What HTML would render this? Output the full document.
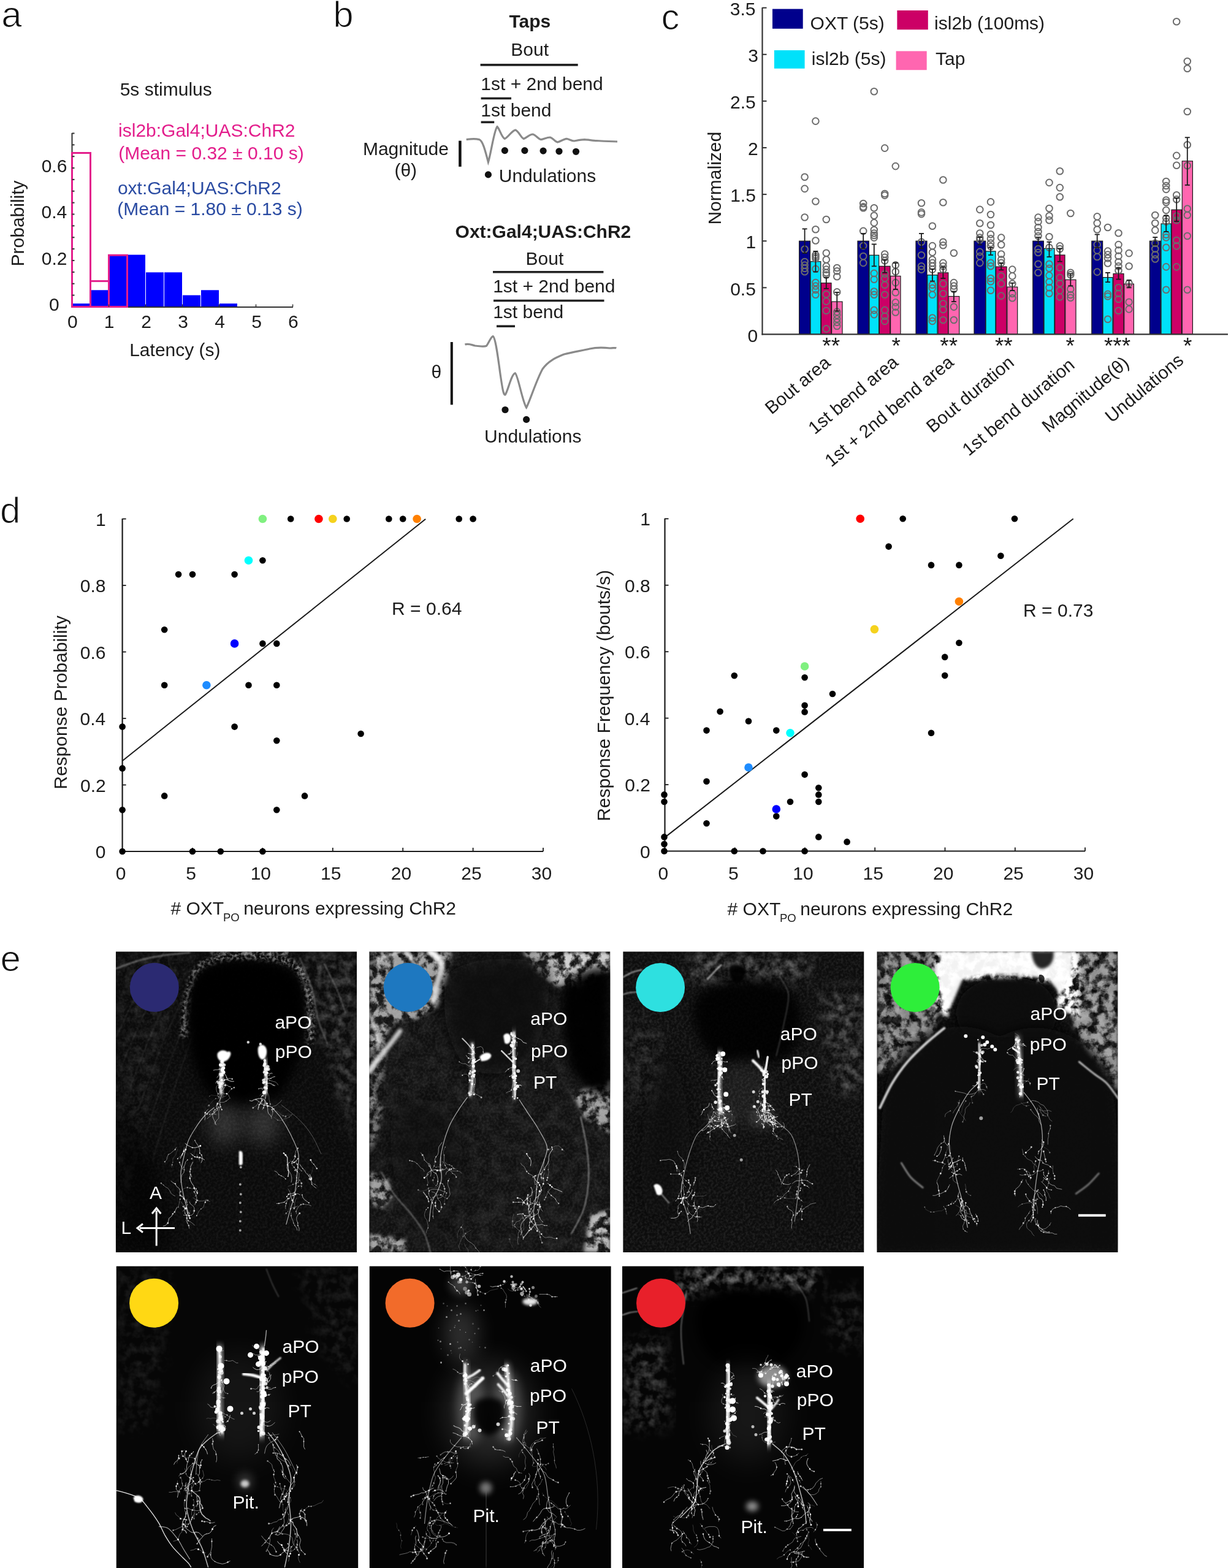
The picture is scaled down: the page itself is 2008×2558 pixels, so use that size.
<!DOCTYPE html>
<html><head><meta charset="utf-8"><title>Figure</title>
<style>
html,body{margin:0;padding:0;background:#fff;}
body{width:2008px;height:2558px;overflow:hidden;}
svg{display:block;}
text{font-family:"Liberation Sans", Arial, sans-serif;}
</style></head>
<body>
<svg width="2008" height="2558" viewBox="0 0 2008 2558">
<text x="2.20" y="44.20" font-size="60" fill="#111" stroke="#fff" stroke-width="1.2" >a</text>
<rect x="118.0" y="495.2" width="29.0" height="5.3" fill="#0000FF" stroke="none" stroke-width="0" />
<rect x="148.0" y="473.3" width="29.0" height="27.2" fill="#0000FF" stroke="none" stroke-width="0" />
<rect x="178.0" y="416.3" width="29.0" height="84.2" fill="#0000FF" stroke="none" stroke-width="0" />
<rect x="208.0" y="415.6" width="29.0" height="84.9" fill="#0000FF" stroke="none" stroke-width="0" />
<rect x="238.0" y="444.3" width="29.0" height="56.2" fill="#0000FF" stroke="none" stroke-width="0" />
<rect x="268.0" y="444.3" width="29.0" height="56.2" fill="#0000FF" stroke="none" stroke-width="0" />
<rect x="298.0" y="481.6" width="29.0" height="18.9" fill="#0000FF" stroke="none" stroke-width="0" />
<rect x="328.0" y="473.3" width="29.0" height="27.2" fill="#0000FF" stroke="none" stroke-width="0" />
<rect x="358.0" y="495.2" width="29.0" height="5.3" fill="#0000FF" stroke="none" stroke-width="0" />
<line x1="117.5" y1="217" x2="117.5" y2="501.5" stroke="#333" stroke-width="2" />
<line x1="116.5" y1="501.0" x2="478" y2="501.0" stroke="#333" stroke-width="2" />
<rect x="117.5" y="249.5" width="30.0" height="251.0" fill="none" stroke="#E31E8C" stroke-width="3" />
<rect x="147.5" y="458.6" width="30.0" height="41.9" fill="none" stroke="#E31E8C" stroke-width="3" />
<rect x="177.5" y="416.3" width="30.0" height="84.2" fill="none" stroke="#E31E8C" stroke-width="3" />
<line x1="117.5" y1="481.6" x2="121.5" y2="481.6" stroke="#333" stroke-width="2" />
<line x1="117.5" y1="462.8" x2="121.5" y2="462.8" stroke="#333" stroke-width="2" />
<line x1="117.5" y1="443.9" x2="121.5" y2="443.9" stroke="#333" stroke-width="2" />
<line x1="117.5" y1="425.0" x2="121.5" y2="425.0" stroke="#333" stroke-width="2" />
<line x1="117.5" y1="406.1" x2="121.5" y2="406.1" stroke="#333" stroke-width="2" />
<line x1="117.5" y1="387.3" x2="121.5" y2="387.3" stroke="#333" stroke-width="2" />
<line x1="117.5" y1="368.4" x2="121.5" y2="368.4" stroke="#333" stroke-width="2" />
<line x1="117.5" y1="349.5" x2="121.5" y2="349.5" stroke="#333" stroke-width="2" />
<line x1="117.5" y1="330.7" x2="121.5" y2="330.7" stroke="#333" stroke-width="2" />
<line x1="117.5" y1="311.8" x2="121.5" y2="311.8" stroke="#333" stroke-width="2" />
<line x1="117.5" y1="292.9" x2="121.5" y2="292.9" stroke="#333" stroke-width="2" />
<line x1="117.5" y1="274.1" x2="121.5" y2="274.1" stroke="#333" stroke-width="2" />
<line x1="117.5" y1="255.2" x2="121.5" y2="255.2" stroke="#333" stroke-width="2" />
<line x1="117.5" y1="236.3" x2="121.5" y2="236.3" stroke="#333" stroke-width="2" />
<line x1="117.5" y1="217.5" x2="121.5" y2="217.5" stroke="#333" stroke-width="2" />
<line x1="177.5" y1="500.5" x2="177.5" y2="496.5" stroke="#333" stroke-width="1.5" />
<line x1="237.5" y1="500.5" x2="237.5" y2="496.5" stroke="#333" stroke-width="1.5" />
<line x1="297.5" y1="500.5" x2="297.5" y2="496.5" stroke="#333" stroke-width="1.5" />
<line x1="357.5" y1="500.5" x2="357.5" y2="496.5" stroke="#333" stroke-width="1.5" />
<line x1="417.5" y1="500.5" x2="417.5" y2="496.5" stroke="#333" stroke-width="1.5" />
<line x1="477.5" y1="500.5" x2="477.5" y2="496.5" stroke="#333" stroke-width="1.5" />
<text x="110.10" y="535.40" font-size="30" fill="#1c1c1c" >0</text>
<text x="169.72" y="535.40" font-size="30" fill="#1c1c1c" >1</text>
<text x="230.18" y="535.40" font-size="30" fill="#1c1c1c" >2</text>
<text x="290.18" y="535.40" font-size="30" fill="#1c1c1c" >3</text>
<text x="350.32" y="535.40" font-size="30" fill="#1c1c1c" >4</text>
<text x="410.18" y="535.40" font-size="30" fill="#1c1c1c" >5</text>
<text x="470.02" y="535.40" font-size="30" fill="#1c1c1c" >6</text>
<text x="80.10" y="507.00" font-size="30" fill="#1c1c1c" >0</text>
<text x="67.80" y="431.50" font-size="30" fill="#1c1c1c" >0.2</text>
<text x="67.50" y="356.00" font-size="30" fill="#1c1c1c" >0.4</text>
<text x="67.65" y="280.60" font-size="30" fill="#1c1c1c" >0.6</text>
<text x="211.20" y="581.10" font-size="30" fill="#1c1c1c" >Latency (s)</text>
<text x="-71.25" y="0" font-size="30" fill="#1c1c1c" transform="translate(38.70,363.20) rotate(-90)">Probability</text>
<text x="195.70" y="155.60" font-size="30" fill="#1c1c1c" >5s stimulus</text>
<text x="193.05" y="222.70" font-size="30" fill="#E31E8C" >isl2b:Gal4;UAS:ChR2</text>
<text x="193.20" y="259.60" font-size="30" fill="#E31E8C" >(Mean = 0.32 ± 0.10 s)</text>
<text x="191.90" y="316.70" font-size="30" fill="#2A4BA2" >oxt:Gal4;UAS:ChR2</text>
<text x="191.30" y="351.40" font-size="30" fill="#2A4BA2" >(Mean = 1.80 ± 0.13 s)</text>
<text x="543.30" y="44.20" font-size="60" fill="#111" stroke="#fff" stroke-width="1.2" >b</text>
<text x="830.50" y="44.90" font-size="30" fill="#1c1c1c" font-weight="bold" >Taps</text>
<text x="833.30" y="91.10" font-size="30" fill="#1c1c1c" >Bout</text>
<line x1="783.6" y1="105.9" x2="942.7" y2="105.9" stroke="#222" stroke-width="3.6" />
<text x="784.35" y="146.50" font-size="30" fill="#1c1c1c" >1st + 2nd bend</text>
<line x1="784.6" y1="160.5" x2="834" y2="160.5" stroke="#222" stroke-width="3.6" />
<text x="784.35" y="190.00" font-size="30" fill="#1c1c1c" >1st bend</text>
<line x1="784.6" y1="199.3" x2="806.2" y2="199.3" stroke="#222" stroke-width="3.6" />
<path d="M760.7,227.6 C768,226.5 776,226 781.6,227.6 C788,230 792,248 796.4,264.5 C801,250 806,212 811.1,206.7 C815,210 818,224 823.4,226.4 C829,224 835,213 840.7,212.1 C846,214 850,225 854.2,226.4 C859,225 864,219 869,219 C874,220 878,227 882.5,227.6 C887,227 892,224 897.2,224 C902,225 905,231 909.5,232 C914,231 919,227 924.3,226.4 C929,227 932,230 936.6,230 C942,229 948,227.6 953.8,227.6 C960,228 968,229.5 973.4,229.6 C982,230 992,230.5 1007,231" fill="none" stroke="#8a8a8a" stroke-width="3.2"/>
<line x1="750.4" y1="229.6" x2="750.4" y2="271.9" stroke="#111" stroke-width="4.5" />
<circle cx="823.4" cy="245.6" r="5.6" fill="#111" stroke="none" stroke-width="0" />
<circle cx="855.9" cy="245.6" r="5.6" fill="#111" stroke="none" stroke-width="0" />
<circle cx="886.1" cy="246.1" r="5.6" fill="#111" stroke="none" stroke-width="0" />
<circle cx="912" cy="246.8" r="5.6" fill="#111" stroke="none" stroke-width="0" />
<circle cx="939.5" cy="247.3" r="5.6" fill="#111" stroke="none" stroke-width="0" />
<text x="591.90" y="253.00" font-size="30" fill="#1c1c1c" >Magnitude</text>
<text x="643.40" y="287.90" font-size="30" fill="#1c1c1c" >(θ)</text>
<circle cx="796.4" cy="284.9" r="5.6" fill="#111" stroke="none" stroke-width="0" />
<text x="813.75" y="296.50" font-size="30" fill="#1c1c1c" >Undulations</text>
<text x="742.60" y="387.50" font-size="30" fill="#1c1c1c" font-weight="bold" >Oxt:Gal4;UAS:ChR2</text>
<text x="857.60" y="431.50" font-size="30" fill="#1c1c1c" >Bout</text>
<line x1="804" y1="443.7" x2="984.4" y2="443.7" stroke="#222" stroke-width="3.6" />
<text x="804.15" y="476.50" font-size="30" fill="#1c1c1c" >1st + 2nd bend</text>
<line x1="805" y1="490.5" x2="985.5" y2="490.5" stroke="#222" stroke-width="3.6" />
<text x="804.15" y="518.60" font-size="30" fill="#1c1c1c" >1st bend</text>
<line x1="810" y1="532.2" x2="840" y2="532.2" stroke="#222" stroke-width="3.6" />
<path d="M758.4,562 C765,560 770,563 775,564 C782,565 790,566 793.5,564.3 C797,560 801,549 804,548.6 C808,550 812,580 816,610 C819,630 821,645 824,644 C828,640 834,610 840.3,608.8 C845,612 852,655 858.6,665 C864,655 875,620 885,602 C895,588 908,583 920,578 C935,574 950,572 962,569 C975,566 985,567 995,568 C1000,568 1003,567 1005.4,567.8" fill="none" stroke="#8a8a8a" stroke-width="3.2"/>
<line x1="736.8" y1="558" x2="736.8" y2="660.3" stroke="#111" stroke-width="4" />
<text x="703.50" y="617.00" font-size="30" fill="#1c1c1c" >θ</text>
<circle cx="824" cy="668.5" r="5.6" fill="#111" stroke="none" stroke-width="0" />
<circle cx="858.6" cy="684.4" r="5.6" fill="#111" stroke="none" stroke-width="0" />
<text x="790.05" y="722.40" font-size="30" fill="#1c1c1c" >Undulations</text>
<text x="1078.60" y="48.00" font-size="60" fill="#111" stroke="#fff" stroke-width="1.2" >c</text>
<rect x="1260" y="14.6" width="49.7" height="32.2" fill="#00008C" stroke="none" stroke-width="0" />
<rect x="1463.4" y="17" width="50.4" height="31.3" fill="#CC0066" stroke="none" stroke-width="0" />
<rect x="1262.9" y="82" width="49.7" height="29.8" fill="#00E1FA" stroke="none" stroke-width="0" />
<rect x="1461.6" y="83.4" width="50.1" height="30.8" fill="#FF66B0" stroke="none" stroke-width="0" />
<text x="1321.55" y="47.70" font-size="30" fill="#1c1c1c" >OXT (5s)</text>
<text x="1524.05" y="47.70" font-size="30" fill="#1c1c1c" >isl2b (100ms)</text>
<text x="1323.75" y="106.30" font-size="30" fill="#1c1c1c" >isl2b (5s)</text>
<text x="1526.00" y="106.30" font-size="30" fill="#1c1c1c" >Tap</text>
<rect x="1303.7" y="393.2" width="17.8" height="152.2" fill="#00008C" stroke="#1a1a1a" stroke-width="1.2" />
<rect x="1322" y="426.7" width="16.8" height="118.7" fill="#00E1FA" stroke="#1a1a1a" stroke-width="1.2" />
<rect x="1339.5" y="461.7" width="16.5" height="83.7" fill="#CC0066" stroke="#1a1a1a" stroke-width="1.2" />
<rect x="1356.6" y="492.1" width="17.4" height="53.3" fill="#FF66B0" stroke="#1a1a1a" stroke-width="1.2" />
<rect x="1399" y="393.2" width="18.3" height="152.2" fill="#00008C" stroke="#1a1a1a" stroke-width="1.2" />
<rect x="1418" y="416.3" width="15.7" height="129.1" fill="#00E1FA" stroke="#1a1a1a" stroke-width="1.2" />
<rect x="1434.4" y="434.3" width="17.6" height="111.1" fill="#CC0066" stroke="#1a1a1a" stroke-width="1.2" />
<rect x="1452.6" y="450.4" width="16.4" height="95.0" fill="#FF66B0" stroke="#1a1a1a" stroke-width="1.2" />
<rect x="1494" y="393.2" width="18" height="152.2" fill="#00008C" stroke="#1a1a1a" stroke-width="1.2" />
<rect x="1512.8" y="448.6" width="16.2" height="96.8" fill="#00E1FA" stroke="#1a1a1a" stroke-width="1.2" />
<rect x="1530" y="444.9" width="16.8" height="100.5" fill="#CC0066" stroke="#1a1a1a" stroke-width="1.2" />
<rect x="1547" y="483.5" width="17.8" height="61.9" fill="#FF66B0" stroke="#1a1a1a" stroke-width="1.2" />
<rect x="1589" y="393.2" width="18.7" height="152.2" fill="#00008C" stroke="#1a1a1a" stroke-width="1.2" />
<rect x="1608" y="409.9" width="16" height="135.5" fill="#00E1FA" stroke="#1a1a1a" stroke-width="1.2" />
<rect x="1624.5" y="435.1" width="17.5" height="110.3" fill="#CC0066" stroke="#1a1a1a" stroke-width="1.2" />
<rect x="1642.9" y="468.2" width="16.8" height="77.2" fill="#FF66B0" stroke="#1a1a1a" stroke-width="1.2" />
<rect x="1684.8" y="393.2" width="17.5" height="152.2" fill="#00008C" stroke="#1a1a1a" stroke-width="1.2" />
<rect x="1703" y="405.4" width="17" height="140.0" fill="#00E1FA" stroke="#1a1a1a" stroke-width="1.2" />
<rect x="1720.6" y="416.0" width="16.4" height="129.4" fill="#CC0066" stroke="#1a1a1a" stroke-width="1.2" />
<rect x="1737.7" y="456.4" width="17.3" height="89.0" fill="#FF66B0" stroke="#1a1a1a" stroke-width="1.2" />
<rect x="1780.8" y="393.2" width="17.8" height="152.2" fill="#00008C" stroke="#1a1a1a" stroke-width="1.2" />
<rect x="1799" y="452.6" width="16" height="92.8" fill="#00E1FA" stroke="#1a1a1a" stroke-width="1.2" />
<rect x="1816" y="446.5" width="17" height="98.9" fill="#CC0066" stroke="#1a1a1a" stroke-width="1.2" />
<rect x="1833.7" y="463.2" width="15.7" height="82.2" fill="#FF66B0" stroke="#1a1a1a" stroke-width="1.2" />
<rect x="1875.4" y="393.2" width="17.8" height="152.2" fill="#00008C" stroke="#1a1a1a" stroke-width="1.2" />
<rect x="1894" y="365.0" width="16.3" height="180.4" fill="#00E1FA" stroke="#1a1a1a" stroke-width="1.2" />
<rect x="1911" y="342.2" width="16.4" height="203.2" fill="#CC0066" stroke="#1a1a1a" stroke-width="1.2" />
<rect x="1928.3" y="262.8" width="17.1" height="282.6" fill="#FF66B0" stroke="#1a1a1a" stroke-width="1.2" />
<circle cx="1312.6" cy="288.7" r="5.3" fill="none" stroke="#6c6c6c" stroke-width="2" />
<circle cx="1312.6" cy="307.9" r="5.3" fill="none" stroke="#6c6c6c" stroke-width="2" />
<circle cx="1312.6" cy="354.5" r="5.3" fill="none" stroke="#6c6c6c" stroke-width="2" />
<circle cx="1312.6" cy="406.5" r="5.3" fill="none" stroke="#6c6c6c" stroke-width="2" />
<circle cx="1312.6" cy="427" r="5.3" fill="none" stroke="#6c6c6c" stroke-width="2" />
<circle cx="1312.6" cy="432.5" r="5.3" fill="none" stroke="#6c6c6c" stroke-width="2" />
<circle cx="1312.6" cy="437.8" r="5.3" fill="none" stroke="#6c6c6c" stroke-width="2" />
<circle cx="1312.6" cy="443.2" r="5.3" fill="none" stroke="#6c6c6c" stroke-width="2" />
<circle cx="1330.4" cy="197.6" r="5.3" fill="none" stroke="#6c6c6c" stroke-width="2" />
<circle cx="1330.4" cy="328.5" r="5.3" fill="none" stroke="#6c6c6c" stroke-width="2" />
<circle cx="1330.4" cy="374.2" r="5.3" fill="none" stroke="#6c6c6c" stroke-width="2" />
<circle cx="1330.4" cy="392.5" r="5.3" fill="none" stroke="#6c6c6c" stroke-width="2" />
<circle cx="1330.4" cy="416" r="5.3" fill="none" stroke="#6c6c6c" stroke-width="2" />
<circle cx="1330.4" cy="419" r="5.3" fill="none" stroke="#6c6c6c" stroke-width="2" />
<circle cx="1330.4" cy="421.7" r="5.3" fill="none" stroke="#6c6c6c" stroke-width="2" />
<circle cx="1330.4" cy="438.7" r="5.3" fill="none" stroke="#6c6c6c" stroke-width="2" />
<circle cx="1330.4" cy="461" r="5.3" fill="none" stroke="#6c6c6c" stroke-width="2" />
<circle cx="1330.4" cy="466.5" r="5.3" fill="none" stroke="#6c6c6c" stroke-width="2" />
<circle cx="1330.4" cy="472.8" r="5.3" fill="none" stroke="#6c6c6c" stroke-width="2" />
<circle cx="1330.4" cy="480.8" r="5.3" fill="none" stroke="#6c6c6c" stroke-width="2" />
<circle cx="1347.8" cy="358" r="5.3" fill="none" stroke="#6c6c6c" stroke-width="2" />
<circle cx="1347.8" cy="412.7" r="5.3" fill="none" stroke="#6c6c6c" stroke-width="2" />
<circle cx="1347.8" cy="423.5" r="5.3" fill="none" stroke="#6c6c6c" stroke-width="2" />
<circle cx="1347.8" cy="434.2" r="5.3" fill="none" stroke="#6c6c6c" stroke-width="2" />
<circle cx="1347.8" cy="439.6" r="5.3" fill="none" stroke="#6c6c6c" stroke-width="2" />
<circle cx="1347.8" cy="445" r="5.3" fill="none" stroke="#6c6c6c" stroke-width="2" />
<circle cx="1347.8" cy="448.6" r="5.3" fill="none" stroke="#6c6c6c" stroke-width="2" />
<circle cx="1347.8" cy="480" r="5.3" fill="none" stroke="#6c6c6c" stroke-width="2" />
<circle cx="1347.8" cy="491.6" r="5.3" fill="none" stroke="#6c6c6c" stroke-width="2" />
<circle cx="1347.8" cy="506.8" r="5.3" fill="none" stroke="#6c6c6c" stroke-width="2" />
<circle cx="1347.8" cy="536.4" r="5.3" fill="none" stroke="#6c6c6c" stroke-width="2" />
<circle cx="1365.3" cy="437" r="5.3" fill="none" stroke="#6c6c6c" stroke-width="2" />
<circle cx="1365.3" cy="442.3" r="5.3" fill="none" stroke="#6c6c6c" stroke-width="2" />
<circle cx="1365.3" cy="451.3" r="5.3" fill="none" stroke="#6c6c6c" stroke-width="2" />
<circle cx="1365.3" cy="476.4" r="5.3" fill="none" stroke="#6c6c6c" stroke-width="2" />
<circle cx="1365.3" cy="508.6" r="5.3" fill="none" stroke="#6c6c6c" stroke-width="2" />
<circle cx="1365.3" cy="514" r="5.3" fill="none" stroke="#6c6c6c" stroke-width="2" />
<circle cx="1365.3" cy="520.3" r="5.3" fill="none" stroke="#6c6c6c" stroke-width="2" />
<circle cx="1365.3" cy="525.7" r="5.3" fill="none" stroke="#6c6c6c" stroke-width="2" />
<circle cx="1365.3" cy="532" r="5.3" fill="none" stroke="#6c6c6c" stroke-width="2" />
<circle cx="1408.2" cy="332" r="5.3" fill="none" stroke="#6c6c6c" stroke-width="2" />
<circle cx="1408.2" cy="337.4" r="5.3" fill="none" stroke="#6c6c6c" stroke-width="2" />
<circle cx="1408.2" cy="339.2" r="5.3" fill="none" stroke="#6c6c6c" stroke-width="2" />
<circle cx="1408.2" cy="376.9" r="5.3" fill="none" stroke="#6c6c6c" stroke-width="2" />
<circle cx="1408.2" cy="401" r="5.3" fill="none" stroke="#6c6c6c" stroke-width="2" />
<circle cx="1408.2" cy="418" r="5.3" fill="none" stroke="#6c6c6c" stroke-width="2" />
<circle cx="1408.2" cy="428.9" r="5.3" fill="none" stroke="#6c6c6c" stroke-width="2" />
<circle cx="1425.8" cy="149.3" r="5.3" fill="none" stroke="#6c6c6c" stroke-width="2" />
<circle cx="1425.8" cy="339.2" r="5.3" fill="none" stroke="#6c6c6c" stroke-width="2" />
<circle cx="1425.8" cy="351.8" r="5.3" fill="none" stroke="#6c6c6c" stroke-width="2" />
<circle cx="1425.8" cy="363.4" r="5.3" fill="none" stroke="#6c6c6c" stroke-width="2" />
<circle cx="1425.8" cy="375" r="5.3" fill="none" stroke="#6c6c6c" stroke-width="2" />
<circle cx="1425.8" cy="380.5" r="5.3" fill="none" stroke="#6c6c6c" stroke-width="2" />
<circle cx="1425.8" cy="384" r="5.3" fill="none" stroke="#6c6c6c" stroke-width="2" />
<circle cx="1425.8" cy="387.6" r="5.3" fill="none" stroke="#6c6c6c" stroke-width="2" />
<circle cx="1425.8" cy="445.9" r="5.3" fill="none" stroke="#6c6c6c" stroke-width="2" />
<circle cx="1425.8" cy="455.7" r="5.3" fill="none" stroke="#6c6c6c" stroke-width="2" />
<circle cx="1425.8" cy="475.5" r="5.3" fill="none" stroke="#6c6c6c" stroke-width="2" />
<circle cx="1425.8" cy="480.8" r="5.3" fill="none" stroke="#6c6c6c" stroke-width="2" />
<circle cx="1425.8" cy="505.9" r="5.3" fill="none" stroke="#6c6c6c" stroke-width="2" />
<circle cx="1425.8" cy="513.1" r="5.3" fill="none" stroke="#6c6c6c" stroke-width="2" />
<circle cx="1443.2" cy="241.6" r="5.3" fill="none" stroke="#6c6c6c" stroke-width="2" />
<circle cx="1443.2" cy="316" r="5.3" fill="none" stroke="#6c6c6c" stroke-width="2" />
<circle cx="1443.2" cy="318.6" r="5.3" fill="none" stroke="#6c6c6c" stroke-width="2" />
<circle cx="1443.2" cy="414.5" r="5.3" fill="none" stroke="#6c6c6c" stroke-width="2" />
<circle cx="1443.2" cy="419.9" r="5.3" fill="none" stroke="#6c6c6c" stroke-width="2" />
<circle cx="1443.2" cy="425.3" r="5.3" fill="none" stroke="#6c6c6c" stroke-width="2" />
<circle cx="1443.2" cy="446.8" r="5.3" fill="none" stroke="#6c6c6c" stroke-width="2" />
<circle cx="1443.2" cy="454" r="5.3" fill="none" stroke="#6c6c6c" stroke-width="2" />
<circle cx="1443.2" cy="464.7" r="5.3" fill="none" stroke="#6c6c6c" stroke-width="2" />
<circle cx="1443.2" cy="480.8" r="5.3" fill="none" stroke="#6c6c6c" stroke-width="2" />
<circle cx="1443.2" cy="505.9" r="5.3" fill="none" stroke="#6c6c6c" stroke-width="2" />
<circle cx="1443.2" cy="515.8" r="5.3" fill="none" stroke="#6c6c6c" stroke-width="2" />
<circle cx="1443.2" cy="523.9" r="5.3" fill="none" stroke="#6c6c6c" stroke-width="2" />
<circle cx="1460.8" cy="271.1" r="5.3" fill="none" stroke="#6c6c6c" stroke-width="2" />
<circle cx="1460.8" cy="432.4" r="5.3" fill="none" stroke="#6c6c6c" stroke-width="2" />
<circle cx="1460.8" cy="443.2" r="5.3" fill="none" stroke="#6c6c6c" stroke-width="2" />
<circle cx="1460.8" cy="461.1" r="5.3" fill="none" stroke="#6c6c6c" stroke-width="2" />
<circle cx="1460.8" cy="477.3" r="5.3" fill="none" stroke="#6c6c6c" stroke-width="2" />
<circle cx="1460.8" cy="493.4" r="5.3" fill="none" stroke="#6c6c6c" stroke-width="2" />
<circle cx="1460.8" cy="500.6" r="5.3" fill="none" stroke="#6c6c6c" stroke-width="2" />
<circle cx="1460.8" cy="509.5" r="5.3" fill="none" stroke="#6c6c6c" stroke-width="2" />
<circle cx="1503.0" cy="331.2" r="5.3" fill="none" stroke="#6c6c6c" stroke-width="2" />
<circle cx="1503.0" cy="346.4" r="5.3" fill="none" stroke="#6c6c6c" stroke-width="2" />
<circle cx="1503.0" cy="349.1" r="5.3" fill="none" stroke="#6c6c6c" stroke-width="2" />
<circle cx="1503.0" cy="394.8" r="5.3" fill="none" stroke="#6c6c6c" stroke-width="2" />
<circle cx="1503.0" cy="416.3" r="5.3" fill="none" stroke="#6c6c6c" stroke-width="2" />
<circle cx="1503.0" cy="434.2" r="5.3" fill="none" stroke="#6c6c6c" stroke-width="2" />
<circle cx="1503.0" cy="439.6" r="5.3" fill="none" stroke="#6c6c6c" stroke-width="2" />
<circle cx="1520.9" cy="368.8" r="5.3" fill="none" stroke="#6c6c6c" stroke-width="2" />
<circle cx="1520.9" cy="401.1" r="5.3" fill="none" stroke="#6c6c6c" stroke-width="2" />
<circle cx="1520.9" cy="411.8" r="5.3" fill="none" stroke="#6c6c6c" stroke-width="2" />
<circle cx="1520.9" cy="423.5" r="5.3" fill="none" stroke="#6c6c6c" stroke-width="2" />
<circle cx="1520.9" cy="428.9" r="5.3" fill="none" stroke="#6c6c6c" stroke-width="2" />
<circle cx="1520.9" cy="434.2" r="5.3" fill="none" stroke="#6c6c6c" stroke-width="2" />
<circle cx="1520.9" cy="439.6" r="5.3" fill="none" stroke="#6c6c6c" stroke-width="2" />
<circle cx="1520.9" cy="464.7" r="5.3" fill="none" stroke="#6c6c6c" stroke-width="2" />
<circle cx="1520.9" cy="470.1" r="5.3" fill="none" stroke="#6c6c6c" stroke-width="2" />
<circle cx="1520.9" cy="480.8" r="5.3" fill="none" stroke="#6c6c6c" stroke-width="2" />
<circle cx="1520.9" cy="518.5" r="5.3" fill="none" stroke="#6c6c6c" stroke-width="2" />
<circle cx="1520.9" cy="523.9" r="5.3" fill="none" stroke="#6c6c6c" stroke-width="2" />
<circle cx="1538.4" cy="293.5" r="5.3" fill="none" stroke="#6c6c6c" stroke-width="2" />
<circle cx="1538.4" cy="330.3" r="5.3" fill="none" stroke="#6c6c6c" stroke-width="2" />
<circle cx="1538.4" cy="394.8" r="5.3" fill="none" stroke="#6c6c6c" stroke-width="2" />
<circle cx="1538.4" cy="400.2" r="5.3" fill="none" stroke="#6c6c6c" stroke-width="2" />
<circle cx="1538.4" cy="428.9" r="5.3" fill="none" stroke="#6c6c6c" stroke-width="2" />
<circle cx="1538.4" cy="434.2" r="5.3" fill="none" stroke="#6c6c6c" stroke-width="2" />
<circle cx="1538.4" cy="439.6" r="5.3" fill="none" stroke="#6c6c6c" stroke-width="2" />
<circle cx="1538.4" cy="462.9" r="5.3" fill="none" stroke="#6c6c6c" stroke-width="2" />
<circle cx="1538.4" cy="479" r="5.3" fill="none" stroke="#6c6c6c" stroke-width="2" />
<circle cx="1538.4" cy="495.2" r="5.3" fill="none" stroke="#6c6c6c" stroke-width="2" />
<circle cx="1538.4" cy="505" r="5.3" fill="none" stroke="#6c6c6c" stroke-width="2" />
<circle cx="1538.4" cy="522" r="5.3" fill="none" stroke="#6c6c6c" stroke-width="2" />
<circle cx="1555.9" cy="412.7" r="5.3" fill="none" stroke="#6c6c6c" stroke-width="2" />
<circle cx="1555.9" cy="461.1" r="5.3" fill="none" stroke="#6c6c6c" stroke-width="2" />
<circle cx="1555.9" cy="466.5" r="5.3" fill="none" stroke="#6c6c6c" stroke-width="2" />
<circle cx="1555.9" cy="471.9" r="5.3" fill="none" stroke="#6c6c6c" stroke-width="2" />
<circle cx="1555.9" cy="500.6" r="5.3" fill="none" stroke="#6c6c6c" stroke-width="2" />
<circle cx="1555.9" cy="522" r="5.3" fill="none" stroke="#6c6c6c" stroke-width="2" />
<circle cx="1598.3" cy="341.9" r="5.3" fill="none" stroke="#6c6c6c" stroke-width="2" />
<circle cx="1598.3" cy="364.3" r="5.3" fill="none" stroke="#6c6c6c" stroke-width="2" />
<circle cx="1598.3" cy="380.5" r="5.3" fill="none" stroke="#6c6c6c" stroke-width="2" />
<circle cx="1598.3" cy="387.6" r="5.3" fill="none" stroke="#6c6c6c" stroke-width="2" />
<circle cx="1598.3" cy="391.2" r="5.3" fill="none" stroke="#6c6c6c" stroke-width="2" />
<circle cx="1598.3" cy="410.9" r="5.3" fill="none" stroke="#6c6c6c" stroke-width="2" />
<circle cx="1598.3" cy="418" r="5.3" fill="none" stroke="#6c6c6c" stroke-width="2" />
<circle cx="1598.3" cy="428.9" r="5.3" fill="none" stroke="#6c6c6c" stroke-width="2" />
<circle cx="1616.0" cy="329.4" r="5.3" fill="none" stroke="#6c6c6c" stroke-width="2" />
<circle cx="1616.0" cy="350" r="5.3" fill="none" stroke="#6c6c6c" stroke-width="2" />
<circle cx="1616.0" cy="367" r="5.3" fill="none" stroke="#6c6c6c" stroke-width="2" />
<circle cx="1616.0" cy="382.3" r="5.3" fill="none" stroke="#6c6c6c" stroke-width="2" />
<circle cx="1616.0" cy="389.4" r="5.3" fill="none" stroke="#6c6c6c" stroke-width="2" />
<circle cx="1616.0" cy="396.6" r="5.3" fill="none" stroke="#6c6c6c" stroke-width="2" />
<circle cx="1616.0" cy="402" r="5.3" fill="none" stroke="#6c6c6c" stroke-width="2" />
<circle cx="1616.0" cy="428.9" r="5.3" fill="none" stroke="#6c6c6c" stroke-width="2" />
<circle cx="1616.0" cy="434.2" r="5.3" fill="none" stroke="#6c6c6c" stroke-width="2" />
<circle cx="1616.0" cy="454" r="5.3" fill="none" stroke="#6c6c6c" stroke-width="2" />
<circle cx="1616.0" cy="459.3" r="5.3" fill="none" stroke="#6c6c6c" stroke-width="2" />
<circle cx="1616.0" cy="473.7" r="5.3" fill="none" stroke="#6c6c6c" stroke-width="2" />
<circle cx="1633.2" cy="387.6" r="5.3" fill="none" stroke="#6c6c6c" stroke-width="2" />
<circle cx="1633.2" cy="399.3" r="5.3" fill="none" stroke="#6c6c6c" stroke-width="2" />
<circle cx="1633.2" cy="414.5" r="5.3" fill="none" stroke="#6c6c6c" stroke-width="2" />
<circle cx="1633.2" cy="423.5" r="5.3" fill="none" stroke="#6c6c6c" stroke-width="2" />
<circle cx="1633.2" cy="428.9" r="5.3" fill="none" stroke="#6c6c6c" stroke-width="2" />
<circle cx="1633.2" cy="450.4" r="5.3" fill="none" stroke="#6c6c6c" stroke-width="2" />
<circle cx="1633.2" cy="462.9" r="5.3" fill="none" stroke="#6c6c6c" stroke-width="2" />
<circle cx="1633.2" cy="482.6" r="5.3" fill="none" stroke="#6c6c6c" stroke-width="2" />
<circle cx="1651.3" cy="439.6" r="5.3" fill="none" stroke="#6c6c6c" stroke-width="2" />
<circle cx="1651.3" cy="450.4" r="5.3" fill="none" stroke="#6c6c6c" stroke-width="2" />
<circle cx="1651.3" cy="462.9" r="5.3" fill="none" stroke="#6c6c6c" stroke-width="2" />
<circle cx="1651.3" cy="479" r="5.3" fill="none" stroke="#6c6c6c" stroke-width="2" />
<circle cx="1651.3" cy="486.2" r="5.3" fill="none" stroke="#6c6c6c" stroke-width="2" />
<circle cx="1693.5" cy="354.6" r="5.3" fill="none" stroke="#6c6c6c" stroke-width="2" />
<circle cx="1693.5" cy="361.6" r="5.3" fill="none" stroke="#6c6c6c" stroke-width="2" />
<circle cx="1693.5" cy="371" r="5.3" fill="none" stroke="#6c6c6c" stroke-width="2" />
<circle cx="1693.5" cy="378" r="5.3" fill="none" stroke="#6c6c6c" stroke-width="2" />
<circle cx="1693.5" cy="385" r="5.3" fill="none" stroke="#6c6c6c" stroke-width="2" />
<circle cx="1693.5" cy="406" r="5.3" fill="none" stroke="#6c6c6c" stroke-width="2" />
<circle cx="1693.5" cy="412" r="5.3" fill="none" stroke="#6c6c6c" stroke-width="2" />
<circle cx="1693.5" cy="430.7" r="5.3" fill="none" stroke="#6c6c6c" stroke-width="2" />
<circle cx="1693.5" cy="444.7" r="5.3" fill="none" stroke="#6c6c6c" stroke-width="2" />
<circle cx="1711.5" cy="297.9" r="5.3" fill="none" stroke="#6c6c6c" stroke-width="2" />
<circle cx="1711.5" cy="340" r="5.3" fill="none" stroke="#6c6c6c" stroke-width="2" />
<circle cx="1711.5" cy="352.2" r="5.3" fill="none" stroke="#6c6c6c" stroke-width="2" />
<circle cx="1711.5" cy="359.3" r="5.3" fill="none" stroke="#6c6c6c" stroke-width="2" />
<circle cx="1711.5" cy="386.2" r="5.3" fill="none" stroke="#6c6c6c" stroke-width="2" />
<circle cx="1711.5" cy="403.7" r="5.3" fill="none" stroke="#6c6c6c" stroke-width="2" />
<circle cx="1711.5" cy="430.7" r="5.3" fill="none" stroke="#6c6c6c" stroke-width="2" />
<circle cx="1711.5" cy="437.7" r="5.3" fill="none" stroke="#6c6c6c" stroke-width="2" />
<circle cx="1711.5" cy="449.4" r="5.3" fill="none" stroke="#6c6c6c" stroke-width="2" />
<circle cx="1711.5" cy="460" r="5.3" fill="none" stroke="#6c6c6c" stroke-width="2" />
<circle cx="1711.5" cy="469.3" r="5.3" fill="none" stroke="#6c6c6c" stroke-width="2" />
<circle cx="1711.5" cy="478.7" r="5.3" fill="none" stroke="#6c6c6c" stroke-width="2" />
<circle cx="1728.8" cy="279.2" r="5.3" fill="none" stroke="#6c6c6c" stroke-width="2" />
<circle cx="1728.8" cy="306.1" r="5.3" fill="none" stroke="#6c6c6c" stroke-width="2" />
<circle cx="1728.8" cy="321.3" r="5.3" fill="none" stroke="#6c6c6c" stroke-width="2" />
<circle cx="1728.8" cy="401.4" r="5.3" fill="none" stroke="#6c6c6c" stroke-width="2" />
<circle cx="1728.8" cy="406" r="5.3" fill="none" stroke="#6c6c6c" stroke-width="2" />
<circle cx="1728.8" cy="436.5" r="5.3" fill="none" stroke="#6c6c6c" stroke-width="2" />
<circle cx="1728.8" cy="452.9" r="5.3" fill="none" stroke="#6c6c6c" stroke-width="2" />
<circle cx="1728.8" cy="462.3" r="5.3" fill="none" stroke="#6c6c6c" stroke-width="2" />
<circle cx="1728.8" cy="474" r="5.3" fill="none" stroke="#6c6c6c" stroke-width="2" />
<circle cx="1728.8" cy="484.5" r="5.3" fill="none" stroke="#6c6c6c" stroke-width="2" />
<circle cx="1746.3" cy="348" r="5.3" fill="none" stroke="#6c6c6c" stroke-width="2" />
<circle cx="1746.3" cy="444.7" r="5.3" fill="none" stroke="#6c6c6c" stroke-width="2" />
<circle cx="1746.3" cy="448.2" r="5.3" fill="none" stroke="#6c6c6c" stroke-width="2" />
<circle cx="1746.3" cy="471.7" r="5.3" fill="none" stroke="#6c6c6c" stroke-width="2" />
<circle cx="1746.3" cy="481" r="5.3" fill="none" stroke="#6c6c6c" stroke-width="2" />
<circle cx="1746.3" cy="485.7" r="5.3" fill="none" stroke="#6c6c6c" stroke-width="2" />
<circle cx="1789.7" cy="353.4" r="5.3" fill="none" stroke="#6c6c6c" stroke-width="2" />
<circle cx="1789.7" cy="364" r="5.3" fill="none" stroke="#6c6c6c" stroke-width="2" />
<circle cx="1789.7" cy="374.5" r="5.3" fill="none" stroke="#6c6c6c" stroke-width="2" />
<circle cx="1789.7" cy="399.1" r="5.3" fill="none" stroke="#6c6c6c" stroke-width="2" />
<circle cx="1789.7" cy="408.4" r="5.3" fill="none" stroke="#6c6c6c" stroke-width="2" />
<circle cx="1789.7" cy="419" r="5.3" fill="none" stroke="#6c6c6c" stroke-width="2" />
<circle cx="1789.7" cy="443.6" r="5.3" fill="none" stroke="#6c6c6c" stroke-width="2" />
<circle cx="1807.0" cy="371" r="5.3" fill="none" stroke="#6c6c6c" stroke-width="2" />
<circle cx="1807.0" cy="409.6" r="5.3" fill="none" stroke="#6c6c6c" stroke-width="2" />
<circle cx="1807.0" cy="415.5" r="5.3" fill="none" stroke="#6c6c6c" stroke-width="2" />
<circle cx="1807.0" cy="421.3" r="5.3" fill="none" stroke="#6c6c6c" stroke-width="2" />
<circle cx="1807.0" cy="429.5" r="5.3" fill="none" stroke="#6c6c6c" stroke-width="2" />
<circle cx="1807.0" cy="479.9" r="5.3" fill="none" stroke="#6c6c6c" stroke-width="2" />
<circle cx="1807.0" cy="483.4" r="5.3" fill="none" stroke="#6c6c6c" stroke-width="2" />
<circle cx="1807.0" cy="520.8" r="5.3" fill="none" stroke="#6c6c6c" stroke-width="2" />
<circle cx="1824.5" cy="380.3" r="5.3" fill="none" stroke="#6c6c6c" stroke-width="2" />
<circle cx="1824.5" cy="399.1" r="5.3" fill="none" stroke="#6c6c6c" stroke-width="2" />
<circle cx="1824.5" cy="408.4" r="5.3" fill="none" stroke="#6c6c6c" stroke-width="2" />
<circle cx="1824.5" cy="417.8" r="5.3" fill="none" stroke="#6c6c6c" stroke-width="2" />
<circle cx="1824.5" cy="427.2" r="5.3" fill="none" stroke="#6c6c6c" stroke-width="2" />
<circle cx="1824.5" cy="434.2" r="5.3" fill="none" stroke="#6c6c6c" stroke-width="2" />
<circle cx="1824.5" cy="441.2" r="5.3" fill="none" stroke="#6c6c6c" stroke-width="2" />
<circle cx="1824.5" cy="469.3" r="5.3" fill="none" stroke="#6c6c6c" stroke-width="2" />
<circle cx="1824.5" cy="478.7" r="5.3" fill="none" stroke="#6c6c6c" stroke-width="2" />
<circle cx="1824.5" cy="488" r="5.3" fill="none" stroke="#6c6c6c" stroke-width="2" />
<circle cx="1824.5" cy="506.8" r="5.3" fill="none" stroke="#6c6c6c" stroke-width="2" />
<circle cx="1841.6" cy="413.1" r="5.3" fill="none" stroke="#6c6c6c" stroke-width="2" />
<circle cx="1841.6" cy="434.2" r="5.3" fill="none" stroke="#6c6c6c" stroke-width="2" />
<circle cx="1841.6" cy="462.3" r="5.3" fill="none" stroke="#6c6c6c" stroke-width="2" />
<circle cx="1841.6" cy="492.7" r="5.3" fill="none" stroke="#6c6c6c" stroke-width="2" />
<circle cx="1841.6" cy="504.4" r="5.3" fill="none" stroke="#6c6c6c" stroke-width="2" />
<circle cx="1884.3" cy="351" r="5.3" fill="none" stroke="#6c6c6c" stroke-width="2" />
<circle cx="1884.3" cy="364" r="5.3" fill="none" stroke="#6c6c6c" stroke-width="2" />
<circle cx="1884.3" cy="375.6" r="5.3" fill="none" stroke="#6c6c6c" stroke-width="2" />
<circle cx="1884.3" cy="396.7" r="5.3" fill="none" stroke="#6c6c6c" stroke-width="2" />
<circle cx="1884.3" cy="406" r="5.3" fill="none" stroke="#6c6c6c" stroke-width="2" />
<circle cx="1884.3" cy="415.5" r="5.3" fill="none" stroke="#6c6c6c" stroke-width="2" />
<circle cx="1884.3" cy="422.5" r="5.3" fill="none" stroke="#6c6c6c" stroke-width="2" />
<circle cx="1902.2" cy="296" r="5.3" fill="none" stroke="#6c6c6c" stroke-width="2" />
<circle cx="1902.2" cy="303" r="5.3" fill="none" stroke="#6c6c6c" stroke-width="2" />
<circle cx="1902.2" cy="308.9" r="5.3" fill="none" stroke="#6c6c6c" stroke-width="2" />
<circle cx="1902.2" cy="326.5" r="5.3" fill="none" stroke="#6c6c6c" stroke-width="2" />
<circle cx="1902.2" cy="330" r="5.3" fill="none" stroke="#6c6c6c" stroke-width="2" />
<circle cx="1902.2" cy="342.9" r="5.3" fill="none" stroke="#6c6c6c" stroke-width="2" />
<circle cx="1902.2" cy="355.7" r="5.3" fill="none" stroke="#6c6c6c" stroke-width="2" />
<circle cx="1902.2" cy="361.6" r="5.3" fill="none" stroke="#6c6c6c" stroke-width="2" />
<circle cx="1902.2" cy="382.7" r="5.3" fill="none" stroke="#6c6c6c" stroke-width="2" />
<circle cx="1902.2" cy="387.4" r="5.3" fill="none" stroke="#6c6c6c" stroke-width="2" />
<circle cx="1902.2" cy="403.7" r="5.3" fill="none" stroke="#6c6c6c" stroke-width="2" />
<circle cx="1902.2" cy="435.4" r="5.3" fill="none" stroke="#6c6c6c" stroke-width="2" />
<circle cx="1902.2" cy="472.8" r="5.3" fill="none" stroke="#6c6c6c" stroke-width="2" />
<circle cx="1919.2" cy="35.3" r="5.3" fill="none" stroke="#6c6c6c" stroke-width="2" />
<circle cx="1919.2" cy="253.9" r="5.3" fill="none" stroke="#6c6c6c" stroke-width="2" />
<circle cx="1919.2" cy="269.8" r="5.3" fill="none" stroke="#6c6c6c" stroke-width="2" />
<circle cx="1919.2" cy="318.3" r="5.3" fill="none" stroke="#6c6c6c" stroke-width="2" />
<circle cx="1919.2" cy="325.3" r="5.3" fill="none" stroke="#6c6c6c" stroke-width="2" />
<circle cx="1919.2" cy="352.2" r="5.3" fill="none" stroke="#6c6c6c" stroke-width="2" />
<circle cx="1919.2" cy="359.3" r="5.3" fill="none" stroke="#6c6c6c" stroke-width="2" />
<circle cx="1919.2" cy="392" r="5.3" fill="none" stroke="#6c6c6c" stroke-width="2" />
<circle cx="1919.2" cy="401.4" r="5.3" fill="none" stroke="#6c6c6c" stroke-width="2" />
<circle cx="1919.2" cy="435.4" r="5.3" fill="none" stroke="#6c6c6c" stroke-width="2" />
<circle cx="1936.8" cy="100" r="5.3" fill="none" stroke="#6c6c6c" stroke-width="2" />
<circle cx="1936.8" cy="111.7" r="5.3" fill="none" stroke="#6c6c6c" stroke-width="2" />
<circle cx="1936.8" cy="182" r="5.3" fill="none" stroke="#6c6c6c" stroke-width="2" />
<circle cx="1936.8" cy="236.3" r="5.3" fill="none" stroke="#6c6c6c" stroke-width="2" />
<circle cx="1936.8" cy="270.3" r="5.3" fill="none" stroke="#6c6c6c" stroke-width="2" />
<circle cx="1936.8" cy="340.5" r="5.3" fill="none" stroke="#6c6c6c" stroke-width="2" />
<circle cx="1936.8" cy="351" r="5.3" fill="none" stroke="#6c6c6c" stroke-width="2" />
<circle cx="1936.8" cy="385" r="5.3" fill="none" stroke="#6c6c6c" stroke-width="2" />
<circle cx="1936.8" cy="472.8" r="5.3" fill="none" stroke="#6c6c6c" stroke-width="2" />
<line x1="1312.6" y1="373.4" x2="1312.6" y2="413.0" stroke="#1a1a1a" stroke-width="1.8" />
<line x1="1308.6" y1="373.4" x2="1316.6" y2="373.4" stroke="#1a1a1a" stroke-width="1.8" />
<line x1="1308.6" y1="413.0" x2="1316.6" y2="413.0" stroke="#1a1a1a" stroke-width="1.8" />
<line x1="1330.4" y1="409.9" x2="1330.4" y2="443.4" stroke="#1a1a1a" stroke-width="1.8" />
<line x1="1326.4" y1="409.9" x2="1334.4" y2="409.9" stroke="#1a1a1a" stroke-width="1.8" />
<line x1="1326.4" y1="443.4" x2="1334.4" y2="443.4" stroke="#1a1a1a" stroke-width="1.8" />
<line x1="1347.8" y1="452.6" x2="1347.8" y2="470.8" stroke="#1a1a1a" stroke-width="1.8" />
<line x1="1343.8" y1="452.6" x2="1351.8" y2="452.6" stroke="#1a1a1a" stroke-width="1.8" />
<line x1="1343.8" y1="470.8" x2="1351.8" y2="470.8" stroke="#1a1a1a" stroke-width="1.8" />
<line x1="1365.3" y1="476.9" x2="1365.3" y2="507.3" stroke="#1a1a1a" stroke-width="1.8" />
<line x1="1361.3" y1="476.9" x2="1369.3" y2="476.9" stroke="#1a1a1a" stroke-width="1.8" />
<line x1="1361.3" y1="507.3" x2="1369.3" y2="507.3" stroke="#1a1a1a" stroke-width="1.8" />
<line x1="1408.2" y1="381.0" x2="1408.2" y2="405.4" stroke="#1a1a1a" stroke-width="1.8" />
<line x1="1404.2" y1="381.0" x2="1412.2" y2="381.0" stroke="#1a1a1a" stroke-width="1.8" />
<line x1="1404.2" y1="405.4" x2="1412.2" y2="405.4" stroke="#1a1a1a" stroke-width="1.8" />
<line x1="1425.8" y1="398.4" x2="1425.8" y2="434.3" stroke="#1a1a1a" stroke-width="1.8" />
<line x1="1421.8" y1="398.4" x2="1429.8" y2="398.4" stroke="#1a1a1a" stroke-width="1.8" />
<line x1="1421.8" y1="434.3" x2="1429.8" y2="434.3" stroke="#1a1a1a" stroke-width="1.8" />
<line x1="1443.2" y1="423.6" x2="1443.2" y2="444.9" stroke="#1a1a1a" stroke-width="1.8" />
<line x1="1439.2" y1="423.6" x2="1447.2" y2="423.6" stroke="#1a1a1a" stroke-width="1.8" />
<line x1="1439.2" y1="444.9" x2="1447.2" y2="444.9" stroke="#1a1a1a" stroke-width="1.8" />
<line x1="1460.8" y1="429.0" x2="1460.8" y2="471.9" stroke="#1a1a1a" stroke-width="1.8" />
<line x1="1456.8" y1="429.0" x2="1464.8" y2="429.0" stroke="#1a1a1a" stroke-width="1.8" />
<line x1="1456.8" y1="471.9" x2="1464.8" y2="471.9" stroke="#1a1a1a" stroke-width="1.8" />
<line x1="1503.0" y1="381.0" x2="1503.0" y2="405.4" stroke="#1a1a1a" stroke-width="1.8" />
<line x1="1499.0" y1="381.0" x2="1507.0" y2="381.0" stroke="#1a1a1a" stroke-width="1.8" />
<line x1="1499.0" y1="405.4" x2="1507.0" y2="405.4" stroke="#1a1a1a" stroke-width="1.8" />
<line x1="1520.9" y1="438.9" x2="1520.9" y2="458.6" stroke="#1a1a1a" stroke-width="1.8" />
<line x1="1516.9" y1="438.9" x2="1524.9" y2="438.9" stroke="#1a1a1a" stroke-width="1.8" />
<line x1="1516.9" y1="458.6" x2="1524.9" y2="458.6" stroke="#1a1a1a" stroke-width="1.8" />
<line x1="1538.4" y1="435.8" x2="1538.4" y2="454.1" stroke="#1a1a1a" stroke-width="1.8" />
<line x1="1534.4" y1="435.8" x2="1542.4" y2="435.8" stroke="#1a1a1a" stroke-width="1.8" />
<line x1="1534.4" y1="454.1" x2="1542.4" y2="454.1" stroke="#1a1a1a" stroke-width="1.8" />
<line x1="1555.9" y1="475.4" x2="1555.9" y2="492.1" stroke="#1a1a1a" stroke-width="1.8" />
<line x1="1551.9" y1="475.4" x2="1559.9" y2="475.4" stroke="#1a1a1a" stroke-width="1.8" />
<line x1="1551.9" y1="492.1" x2="1559.9" y2="492.1" stroke="#1a1a1a" stroke-width="1.8" />
<line x1="1598.3" y1="387.1" x2="1598.3" y2="399.3" stroke="#1a1a1a" stroke-width="1.8" />
<line x1="1594.3" y1="387.1" x2="1602.3" y2="387.1" stroke="#1a1a1a" stroke-width="1.8" />
<line x1="1594.3" y1="399.3" x2="1602.3" y2="399.3" stroke="#1a1a1a" stroke-width="1.8" />
<line x1="1616.0" y1="403.9" x2="1616.0" y2="416.0" stroke="#1a1a1a" stroke-width="1.8" />
<line x1="1612.0" y1="403.9" x2="1620.0" y2="403.9" stroke="#1a1a1a" stroke-width="1.8" />
<line x1="1612.0" y1="416.0" x2="1620.0" y2="416.0" stroke="#1a1a1a" stroke-width="1.8" />
<line x1="1633.2" y1="429.7" x2="1633.2" y2="440.4" stroke="#1a1a1a" stroke-width="1.8" />
<line x1="1629.2" y1="429.7" x2="1637.2" y2="429.7" stroke="#1a1a1a" stroke-width="1.8" />
<line x1="1629.2" y1="440.4" x2="1637.2" y2="440.4" stroke="#1a1a1a" stroke-width="1.8" />
<line x1="1651.3" y1="461.7" x2="1651.3" y2="473.9" stroke="#1a1a1a" stroke-width="1.8" />
<line x1="1647.3" y1="461.7" x2="1655.3" y2="461.7" stroke="#1a1a1a" stroke-width="1.8" />
<line x1="1647.3" y1="473.9" x2="1655.3" y2="473.9" stroke="#1a1a1a" stroke-width="1.8" />
<line x1="1693.5" y1="387.1" x2="1693.5" y2="399.3" stroke="#1a1a1a" stroke-width="1.8" />
<line x1="1689.5" y1="387.1" x2="1697.5" y2="387.1" stroke="#1a1a1a" stroke-width="1.8" />
<line x1="1689.5" y1="399.3" x2="1697.5" y2="399.3" stroke="#1a1a1a" stroke-width="1.8" />
<line x1="1711.5" y1="394.7" x2="1711.5" y2="419.1" stroke="#1a1a1a" stroke-width="1.8" />
<line x1="1707.5" y1="394.7" x2="1715.5" y2="394.7" stroke="#1a1a1a" stroke-width="1.8" />
<line x1="1707.5" y1="419.1" x2="1715.5" y2="419.1" stroke="#1a1a1a" stroke-width="1.8" />
<line x1="1728.8" y1="405.4" x2="1728.8" y2="426.7" stroke="#1a1a1a" stroke-width="1.8" />
<line x1="1724.8" y1="405.4" x2="1732.8" y2="405.4" stroke="#1a1a1a" stroke-width="1.8" />
<line x1="1724.8" y1="426.7" x2="1732.8" y2="426.7" stroke="#1a1a1a" stroke-width="1.8" />
<line x1="1746.3" y1="446.5" x2="1746.3" y2="466.3" stroke="#1a1a1a" stroke-width="1.8" />
<line x1="1742.3" y1="446.5" x2="1750.3" y2="446.5" stroke="#1a1a1a" stroke-width="1.8" />
<line x1="1742.3" y1="466.3" x2="1750.3" y2="466.3" stroke="#1a1a1a" stroke-width="1.8" />
<line x1="1789.7" y1="382.5" x2="1789.7" y2="403.9" stroke="#1a1a1a" stroke-width="1.8" />
<line x1="1785.7" y1="382.5" x2="1793.7" y2="382.5" stroke="#1a1a1a" stroke-width="1.8" />
<line x1="1785.7" y1="403.9" x2="1793.7" y2="403.9" stroke="#1a1a1a" stroke-width="1.8" />
<line x1="1807.0" y1="444.9" x2="1807.0" y2="460.2" stroke="#1a1a1a" stroke-width="1.8" />
<line x1="1803.0" y1="444.9" x2="1811.0" y2="444.9" stroke="#1a1a1a" stroke-width="1.8" />
<line x1="1803.0" y1="460.2" x2="1811.0" y2="460.2" stroke="#1a1a1a" stroke-width="1.8" />
<line x1="1824.5" y1="437.3" x2="1824.5" y2="455.6" stroke="#1a1a1a" stroke-width="1.8" />
<line x1="1820.5" y1="437.3" x2="1828.5" y2="437.3" stroke="#1a1a1a" stroke-width="1.8" />
<line x1="1820.5" y1="455.6" x2="1828.5" y2="455.6" stroke="#1a1a1a" stroke-width="1.8" />
<line x1="1841.6" y1="457.1" x2="1841.6" y2="469.3" stroke="#1a1a1a" stroke-width="1.8" />
<line x1="1837.6" y1="457.1" x2="1845.6" y2="457.1" stroke="#1a1a1a" stroke-width="1.8" />
<line x1="1837.6" y1="469.3" x2="1845.6" y2="469.3" stroke="#1a1a1a" stroke-width="1.8" />
<line x1="1884.3" y1="387.1" x2="1884.3" y2="399.3" stroke="#1a1a1a" stroke-width="1.8" />
<line x1="1880.3" y1="387.1" x2="1888.3" y2="387.1" stroke="#1a1a1a" stroke-width="1.8" />
<line x1="1880.3" y1="399.3" x2="1888.3" y2="399.3" stroke="#1a1a1a" stroke-width="1.8" />
<line x1="1902.2" y1="352.1" x2="1902.2" y2="378.0" stroke="#1a1a1a" stroke-width="1.8" />
<line x1="1898.2" y1="352.1" x2="1906.2" y2="352.1" stroke="#1a1a1a" stroke-width="1.8" />
<line x1="1898.2" y1="378.0" x2="1906.2" y2="378.0" stroke="#1a1a1a" stroke-width="1.8" />
<line x1="1919.2" y1="323.2" x2="1919.2" y2="361.2" stroke="#1a1a1a" stroke-width="1.8" />
<line x1="1915.2" y1="323.2" x2="1923.2" y2="323.2" stroke="#1a1a1a" stroke-width="1.8" />
<line x1="1915.2" y1="361.2" x2="1923.2" y2="361.2" stroke="#1a1a1a" stroke-width="1.8" />
<line x1="1936.8" y1="224.3" x2="1936.8" y2="301.9" stroke="#1a1a1a" stroke-width="1.8" />
<line x1="1932.8" y1="224.3" x2="1940.8" y2="224.3" stroke="#1a1a1a" stroke-width="1.8" />
<line x1="1932.8" y1="301.9" x2="1940.8" y2="301.9" stroke="#1a1a1a" stroke-width="1.8" />
<line x1="1243.5" y1="12.3" x2="1243.5" y2="546.4" stroke="#333" stroke-width="2.2" />
<line x1="1242.5" y1="545.4" x2="2003" y2="545.4" stroke="#333" stroke-width="2.2" />
<line x1="1243.5" y1="469.3" x2="1250.5" y2="469.3" stroke="#333" stroke-width="2" />
<line x1="1243.5" y1="393.2" x2="1250.5" y2="393.2" stroke="#333" stroke-width="2" />
<line x1="1243.5" y1="317.1" x2="1250.5" y2="317.1" stroke="#333" stroke-width="2" />
<line x1="1243.5" y1="241.0" x2="1250.5" y2="241.0" stroke="#333" stroke-width="2" />
<line x1="1243.5" y1="164.9" x2="1250.5" y2="164.9" stroke="#333" stroke-width="2" />
<line x1="1243.5" y1="88.8" x2="1250.5" y2="88.8" stroke="#333" stroke-width="2" />
<line x1="1243.5" y1="12.7" x2="1250.5" y2="12.7" stroke="#333" stroke-width="2" />
<text x="1219.60" y="557.60" font-size="30" fill="#1c1c1c" >0</text>
<text x="1191.20" y="481.50" font-size="30" fill="#1c1c1c" >0.5</text>
<text x="1216.40" y="405.40" font-size="30" fill="#1c1c1c" >1</text>
<text x="1191.20" y="329.30" font-size="30" fill="#1c1c1c" >1.5</text>
<text x="1220.05" y="253.20" font-size="30" fill="#1c1c1c" >2</text>
<text x="1191.00" y="177.10" font-size="30" fill="#1c1c1c" >2.5</text>
<text x="1220.15" y="101.00" font-size="30" fill="#1c1c1c" >3</text>
<text x="1190.80" y="24.90" font-size="30" fill="#1c1c1c" >3.5</text>
<text x="-76.05" y="0" font-size="30" fill="#1c1c1c" transform="translate(1176.20,290.50) rotate(-90)">Normalized</text>
<text x="1341.35" y="576.90" font-size="37" fill="#1c1c1c" >**</text>
<text x="1454.54" y="576.90" font-size="37" fill="#1c1c1c" >*</text>
<text x="1533.24" y="576.90" font-size="37" fill="#1c1c1c" >**</text>
<text x="1622.94" y="576.90" font-size="37" fill="#1c1c1c" >**</text>
<text x="1738.44" y="576.90" font-size="37" fill="#1c1c1c" >*</text>
<text x="1800.94" y="576.90" font-size="37" fill="#1c1c1c" >***</text>
<text x="1929.94" y="576.90" font-size="37" fill="#1c1c1c" >*</text>
<text x="0" y="0" font-size="29.5" fill="#1c1c1c" transform="translate(1258.50,677.05) rotate(-40.0)">Bout area</text>
<text x="0" y="0" font-size="29.5" fill="#1c1c1c" transform="translate(1328.95,709.80) rotate(-40.0)">1st bend area</text>
<text x="0" y="0" font-size="29.5" fill="#1c1c1c" transform="translate(1355.90,763.05) rotate(-40.0)">1st + 2nd bend area</text>
<text x="0" y="0" font-size="29.5" fill="#1c1c1c" transform="translate(1521.55,707.30) rotate(-40.0)">Bout duration</text>
<text x="0" y="0" font-size="29.5" fill="#1c1c1c" transform="translate(1580.30,744.95) rotate(-40.0)">1st bend duration</text>
<text x="0" y="0" font-size="29.5" fill="#1c1c1c" transform="translate(1710.25,706.80) rotate(-40.0)">Magnitude(θ)</text>
<text x="0" y="0" font-size="29.5" fill="#1c1c1c" transform="translate(1813.25,690.80) rotate(-40.0)">Undulations</text>
<text x="-0.10" y="853.00" font-size="60" fill="#111" stroke="#fff" stroke-width="1.2" >d</text>
<line x1="199.6" y1="846.0" x2="199.6" y2="1390" stroke="#1a1a1a" stroke-width="2.2" />
<line x1="198.6" y1="1389" x2="886.0" y2="1389" stroke="#1a1a1a" stroke-width="2.2" />
<line x1="199.6" y1="1280.5" x2="205.6" y2="1280.5" stroke="#1a1a1a" stroke-width="1.8" />
<line x1="199.6" y1="1172.0" x2="205.6" y2="1172.0" stroke="#1a1a1a" stroke-width="1.8" />
<line x1="199.6" y1="1063.5" x2="205.6" y2="1063.5" stroke="#1a1a1a" stroke-width="1.8" />
<line x1="199.6" y1="955.0" x2="205.6" y2="955.0" stroke="#1a1a1a" stroke-width="1.8" />
<line x1="199.6" y1="846.5" x2="205.6" y2="846.5" stroke="#1a1a1a" stroke-width="1.8" />
<line x1="314.0" y1="1389" x2="314.0" y2="1383" stroke="#1a1a1a" stroke-width="1.8" />
<line x1="428.4" y1="1389" x2="428.4" y2="1383" stroke="#1a1a1a" stroke-width="1.8" />
<line x1="542.8" y1="1389" x2="542.8" y2="1383" stroke="#1a1a1a" stroke-width="1.8" />
<line x1="657.2" y1="1389" x2="657.2" y2="1383" stroke="#1a1a1a" stroke-width="1.8" />
<line x1="771.6" y1="1389" x2="771.6" y2="1383" stroke="#1a1a1a" stroke-width="1.8" />
<line x1="886.0" y1="1389" x2="886.0" y2="1383" stroke="#1a1a1a" stroke-width="1.8" />
<text x="155.70" y="1400.00" font-size="30" fill="#1c1c1c" >0</text>
<text x="131.10" y="1291.50" font-size="30" fill="#1c1c1c" >0.2</text>
<text x="130.50" y="1183.00" font-size="30" fill="#1c1c1c" >0.4</text>
<text x="130.80" y="1074.50" font-size="30" fill="#1c1c1c" >0.6</text>
<text x="130.80" y="966.00" font-size="30" fill="#1c1c1c" >0.8</text>
<text x="156.00" y="857.50" font-size="30" fill="#1c1c1c" >1</text>
<text x="188.70" y="1434.50" font-size="30" fill="#1c1c1c" >0</text>
<text x="303.18" y="1434.50" font-size="30" fill="#1c1c1c" >5</text>
<text x="408.65" y="1434.50" font-size="30" fill="#1c1c1c" >10</text>
<text x="523.12" y="1434.50" font-size="30" fill="#1c1c1c" >15</text>
<text x="637.82" y="1434.50" font-size="30" fill="#1c1c1c" >20</text>
<text x="752.30" y="1434.50" font-size="30" fill="#1c1c1c" >25</text>
<text x="866.77" y="1434.50" font-size="30" fill="#1c1c1c" >30</text>
<text x="278.45" y="1492.10" font-size="30" fill="#1c1c1c" ># OXT</text>
<text x="363.92" y="1502.60" font-size="18.5" fill="#1c1c1c" >PO</text>
<text x="397.15" y="1492.10" font-size="30" fill="#1c1c1c" >neurons expressing ChR2</text>
<text x="-142.95" y="0" font-size="30" fill="#1c1c1c" transform="translate(108.60,1144.80) rotate(-90)">Response Probability</text>
<text x="639.10" y="1002.60" font-size="30" fill="#1c1c1c" >R = 0.64</text>
<line x1="199.6" y1="1241.2" x2="694.2" y2="846.8" stroke="#1a1a1a" stroke-width="2" />
<circle cx="474.2" cy="846.5" r="5.3" fill="#000" stroke="none" stroke-width="0" />
<circle cx="565.7" cy="846.5" r="5.3" fill="#000" stroke="none" stroke-width="0" />
<circle cx="634.3" cy="846.5" r="5.3" fill="#000" stroke="none" stroke-width="0" />
<circle cx="657.2" cy="846.5" r="5.3" fill="#000" stroke="none" stroke-width="0" />
<circle cx="748.7" cy="846.5" r="5.3" fill="#000" stroke="none" stroke-width="0" />
<circle cx="771.6" cy="846.5" r="5.3" fill="#000" stroke="none" stroke-width="0" />
<circle cx="428.4" cy="914.3" r="5.3" fill="#000" stroke="none" stroke-width="0" />
<circle cx="291.1" cy="937.1" r="5.3" fill="#000" stroke="none" stroke-width="0" />
<circle cx="314.0" cy="937.1" r="5.3" fill="#000" stroke="none" stroke-width="0" />
<circle cx="382.6" cy="937.1" r="5.3" fill="#000" stroke="none" stroke-width="0" />
<circle cx="268.2" cy="1027.2" r="5.3" fill="#000" stroke="none" stroke-width="0" />
<circle cx="428.4" cy="1049.9" r="5.3" fill="#000" stroke="none" stroke-width="0" />
<circle cx="451.3" cy="1049.9" r="5.3" fill="#000" stroke="none" stroke-width="0" />
<circle cx="268.2" cy="1117.8" r="5.3" fill="#000" stroke="none" stroke-width="0" />
<circle cx="405.5" cy="1117.8" r="5.3" fill="#000" stroke="none" stroke-width="0" />
<circle cx="451.3" cy="1117.8" r="5.3" fill="#000" stroke="none" stroke-width="0" />
<circle cx="199.6" cy="1185.6" r="5.3" fill="#000" stroke="none" stroke-width="0" />
<circle cx="382.6" cy="1185.6" r="5.3" fill="#000" stroke="none" stroke-width="0" />
<circle cx="588.6" cy="1197.0" r="5.3" fill="#000" stroke="none" stroke-width="0" />
<circle cx="451.3" cy="1208.3" r="5.3" fill="#000" stroke="none" stroke-width="0" />
<circle cx="199.6" cy="1253.4" r="5.3" fill="#000" stroke="none" stroke-width="0" />
<circle cx="268.2" cy="1298.4" r="5.3" fill="#000" stroke="none" stroke-width="0" />
<circle cx="497.0" cy="1298.4" r="5.3" fill="#000" stroke="none" stroke-width="0" />
<circle cx="199.6" cy="1321.2" r="5.3" fill="#000" stroke="none" stroke-width="0" />
<circle cx="451.3" cy="1321.2" r="5.3" fill="#000" stroke="none" stroke-width="0" />
<circle cx="199.6" cy="1389.0" r="5.3" fill="#000" stroke="none" stroke-width="0" />
<circle cx="314.0" cy="1389.0" r="5.3" fill="#000" stroke="none" stroke-width="0" />
<circle cx="359.8" cy="1389.0" r="5.3" fill="#000" stroke="none" stroke-width="0" />
<circle cx="428.4" cy="1389.0" r="5.3" fill="#000" stroke="none" stroke-width="0" />
<circle cx="428.4" cy="846.5" r="6.8" fill="#80F080" stroke="none" stroke-width="0" />
<circle cx="519.9" cy="846.5" r="6.8" fill="#FF0000" stroke="none" stroke-width="0" />
<circle cx="542.8" cy="846.5" r="6.8" fill="#F5D21E" stroke="none" stroke-width="0" />
<circle cx="680.1" cy="846.5" r="6.8" fill="#FF8000" stroke="none" stroke-width="0" />
<circle cx="405.5" cy="914.3" r="6.8" fill="#00FFFF" stroke="none" stroke-width="0" />
<circle cx="382.6" cy="1049.9" r="6.8" fill="#0000FF" stroke="none" stroke-width="0" />
<circle cx="336.9" cy="1117.8" r="6.8" fill="#1E8CFF" stroke="none" stroke-width="0" />
<line x1="1084.5" y1="845.8" x2="1084.5" y2="1389.5" stroke="#1a1a1a" stroke-width="2.2" />
<line x1="1083.5" y1="1388.5" x2="1770.0" y2="1388.5" stroke="#1a1a1a" stroke-width="2.2" />
<line x1="1084.5" y1="1280.1" x2="1090.5" y2="1280.1" stroke="#1a1a1a" stroke-width="1.8" />
<line x1="1084.5" y1="1171.6" x2="1090.5" y2="1171.6" stroke="#1a1a1a" stroke-width="1.8" />
<line x1="1084.5" y1="1063.2" x2="1090.5" y2="1063.2" stroke="#1a1a1a" stroke-width="1.8" />
<line x1="1084.5" y1="954.7" x2="1090.5" y2="954.7" stroke="#1a1a1a" stroke-width="1.8" />
<line x1="1084.5" y1="846.3" x2="1090.5" y2="846.3" stroke="#1a1a1a" stroke-width="1.8" />
<line x1="1198.8" y1="1388.5" x2="1198.8" y2="1382.5" stroke="#1a1a1a" stroke-width="1.8" />
<line x1="1313.0" y1="1388.5" x2="1313.0" y2="1382.5" stroke="#1a1a1a" stroke-width="1.8" />
<line x1="1427.2" y1="1388.5" x2="1427.2" y2="1382.5" stroke="#1a1a1a" stroke-width="1.8" />
<line x1="1541.5" y1="1388.5" x2="1541.5" y2="1382.5" stroke="#1a1a1a" stroke-width="1.8" />
<line x1="1655.8" y1="1388.5" x2="1655.8" y2="1382.5" stroke="#1a1a1a" stroke-width="1.8" />
<line x1="1770.0" y1="1388.5" x2="1770.0" y2="1382.5" stroke="#1a1a1a" stroke-width="1.8" />
<text x="1043.90" y="1399.50" font-size="30" fill="#1c1c1c" >0</text>
<text x="1019.30" y="1291.10" font-size="30" fill="#1c1c1c" >0.2</text>
<text x="1018.70" y="1182.60" font-size="30" fill="#1c1c1c" >0.4</text>
<text x="1019.00" y="1074.20" font-size="30" fill="#1c1c1c" >0.6</text>
<text x="1019.00" y="965.70" font-size="30" fill="#1c1c1c" >0.8</text>
<text x="1044.20" y="857.30" font-size="30" fill="#1c1c1c" >1</text>
<text x="1073.60" y="1434.50" font-size="30" fill="#1c1c1c" >0</text>
<text x="1187.92" y="1434.50" font-size="30" fill="#1c1c1c" >5</text>
<text x="1293.25" y="1434.50" font-size="30" fill="#1c1c1c" >10</text>
<text x="1407.58" y="1434.50" font-size="30" fill="#1c1c1c" >15</text>
<text x="1522.12" y="1434.50" font-size="30" fill="#1c1c1c" >20</text>
<text x="1636.45" y="1434.50" font-size="30" fill="#1c1c1c" >25</text>
<text x="1750.78" y="1434.50" font-size="30" fill="#1c1c1c" >30</text>
<text x="1186.55" y="1493.00" font-size="30" fill="#1c1c1c" ># OXT</text>
<text x="1272.02" y="1503.50" font-size="18.5" fill="#1c1c1c" >PO</text>
<text x="1305.25" y="1493.00" font-size="30" fill="#1c1c1c" >neurons expressing ChR2</text>
<text x="-205.35" y="0" font-size="30" fill="#1c1c1c" transform="translate(995.00,1134.50) rotate(-90)">Response Frequency (bouts/s)</text>
<text x="1669.10" y="1006.40" font-size="30" fill="#1c1c1c" >R = 0.73</text>
<line x1="1083.5" y1="1366.9" x2="1750.7" y2="846.3" stroke="#1a1a1a" stroke-width="2" />
<circle cx="1472.7" cy="846.3" r="5.3" fill="#000" stroke="none" stroke-width="0" />
<circle cx="1655" cy="846.3" r="5.3" fill="#000" stroke="none" stroke-width="0" />
<circle cx="1449.6" cy="891.6" r="5.3" fill="#000" stroke="none" stroke-width="0" />
<circle cx="1632.4" cy="906.7" r="5.3" fill="#000" stroke="none" stroke-width="0" />
<circle cx="1519" cy="921.9" r="5.3" fill="#000" stroke="none" stroke-width="0" />
<circle cx="1564.4" cy="921.9" r="5.3" fill="#000" stroke="none" stroke-width="0" />
<circle cx="1564.4" cy="1048.7" r="5.3" fill="#000" stroke="none" stroke-width="0" />
<circle cx="1541.2" cy="1071.9" r="5.3" fill="#000" stroke="none" stroke-width="0" />
<circle cx="1541.2" cy="1102.1" r="5.3" fill="#000" stroke="none" stroke-width="0" />
<circle cx="1312.6" cy="1105.3" r="5.3" fill="#000" stroke="none" stroke-width="0" />
<circle cx="1197.8" cy="1102.3" r="5.3" fill="#000" stroke="none" stroke-width="0" />
<circle cx="1358" cy="1132" r="5.3" fill="#000" stroke="none" stroke-width="0" />
<circle cx="1312.6" cy="1150.7" r="5.3" fill="#000" stroke="none" stroke-width="0" />
<circle cx="1312.6" cy="1161.4" r="5.3" fill="#000" stroke="none" stroke-width="0" />
<circle cx="1174.6" cy="1160.7" r="5.3" fill="#000" stroke="none" stroke-width="0" />
<circle cx="1221" cy="1176.5" r="5.3" fill="#000" stroke="none" stroke-width="0" />
<circle cx="1152.5" cy="1191.6" r="5.3" fill="#000" stroke="none" stroke-width="0" />
<circle cx="1266.3" cy="1191.6" r="5.3" fill="#000" stroke="none" stroke-width="0" />
<circle cx="1519" cy="1195.7" r="5.3" fill="#000" stroke="none" stroke-width="0" />
<circle cx="1312.6" cy="1263.6" r="5.3" fill="#000" stroke="none" stroke-width="0" />
<circle cx="1152.5" cy="1274.7" r="5.3" fill="#000" stroke="none" stroke-width="0" />
<circle cx="1335.3" cy="1285.3" r="5.3" fill="#000" stroke="none" stroke-width="0" />
<circle cx="1083.5" cy="1296.4" r="5.3" fill="#000" stroke="none" stroke-width="0" />
<circle cx="1335.3" cy="1296.4" r="5.3" fill="#000" stroke="none" stroke-width="0" />
<circle cx="1083.5" cy="1308" r="5.3" fill="#000" stroke="none" stroke-width="0" />
<circle cx="1289" cy="1308" r="5.3" fill="#000" stroke="none" stroke-width="0" />
<circle cx="1335.3" cy="1308" r="5.3" fill="#000" stroke="none" stroke-width="0" />
<circle cx="1266.3" cy="1331.6" r="5.3" fill="#000" stroke="none" stroke-width="0" />
<circle cx="1152.5" cy="1343.2" r="5.3" fill="#000" stroke="none" stroke-width="0" />
<circle cx="1083.5" cy="1365.4" r="5.3" fill="#000" stroke="none" stroke-width="0" />
<circle cx="1335.3" cy="1365.4" r="5.3" fill="#000" stroke="none" stroke-width="0" />
<circle cx="1381.6" cy="1373.4" r="5.3" fill="#000" stroke="none" stroke-width="0" />
<circle cx="1083.5" cy="1377" r="5.3" fill="#000" stroke="none" stroke-width="0" />
<circle cx="1083.5" cy="1388.5" r="5.3" fill="#000" stroke="none" stroke-width="0" />
<circle cx="1197.8" cy="1388.5" r="5.3" fill="#000" stroke="none" stroke-width="0" />
<circle cx="1244.5" cy="1388.5" r="5.3" fill="#000" stroke="none" stroke-width="0" />
<circle cx="1312.6" cy="1388.5" r="5.3" fill="#000" stroke="none" stroke-width="0" />
<circle cx="1403.2" cy="846.3" r="6.8" fill="#FF0000" stroke="none" stroke-width="0" />
<circle cx="1564.4" cy="981.3" r="6.8" fill="#FF8000" stroke="none" stroke-width="0" />
<circle cx="1426.4" cy="1026.6" r="6.8" fill="#F5D21E" stroke="none" stroke-width="0" />
<circle cx="1312.6" cy="1087" r="6.8" fill="#80F080" stroke="none" stroke-width="0" />
<circle cx="1289" cy="1195.7" r="6.8" fill="#00FFFF" stroke="none" stroke-width="0" />
<circle cx="1221" cy="1252" r="6.8" fill="#1E8CFF" stroke="none" stroke-width="0" />
<circle cx="1266.3" cy="1320" r="6.8" fill="#0000FF" stroke="none" stroke-width="0" />
<text x="0.60" y="1584.00" font-size="60" fill="#111" stroke="#fff" stroke-width="1.2" >e</text>
<defs><filter id="b1" x="-20%" y="-20%" width="140%" height="140%"><feGaussianBlur stdDeviation="0.8"/></filter>
<filter id="b2" x="-50%" y="-50%" width="200%" height="200%"><feGaussianBlur stdDeviation="2"/></filter>
<filter id="b4" x="-50%" y="-50%" width="200%" height="200%"><feGaussianBlur stdDeviation="4"/></filter>
<filter id="b8" x="-50%" y="-50%" width="200%" height="200%"><feGaussianBlur stdDeviation="8"/></filter>
<filter id="b15" x="-50%" y="-50%" width="200%" height="200%"><feGaussianBlur stdDeviation="15"/></filter>
<filter id="b25" x="-50%" y="-50%" width="200%" height="200%"><feGaussianBlur stdDeviation="25"/></filter>
<filter id="grain" x="0" y="0" width="100%" height="100%"><feTurbulence type="fractalNoise" baseFrequency="0.9" numOctaves="1" seed="7"/><feColorMatrix type="matrix" values="0 0 0 0 1  0 0 0 0 1  0 0 0 0 1  1.3 0 0 0 -0.55"/></filter>
<filter id="tA" x="-10%" y="-10%" width="120%" height="120%"><feGaussianBlur in="SourceGraphic" stdDeviation="12" result="s"/><feTurbulence type="fractalNoise" baseFrequency="0.07" numOctaves="3" seed="3" result="t"/><feColorMatrix in="t" type="matrix" values="0 0 0 0 1  0 0 0 0 1  0 0 0 0 1  2.2 0 0 0 -0.8" result="n"/><feComposite in="n" in2="s" operator="in"/></filter><filter id="tB" x="-10%" y="-10%" width="120%" height="120%"><feGaussianBlur in="SourceGraphic" stdDeviation="4" result="s"/><feTurbulence type="fractalNoise" baseFrequency="0.12" numOctaves="3" seed="11" result="t"/><feColorMatrix in="t" type="matrix" values="0 0 0 0 1  0 0 0 0 1  0 0 0 0 1  3.5 0 0 0 -1.5" result="n"/><feComposite in="n" in2="s" operator="in"/></filter><filter id="tC" x="-10%" y="-10%" width="120%" height="120%"><feGaussianBlur in="SourceGraphic" stdDeviation="10" result="s"/><feTurbulence type="fractalNoise" baseFrequency="0.045" numOctaves="3" seed="21" result="t"/><feColorMatrix in="t" type="matrix" values="0 0 0 0 1  0 0 0 0 1  0 0 0 0 1  2.0 0 0 0 -0.7" result="n"/><feComposite in="n" in2="s" operator="in"/></filter><filter id="tD" x="-10%" y="-10%" width="120%" height="120%"><feGaussianBlur in="SourceGraphic" stdDeviation="3" result="s"/><feTurbulence type="fractalNoise" baseFrequency="0.2" numOctaves="2" seed="5" result="t"/><feColorMatrix in="t" type="matrix" values="0 0 0 0 1  0 0 0 0 1  0 0 0 0 1  3.0 0 0 0 -1.2" result="n"/><feComposite in="n" in2="s" operator="in"/></filter><filter id="tE" x="-10%" y="-10%" width="120%" height="120%"><feGaussianBlur in="SourceGraphic" stdDeviation="3" result="s"/><feTurbulence type="fractalNoise" baseFrequency="0.25" numOctaves="2" seed="9" result="t"/><feColorMatrix in="t" type="matrix" values="0 0 0 0 1  0 0 0 0 1  0 0 0 0 1  2.5 0 0 0 -0.9" result="n"/><feComposite in="n" in2="s" operator="in"/></filter><filter id="tW" x="-10%" y="-10%" width="120%" height="120%"><feGaussianBlur in="SourceGraphic" stdDeviation="3" result="s"/><feTurbulence type="fractalNoise" baseFrequency="0.075" numOctaves="4" seed="31" result="t"/><feColorMatrix in="t" type="matrix" values="0 0 0 0 1  0 0 0 0 1  0 0 0 0 1  4.0 0 0 0 -1.45" result="n"/><feComposite in="n" in2="s" operator="in"/></filter><filter id="tF" x="-10%" y="-10%" width="120%" height="120%"><feGaussianBlur in="SourceGraphic" stdDeviation="3" result="s"/><feTurbulence type="fractalNoise" baseFrequency="0.09 0.03" numOctaves="4" seed="17" result="t"/><feColorMatrix in="t" type="matrix" values="0 0 0 0 1  0 0 0 0 1  0 0 0 0 1  3.0 0 0 0 -1.1" result="n"/><feComposite in="n" in2="s" operator="in"/></filter></defs>
<clipPath id="clip0"><rect x="0" y="0" width="393.4" height="490.7"/></clipPath>
<g transform="translate(188.8,1552.3)" clip-path="url(#clip0)">
<rect x="0" y="0" width="393.4" height="490.7" fill="#0a0a0a"/>
<path d="M0,0 L394,0 L394,491 L0,491 Z" fill="#fff" opacity="0.05" filter="url(#tE)"/>
<path d="M0,0 L140,0 L120,40 L90,120 L60,260 L20,420 L0,460 Z" fill="#fff" opacity="0.1" filter="url(#tA)"/>
<path d="M0.0,140.0 C6.7,126.7 26.7,83.3 40.0,60.0 C53.3,36.7 73.3,10.0 80.0,0.0" fill="none" stroke="#fff" stroke-width="1.2" stroke-linecap="round" stroke-linejoin="round" opacity="0.12" filter="url(#b1)"/>
<path d="M12.0,180.0 C18.7,165.0 39.0,115.8 52.0,90.0 C65.0,64.2 83.7,35.8 90.0,25.0" fill="none" stroke="#fff" stroke-width="1.2" stroke-linecap="round" stroke-linejoin="round" opacity="0.12" filter="url(#b1)"/>
<path d="M24.0,220.0 C30.7,203.3 51.3,148.3 64.0,120.0 C76.7,91.7 94.0,61.7 100.0,50.0" fill="none" stroke="#fff" stroke-width="1.2" stroke-linecap="round" stroke-linejoin="round" opacity="0.12" filter="url(#b1)"/>
<path d="M36.0,260.0 C42.7,241.7 63.7,180.8 76.0,150.0 C88.3,119.2 104.3,87.5 110.0,75.0" fill="none" stroke="#fff" stroke-width="1.2" stroke-linecap="round" stroke-linejoin="round" opacity="0.12" filter="url(#b1)"/>
<path d="M48.0,300.0 C54.7,280.0 76.0,213.3 88.0,180.0 C100.0,146.7 114.7,113.3 120.0,100.0" fill="none" stroke="#fff" stroke-width="1.2" stroke-linecap="round" stroke-linejoin="round" opacity="0.12" filter="url(#b1)"/>
<path d="M60.0,340.0 C66.7,318.3 88.3,245.8 100.0,210.0 C111.7,174.2 125.0,139.2 130.0,125.0" fill="none" stroke="#fff" stroke-width="1.2" stroke-linecap="round" stroke-linejoin="round" opacity="0.12" filter="url(#b1)"/>
<path d="M300,0 L394,0 L394,330 L350,200 L320,90 Z" fill="#fff" opacity="0.25" filter="url(#tA)"/>
<path d="M112.0,140.0 C112.7,130.0 113.0,97.5 116.0,80.0 C119.0,62.5 122.7,46.0 130.0,35.0 C137.3,24.0 146.7,18.5 160.0,14.0 C173.3,9.5 193.3,8.3 210.0,8.0 C226.7,7.7 245.8,9.2 260.0,12.0 C274.2,14.8 286.3,17.0 295.0,25.0 C303.7,33.0 308.2,45.8 312.0,60.0 C315.8,74.2 317.3,95.0 318.0,110.0 C318.7,125.0 316.3,143.3 316.0,150.0" fill="none" stroke="#fff" stroke-width="12" opacity="0.6" filter="url(#tD)"/>
<path d="M112.0,130.0 C113.0,120.0 114.2,86.7 118.0,70.0 C121.8,53.3 132.2,36.7 135.0,30.0" fill="none" stroke="#fff" stroke-width="2" stroke-linecap="round" stroke-linejoin="round" opacity="0.35" filter="url(#b1)"/>
<path d="M300.0,30.0 C302.0,36.7 309.0,55.0 312.0,70.0 C315.0,85.0 317.0,111.7 318.0,120.0" fill="none" stroke="#fff" stroke-width="2" stroke-linecap="round" stroke-linejoin="round" opacity="0.3" filter="url(#b1)"/>
<path d="M150,0 L290,0 L280,6 L160,6 Z" fill="#fff" opacity="0.8" filter="url(#tB)"/>
<path d="M118,70 C122,25 160,14 210,14 C265,14 302,25 308,75 C314,130 300,200 255,250 L165,250 C120,200 112,130 118,70 Z" fill="#040404" opacity="0.95" filter="url(#b8)"/>
<path d="M0,260 C40,300 80,340 90,491 L0,491 Z" fill="#050505" opacity="0.6" filter="url(#b15)"/>
<path d="M0.0,28.0 C6.7,25.7 26.7,17.7 40.0,14.0 C53.3,10.3 66.7,8.0 80.0,6.0 C93.3,4.0 113.3,2.7 120.0,2.0" fill="none" stroke="#fff" stroke-width="3" stroke-linecap="round" stroke-linejoin="round" opacity="0.3" filter="url(#b1)"/>
<path d="M300.0,10.0 C303.3,18.3 315.0,43.3 320.0,60.0 C325.0,76.7 325.8,95.0 330.0,110.0 C334.2,125.0 342.5,143.3 345.0,150.0" fill="none" stroke="#fff" stroke-width="2" stroke-linecap="round" stroke-linejoin="round" opacity="0.25" filter="url(#b1)"/>
<path d="M340.0,20.0 C343.3,26.7 354.2,46.7 360.0,60.0 C365.8,73.3 372.5,93.3 375.0,100.0" fill="none" stroke="#fff" stroke-width="2" stroke-linecap="round" stroke-linejoin="round" opacity="0.25" filter="url(#b1)"/>
<ellipse cx="178" cy="282" rx="26" ry="34" fill="#fff" opacity="0.16" filter="url(#b15)"/>
<ellipse cx="240" cy="282" rx="26" ry="34" fill="#fff" opacity="0.16" filter="url(#b15)"/>
<path d="M166,166 C170,160 178,160 182,164 C186,161 190,165 186,172 C183,178 176,182 170,178 C166,175 165,170 166,166 Z" fill="#fff" opacity="1" filter="url(#b1)"/>
<path d="M232,158 C234,150 242,151 245,157 C248,163 246,172 241,176 C236,178 231,170 232,158 Z" fill="#fff" opacity="1" filter="url(#b1)"/>
<path d="M175.0,178.0 C174.7,180.8 173.7,188.8 173.0,195.0 C172.3,201.2 171.2,208.8 171.0,215.0 C170.8,221.2 171.8,229.2 172.0,232.0" fill="none" stroke="#fff" stroke-width="10.5" stroke-linecap="round" opacity="0.3" filter="url(#b4)"/>
<path d="M175.0,178.0 C174.7,180.8 173.7,188.8 173.0,195.0 C172.3,201.2 171.2,208.8 171.0,215.0 C170.8,221.2 171.8,229.2 172.0,232.0" fill="none" stroke="#fff" stroke-width="3.15" stroke-linecap="round" opacity="0.9" filter="url(#b2)"/>
<path d="M175.0,178.0 C174.7,180.8 173.7,188.8 173.0,195.0 C172.3,201.2 171.2,208.8 171.0,215.0 C170.8,221.2 171.8,229.2 172.0,232.0" fill="none" stroke="#fff" stroke-width="1.75" stroke-linecap="round" opacity="1.0" filter="url(#b1)"/>
<path d="M243.0,176.0 C243.3,179.2 244.5,188.5 245.0,195.0 C245.5,201.5 246.2,208.8 246.0,215.0 C245.8,221.2 244.3,229.2 244.0,232.0" fill="none" stroke="#fff" stroke-width="10.5" stroke-linecap="round" opacity="0.3" filter="url(#b4)"/>
<path d="M243.0,176.0 C243.3,179.2 244.5,188.5 245.0,195.0 C245.5,201.5 246.2,208.8 246.0,215.0 C245.8,221.2 244.3,229.2 244.0,232.0" fill="none" stroke="#fff" stroke-width="3.15" stroke-linecap="round" opacity="0.9" filter="url(#b2)"/>
<path d="M243.0,176.0 C243.3,179.2 244.5,188.5 245.0,195.0 C245.5,201.5 246.2,208.8 246.0,215.0 C245.8,221.2 244.3,229.2 244.0,232.0" fill="none" stroke="#fff" stroke-width="1.75" stroke-linecap="round" opacity="1.0" filter="url(#b1)"/>
<path d="M160.0,255.0 C157.5,257.2 150.0,262.5 145.0,268.0 C140.0,273.5 134.5,281.0 130.0,288.0 C125.5,295.0 121.3,301.3 118.0,310.0 C114.7,318.7 112.0,330.8 110.0,340.0 C108.0,349.2 106.0,355.8 106.0,365.0 C106.0,374.2 108.0,385.0 110.0,395.0 C112.0,405.0 116.7,420.0 118.0,425.0" fill="none" stroke="#fff" stroke-width="1.3" stroke-linecap="round" stroke-linejoin="round" opacity="0.6"/>
<path d="M255.0,255.0 C257.5,257.8 265.0,264.8 270.0,272.0 C275.0,279.2 280.3,288.3 285.0,298.0 C289.7,307.7 296.2,319.7 298.0,330.0 C299.8,340.3 297.0,349.2 296.0,360.0 C295.0,370.8 293.8,385.0 292.0,395.0 C290.2,405.0 287.3,411.7 285.0,420.0 C282.7,428.3 279.2,440.8 278.0,445.0" fill="none" stroke="#fff" stroke-width="1.3" stroke-linecap="round" stroke-linejoin="round" opacity="0.6"/>
<path d="M270.0,250.0 C275.0,254.2 291.7,266.7 300.0,275.0 C308.3,283.3 314.2,290.8 320.0,300.0 C325.8,309.2 332.5,325.0 335.0,330.0" fill="none" stroke="#fff" stroke-width="1.0" stroke-linecap="round" stroke-linejoin="round" opacity="0.3"/>
<path d="M201,326 C204,324 207,326 207,331 L207,345 C207,349 203,350 201,347 Z" fill="#fff" opacity="1" filter="url(#b1)"/>
<path d="M163,278h0M303,378h0" stroke="#fff" stroke-width="1" stroke-linecap="round" opacity="0.6"/>
<path d="M169,201h0M112,405h0" stroke="#fff" stroke-width="1" stroke-linecap="round" opacity="0.8"/>
<path d="M153,236h0M252,249h0M245,250h0M233,250h0M93,344h0M93,344h0M281,424h0M288,404h0M319,369h0M319,369h0M291,419h0M293,417h0M285,420h0" stroke="#fff" stroke-width="1.5" stroke-linecap="round" opacity="0.4"/>
<path d="M157,265h0M180,244h0M158,265h0M283,270h0M264,275h0M136,338h0M136,338h0M130,399h0M86,331h0M78,381h0M133,406h0M117,413h0M115,409h0M298,383h0M296,359h0" stroke="#fff" stroke-width="1.5" stroke-linecap="round" opacity="0.5"/>
<path d="M257,218h0M251,210h0M237,240h0M229,241h0M256,261h0M233,254h0M131,409h0M117,443h0M296,359h0M283,344h0M277,415h0M290,443h0M292,447h0M303,358h0M315,366h0M325,380h0" stroke="#fff" stroke-width="1.5" stroke-linecap="round" opacity="0.6"/>
<path d="M181,206h0M233,224h0M160,261h0M146,263h0M115,419h0M111,403h0M104,344h0M112,356h0M111,352h0M102,417h0M102,417h0M297,443h0M315,410h0M266,364h0M270,366h0M290,409h0M290,409h0" stroke="#fff" stroke-width="1.5" stroke-linecap="round" opacity="0.7"/>
<path d="M250,202h0M238,236h0M247,248h0M129,308h0M97,379h0M139,420h0M111,324h0M279,400h0M323,347h0M275,409h0M320,380h0M319,371h0M305,354h0" stroke="#fff" stroke-width="1.5" stroke-linecap="round" opacity="0.8"/>
<path d="M253,207h0M125,332h0M294,342h0M281,367h0" stroke="#fff" stroke-width="1.5" stroke-linecap="round" opacity="0.9"/>
<path d="M163,240h0M273,268h0M239,225h0M244,239h0M255,254h0M224,255h0M124,338h0M124,338h0" stroke="#fff" stroke-width="2" stroke-linecap="round" opacity="0.4"/>
<path d="M169,192h0M153,266h0M165,250h0M149,265h0M161,263h0M161,263h0M133,391h0M121,386h0M113,427h0M115,418h0M295,374h0M295,369h0M297,377h0M300,373h0M289,380h0M298,383h0M291,393h0M294,424h0" stroke="#fff" stroke-width="2" stroke-linecap="round" opacity="0.5"/>
<path d="M244,200h0M234,250h0M120,427h0M118,426h0M292,357h0M292,357h0M281,357h0M303,383h0M283,403h0M286,431h0M297,352h0" stroke="#fff" stroke-width="2" stroke-linecap="round" opacity="0.6"/>
<path d="M170,221h0M175,183h0M165,256h0M162,258h0M170,250h0M115,430h0M115,419h0M104,344h0M104,344h0M117,340h0M105,404h0M297,447h0M304,397h0M315,410h0M277,371h0" stroke="#fff" stroke-width="2" stroke-linecap="round" opacity="0.7"/>
<path d="M174,178h0M178,218h0M243,189h0M241,231h0M258,257h0M137,329h0M140,332h0M97,379h0M132,431h0M125,320h0M108,332h0M101,338h0M279,400h0M293,335h0M293,335h0M288,343h0M266,411h0" stroke="#fff" stroke-width="2" stroke-linecap="round" opacity="0.8"/>
<path d="M170,203h0M165,212h0M243,195h0M109,330h0M129,335h0M297,338h0" stroke="#fff" stroke-width="2" stroke-linecap="round" opacity="0.9"/>
<path d="M168,237h0M252,249h0M92,348h0M291,419h0M285,420h0" stroke="#fff" stroke-width="2.5" stroke-linecap="round" opacity="0.4"/>
<path d="M167,232h0M170,215h0M149,265h0M168,254h0M131,387h0M117,385h0M106,392h0M97,323h0M80,343h0M74,378h0M74,378h0M150,406h0M122,355h0M122,364h0M121,359h0M294,378h0M291,352h0M306,412h0M302,413h0" stroke="#fff" stroke-width="2.5" stroke-linecap="round" opacity="0.5"/>
<path d="M171,253h0M241,255h0M242,251h0M255,258h0M239,243h0M131,409h0M128,392h0M121,435h0M119,447h0M110,416h0M120,431h0M280,348h0M278,411h0M292,334h0M297,321h0M297,321h0M296,347h0" stroke="#fff" stroke-width="2.5" stroke-linecap="round" opacity="0.6"/>
<path d="M174,200h0M190,208h0M247,190h0M243,196h0M189,224h0M193,222h0M173,258h0M93,428h0M96,425h0M119,431h0M105,398h0M293,396h0M289,398h0" stroke="#fff" stroke-width="2.5" stroke-linecap="round" opacity="0.7"/>
<path d="M246,216h0M247,248h0M146,409h0M138,317h0M282,396h0M328,354h0M281,403h0" stroke="#fff" stroke-width="2.5" stroke-linecap="round" opacity="0.8"/>
<path d="M181,232h0M246,213h0M111,326h0M133,394h0M121,370h0M137,336h0M291,344h0M274,329h0" stroke="#fff" stroke-width="2.5" stroke-linecap="round" opacity="0.9"/>
<path d="M174,186h0" stroke="#fff" stroke-width="2.5" stroke-linecap="round" opacity="1"/>
<path d="M152,251h0M277,269h0M245,248h0M224,255h0M124,338h0M278,427h0M319,369h0M291,419h0" stroke="#fff" stroke-width="3" stroke-linecap="round" opacity="0.4"/>
<path d="M133,335h0M133,406h0M118,439h0M116,435h0M294,356h0" stroke="#fff" stroke-width="3" stroke-linecap="round" opacity="0.5"/>
<path d="M179,218h0M240,235h0M121,435h0M113,419h0M303,378h0M316,371h0" stroke="#fff" stroke-width="3" stroke-linecap="round" opacity="0.6"/>
<path d="M175,189h0M173,202h0M243,208h0M166,248h0M146,263h0M85,443h0M128,423h0M115,419h0M111,403h0M300,427h0M293,396h0M288,406h0" stroke="#fff" stroke-width="3" stroke-linecap="round" opacity="0.7"/>
<path d="M177,210h0M242,185h0M248,252h0M138,317h0M318,340h0M319,371h0M318,372h0M318,372h0" stroke="#fff" stroke-width="3" stroke-linecap="round" opacity="0.8"/>
<path d="M172,216h0M246,197h0M114,323h0M128,386h0M277,332h0" stroke="#fff" stroke-width="3" stroke-linecap="round" opacity="0.9"/>
<path d="M169,222h0" stroke="#fff" stroke-width="3.5" stroke-linecap="round" opacity="0.9"/>
<path d="M204,352h0M203,380h0M204,396h0M203,410h0M204,425h0M203,440h0M203,455h0" stroke="#fff" stroke-width="4" stroke-linecap="round" opacity="0.6"/>
<path d="M244,201h0" stroke="#fff" stroke-width="4" stroke-linecap="round" opacity="0.7"/>
<path d="M173,194h0M243,213h0" stroke="#fff" stroke-width="4" stroke-linecap="round" opacity="0.9"/>
<path d="M246,223h0M247,198h0" stroke="#fff" stroke-width="4" stroke-linecap="round" opacity="1"/>
<path d="M170,200h0" stroke="#fff" stroke-width="4.5" stroke-linecap="round" opacity="0.7"/>
<path d="M236,151h0M216,148h0M242,197h0M243,222h0" stroke="#fff" stroke-width="4.5" stroke-linecap="round" opacity="0.8"/>
<path d="M173,210h0M241,214h0M243,178h0" stroke="#fff" stroke-width="4.5" stroke-linecap="round" opacity="0.9"/>
<path d="M175,195h0" stroke="#fff" stroke-width="4.5" stroke-linecap="round" opacity="1"/>
<path d="M177,185h0M176,197h0M241,210h0M244,192h0M242,186h0M245,192h0" stroke="#fff" stroke-width="5" stroke-linecap="round" opacity="0.8"/>
<path d="M173,180h0M243,183h0M247,192h0" stroke="#fff" stroke-width="5" stroke-linecap="round" opacity="0.9"/>
<path d="M176,190h0" stroke="#fff" stroke-width="5" stroke-linecap="round" opacity="1"/>
<path d="M176,197h0" stroke="#fff" stroke-width="5.5" stroke-linecap="round" opacity="0.7"/>
<path d="M174,215h0M170,219h0M168,214h0M248,188h0M249,192h0" stroke="#fff" stroke-width="5.5" stroke-linecap="round" opacity="0.8"/>
<path d="M171,185h0" stroke="#fff" stroke-width="5.5" stroke-linecap="round" opacity="1"/>
<path d="M173,201h0M174,193h0M242,230h0" stroke="#fff" stroke-width="6" stroke-linecap="round" opacity="1"/>
<path d="M173,242L171,239L168,237L164,235L160,235L156,234L153,236M175,238L171,240L167,240L163,240L160,242L157,245L155,248L152,251L149,253M260,260L264,261L267,263L269,266L273,268L277,269L280,267L284,267L288,266M244,239L245,235L244,231L241,229L239,225M124,338L126,334L128,330L129,326L130,321M91,353L92,348L93,344L93,339L95,335L98,332L99,328L101,323M288,404L285,407L284,411L284,415L282,420L281,424L278,427L275,430M322,351L321,356L320,360L318,364L319,369" fill="none" stroke="#fff" stroke-width="0.5" stroke-linejoin="round" opacity="0.3"/>
<path d="M162,257L159,259L156,262L153,264L149,265M258,270L261,273L264,275L268,276L272,275L275,273L279,272L283,270L286,268L288,265M132,330L133,335L136,338L137,342M106,392L109,388L113,386L117,385L121,386L126,387M122,422L120,427L119,431L121,435M294,382L294,378L295,374L295,369L293,365M300,373L297,377L293,379L289,380L285,382L281,383" fill="none" stroke="#fff" stroke-width="0.5" stroke-linejoin="round" opacity="0.4"/>
<path d="M167,239L171,238L175,237L179,236L182,233L184,230L186,227L189,224L193,222M240,235L240,239L239,243L239,247M107,408L109,412L112,415L115,419M301,374L303,378L303,383L303,387M313,362L315,366L316,371L319,374L321,378L325,380L329,383" fill="none" stroke="#fff" stroke-width="0.5" stroke-linejoin="round" opacity="0.5"/>
<path d="M250,202L252,199L255,197M242,227L241,231L238,232L235,235M148,404L146,409L144,413L143,417L139,420L136,423L134,427L132,431M112,319L111,324L110,328L108,332L104,335L101,338M105,404L104,408L103,413L102,417" fill="none" stroke="#fff" stroke-width="0.5" stroke-linejoin="round" opacity="0.6"/>
<path d="M171,230L174,230L177,232L181,232L184,234L185,237L187,240" fill="none" stroke="#fff" stroke-width="0.5" stroke-linejoin="round" opacity="0.7"/>
<path d="M242,245L245,248L247,251L251,253L255,254L258,252L262,251L265,248L268,246L271,242M234,244L232,247L230,251L227,253L224,255M252,249L251,245L250,241L250,237L249,233L247,229M245,250L241,248L237,249L233,250M126,401L129,404L133,406L137,407L142,407L146,406L150,406L154,408M290,398L291,393L294,390L295,386L298,383L302,382M295,402L293,406L292,410L292,415L291,419M297,415L293,417L289,417L285,420" fill="none" stroke="#fff" stroke-width="1" stroke-linejoin="round" opacity="0.3"/>
<path d="M247,205L248,208L251,210L254,211L257,212L261,213L263,215L265,218M153,266L157,265L161,265L164,266M163,253L165,250L168,248L172,246L176,246L180,244L183,242L186,239M166,236L167,232L165,229L164,225L164,221L166,218L170,215L172,212M168,254L166,258L163,260L161,263M171,253L169,256L168,260L168,264L168,268L168,272L165,275L163,278L162,282M164,260L161,263L158,265L155,268L152,270L149,273M255,258L256,261L256,265L254,269L254,273M131,387L133,391L133,396L130,399M99,319L97,323L93,326L90,329L86,331L84,335L83,340L80,343M97,399L93,397L90,394L88,390L85,386L81,384L78,381L74,378M112,414L113,418L112,423L113,427L116,431L116,435L118,439L122,441L126,444L129,447M116,404L115,409L117,413L115,418L112,421L109,424M298,376L298,371L299,367L299,362L296,359L292,357M277,420L277,415L278,411L280,406L283,403L285,399L285,395L283,390L281,387M297,321L294,325L293,329L292,334M284,341L287,344L288,349L291,352L294,356L296,359M295,428L294,424L296,420L298,416L302,413L306,412L311,413L315,413L319,415" fill="none" stroke="#fff" stroke-width="1" stroke-linejoin="round" opacity="0.4"/>
<path d="M174,207L177,208L180,209L184,207L187,207L190,208M174,209L176,212L178,214L179,218L178,221L176,224L174,227L170,228M176,186L175,183L173,180L174,177L173,173L172,170L173,167L173,163M240,194L243,196L246,198L249,199L253,199L256,199M247,190L247,194L246,197L244,200L244,204M166,260L165,256L165,252L166,248L168,245L170,242L171,238L173,234M162,258L160,261L158,265L158,269L159,272L161,276L162,280L164,283M151,257L148,260L146,263L145,267L146,271L145,275M171,239L170,242L170,246L170,250L171,254L173,258M244,235L244,239L243,243L243,247L242,251L241,255L239,258M120,408L122,412L126,415L128,418L128,423L127,427L124,430L119,431L115,430L110,430M128,392L130,396L132,400L132,405L131,409L129,413M117,410L115,406L111,403L109,399L105,398M104,344L106,349L108,352L110,356M118,426L116,430L116,435L115,439L117,443L119,447L120,452M117,340L114,343L113,347L111,352L112,356L111,361L108,364L107,369L107,373L106,377M283,344L280,348L279,353L281,357L284,360L286,364L287,369L287,373L286,377M300,427L297,430L295,434L295,438L297,443L297,447L299,451L299,456M289,398L293,396L297,395L301,397M286,426L286,431L287,435L289,439L290,443L292,447L295,451L296,455M277,371L274,368L270,366L266,364L263,360L259,358M293,343L296,347L297,352L300,355L303,358" fill="none" stroke="#fff" stroke-width="1" stroke-linejoin="round" opacity="0.5"/>
<path d="M169,201L167,203L165,206M169,222L172,221L175,219L178,218L182,218L184,220L188,221M249,219L246,220L243,222L240,223L236,223L233,224M243,189L243,193L244,196L245,199L247,202M243,232L240,234L238,236L237,239L238,243L236,246L235,249M258,257L255,255L252,252L248,252L244,251L240,250L237,248L234,245L231,243L227,241M247,248L247,252L248,256L248,260L249,264L252,267L254,270M100,417L98,421L96,425L93,428L91,432L87,435L86,439L85,443L81,447L77,448M129,308L131,312L134,316L136,320L137,324L137,329L140,332L141,336L141,341L139,345M112,405L110,401L106,399L104,394L105,390L103,386L99,383L97,379L93,377L90,374M291,394L286,395L282,396L279,400M328,354L326,351L323,347L320,344L318,340M293,331L293,335L291,339L288,343M304,397L305,401L308,405L311,407L315,410M281,403L278,406L275,409L270,410L266,411L262,411M316,363L318,367L319,371L319,375L320,380L323,383L327,386M286,397L286,401L288,406L290,409M300,347L302,350L305,354L308,357L310,361L313,364L316,367L318,372" fill="none" stroke="#fff" stroke-width="1" stroke-linejoin="round" opacity="0.6"/>
<path d="M171,200L171,203L170,207L168,209L165,212L163,215M175,223L174,219L173,216L174,213L177,210L180,209L184,210M247,208L250,207L253,207L256,205L260,204M114,323L111,326L109,330L107,334L105,338M121,366L121,370L122,374L124,378L127,382L128,386L130,390L133,394M138,317L134,319L129,320L125,320L121,318L117,316L113,313M122,329L125,332L129,335L133,336L137,336L142,338L145,340M297,338L294,342L291,344L286,346" fill="none" stroke="#fff" stroke-width="1" stroke-linejoin="round" opacity="0.7"/>
<path d="M173,193L169,192L166,193L162,193L159,194M126,343L124,347L122,351L122,355L121,359L122,364L124,368" fill="none" stroke="#fff" stroke-width="1.5" stroke-linejoin="round" opacity="0.4"/>
<path d="M176,197L178,200L180,203L181,206L183,209L186,211L189,212L193,212M245,213L248,215L251,215L254,216L257,218L260,219M246,248L244,244L241,241L237,240L233,240L229,241L225,242L222,244L218,243M238,243L237,247L234,250L233,254L232,258M110,416L113,419L116,422L117,427L120,431L120,435" fill="none" stroke="#fff" stroke-width="1.5" stroke-linejoin="round" opacity="0.5"/>
<path d="M281,367L282,362L282,358L281,353L281,349L280,345L280,340L280,336L277,332L274,329" fill="none" stroke="#fff" stroke-width="1.5" stroke-linejoin="round" opacity="0.7"/>
<rect x="0" y="0" width="1.5" height="490.7" filter="url(#grain)" opacity="0.05"/>
</g>
<clipPath id="clip1"><rect x="0" y="0" width="393.3" height="490.7"/></clipPath>
<g transform="translate(602.2,1552.3)" clip-path="url(#clip1)">
<rect x="0" y="0" width="393.3" height="490.7" fill="#101010"/>
<path d="M0,0 L394,0 L394,491 L0,491 Z" fill="#fff" opacity="0.07" filter="url(#tE)"/>
<path d="M0,0 L394,0 L394,491 L0,491 Z" fill="#fff" opacity="0.08" filter="url(#tC)"/>
<path d="M0,0 L135,0 L128,40 L112,90 L80,110 L40,115 L20,150 L0,160 Z" fill="#fff" opacity="0.6" filter="url(#tW)"/>
<path d="M0,150 L30,140 L25,200 L10,250 L0,260 Z" fill="#fff" opacity="0.35" filter="url(#tW)"/>
<path d="M60.0,0.0 C63.3,5.0 74.2,20.0 80.0,30.0 C85.8,40.0 92.5,55.0 95.0,60.0" fill="none" stroke="#fff" stroke-width="5" stroke-linecap="round" stroke-linejoin="round" opacity="0.7" filter="url(#b2)"/>
<path d="M0.0,20.0 C4.2,18.3 16.7,13.3 25.0,10.0 C33.3,6.7 45.8,1.7 50.0,0.0" fill="none" stroke="#fff" stroke-width="4" stroke-linecap="round" stroke-linejoin="round" opacity="0.6" filter="url(#b2)"/>
<path d="M0.0,100.0 C1.7,104.2 7.5,115.0 10.0,125.0 C12.5,135.0 14.2,154.2 15.0,160.0" fill="none" stroke="#fff" stroke-width="5" stroke-linecap="round" stroke-linejoin="round" opacity="0.55" filter="url(#b2)"/>
<path d="M100.0,0.0 C103.0,3.3 116.0,11.7 118.0,20.0 C120.0,28.3 114.2,40.0 112.0,50.0 C109.8,60.0 106.2,75.0 105.0,80.0" fill="none" stroke="#fff" stroke-width="10" stroke-linecap="round" stroke-linejoin="round" opacity="0.9" filter="url(#b2)"/>
<path d="M50.0,130.0 C47.5,133.3 40.8,142.5 35.0,150.0 C29.2,157.5 20.8,167.5 15.0,175.0 C9.2,182.5 2.5,191.7 0.0,195.0" fill="none" stroke="#fff" stroke-width="8" stroke-linecap="round" stroke-linejoin="round" opacity="0.75" filter="url(#b2)"/>
<path d="M250,0 L394,0 L394,30 L340,60 L300,55 L270,30 Z" fill="#fff" opacity="0.8" filter="url(#tW)"/>
<path d="M330,230 L394,210 L394,300 L350,270 Z" fill="#fff" opacity="0.6" filter="url(#tW)"/>
<path d="M0,230 L25,250 L15,300 L0,330 Z" fill="#fff" opacity="0.4" filter="url(#tW)"/>
<path d="M0,360 L30,370 L40,400 L20,420 L0,410 Z" fill="#fff" opacity="0.6" filter="url(#tW)"/>
<path d="M0,460 L60,470 L60,491 L0,491 Z" fill="#fff" opacity="0.6" filter="url(#tW)"/>
<path d="M360,430 L394,420 L394,491 L350,491 Z" fill="#fff" opacity="0.7" filter="url(#tW)"/>
<path d="M125,40 C150,10 230,5 290,20 C300,60 290,120 270,160 C250,200 200,210 160,190 C130,160 115,100 125,40 Z" fill="#080808" opacity="0.85" filter="url(#b15)"/>
<path d="M320,50 C360,20 394,20 394,40 L394,230 C370,240 340,220 325,180 C315,130 310,80 320,50 Z" fill="#050505" opacity="0.95" filter="url(#b8)"/>
<path d="M40,250 C90,230 140,240 150,300 C160,380 130,450 90,470 C60,440 20,350 40,250 Z" fill="#080808" opacity="0.5" filter="url(#b15)"/>
<path d="M345.0,270.0 C346.7,278.3 352.8,303.3 355.0,320.0 C357.2,336.7 358.8,353.3 358.0,370.0 C357.2,386.7 354.7,405.0 350.0,420.0 C345.3,435.0 333.3,453.3 330.0,460.0" fill="none" stroke="#fff" stroke-width="2" stroke-linecap="round" stroke-linejoin="round" opacity="0.45" filter="url(#b1)"/>
<path d="M20.0,360.0 C23.3,365.8 31.7,383.3 40.0,395.0 C48.3,406.7 61.7,419.2 70.0,430.0 C78.3,440.8 85.0,449.8 90.0,460.0 C95.0,470.2 98.3,485.8 100.0,491.0" fill="none" stroke="#fff" stroke-width="2" stroke-linecap="round" stroke-linejoin="round" opacity="0.35" filter="url(#b1)"/>
<path d="M168.0,150.0 C168.3,154.2 169.8,166.7 170.0,175.0 C170.2,183.3 169.5,192.2 169.0,200.0 C168.5,207.8 167.7,216.2 167.0,222.0 C166.3,227.8 165.3,232.8 165.0,235.0" fill="none" stroke="#fff" stroke-width="9" stroke-linecap="round" opacity="0.18" filter="url(#b4)"/>
<path d="M168.0,150.0 C168.3,154.2 169.8,166.7 170.0,175.0 C170.2,183.3 169.5,192.2 169.0,200.0 C168.5,207.8 167.7,216.2 167.0,222.0 C166.3,227.8 165.3,232.8 165.0,235.0" fill="none" stroke="#fff" stroke-width="2.7" stroke-linecap="round" opacity="0.9" filter="url(#b2)"/>
<path d="M168.0,150.0 C168.3,154.2 169.8,166.7 170.0,175.0 C170.2,183.3 169.5,192.2 169.0,200.0 C168.5,207.8 167.7,216.2 167.0,222.0 C166.3,227.8 165.3,232.8 165.0,235.0" fill="none" stroke="#fff" stroke-width="1.5" stroke-linecap="round" opacity="1.0" filter="url(#b1)"/>
<path d="M168.0,160.0 C166.7,158.3 162.7,153.0 160.0,150.0 C157.3,147.0 153.3,143.3 152.0,142.0" fill="none" stroke="#fff" stroke-width="2" stroke-linecap="round" stroke-linejoin="round" opacity="0.7"/>
<path d="M180,172 C186,164 197,163 199,169 C200,175 191,179 183,179 Z" fill="#fff" opacity="1" filter="url(#b1)"/>
<path d="M170.0,182.0 L180.0,176.0" fill="none" stroke="#fff" stroke-width="2" stroke-linecap="round" stroke-linejoin="round" opacity="0.8"/>
<path d="M236.0,132.0 C235.8,136.7 235.0,150.3 235.0,160.0 C235.0,169.7 235.5,180.8 236.0,190.0 C236.5,199.2 237.7,207.0 238.0,215.0 C238.3,223.0 238.0,234.2 238.0,238.0" fill="none" stroke="#fff" stroke-width="12" stroke-linecap="round" opacity="0.22" filter="url(#b4)"/>
<path d="M236.0,132.0 C235.8,136.7 235.0,150.3 235.0,160.0 C235.0,169.7 235.5,180.8 236.0,190.0 C236.5,199.2 237.7,207.0 238.0,215.0 C238.3,223.0 238.0,234.2 238.0,238.0" fill="none" stroke="#fff" stroke-width="3.6" stroke-linecap="round" opacity="0.9" filter="url(#b2)"/>
<path d="M236.0,132.0 C235.8,136.7 235.0,150.3 235.0,160.0 C235.0,169.7 235.5,180.8 236.0,190.0 C236.5,199.2 237.7,207.0 238.0,215.0 C238.3,223.0 238.0,234.2 238.0,238.0" fill="none" stroke="#fff" stroke-width="2.0" stroke-linecap="round" opacity="1.0" filter="url(#b1)"/>
<path d="M219,138 C222,131 231,133 231,141 C231,150 225,153 221,149 Z" fill="#fff" opacity="1" filter="url(#b1)"/>
<path d="M216.0,162.0 C217.7,163.7 223.0,169.0 226.0,172.0 C229.0,175.0 232.7,178.7 234.0,180.0" fill="none" stroke="#fff" stroke-width="2.5" stroke-linecap="round" stroke-linejoin="round" opacity="0.8"/>
<path d="M160.0,238.0 C157.7,241.3 150.7,250.7 146.0,258.0 C141.3,265.3 136.0,273.3 132.0,282.0 C128.0,290.7 124.7,300.3 122.0,310.0 C119.3,319.7 116.7,330.0 116.0,340.0 C115.3,350.0 118.7,361.7 118.0,370.0 C117.3,378.3 114.7,383.3 112.0,390.0 C109.3,396.7 104.3,401.7 102.0,410.0 C99.7,418.3 98.7,435.0 98.0,440.0" fill="none" stroke="#fff" stroke-width="1.3" stroke-linecap="round" stroke-linejoin="round" opacity="0.6"/>
<path d="M245.0,242.0 C247.2,245.3 253.0,254.3 258.0,262.0 C263.0,269.7 269.7,278.7 275.0,288.0 C280.3,297.3 288.3,309.0 290.0,318.0 C291.7,327.0 287.5,333.3 285.0,342.0 C282.5,350.7 277.2,360.3 275.0,370.0 C272.8,379.7 273.2,390.0 272.0,400.0 C270.8,410.0 267.5,420.8 268.0,430.0 C268.5,439.2 273.8,450.8 275.0,455.0" fill="none" stroke="#fff" stroke-width="1.3" stroke-linecap="round" stroke-linejoin="round" opacity="0.6"/>
<path d="M125,398h0" stroke="#fff" stroke-width="1" stroke-linecap="round" opacity="0.5"/>
<path d="M111,357h0" stroke="#fff" stroke-width="1" stroke-linecap="round" opacity="0.7"/>
<path d="M261,447h0" stroke="#fff" stroke-width="1" stroke-linecap="round" opacity="0.8"/>
<path d="M262,337h0" stroke="#fff" stroke-width="1" stroke-linecap="round" opacity="0.9"/>
<path d="M239,233h0M288,401h0M243,466h0" stroke="#fff" stroke-width="1.5" stroke-linecap="round" opacity="0.4"/>
<path d="M97,395h0M98,391h0M78,346h0M124,392h0M120,379h0M280,364h0M282,360h0M278,457h0M249,458h0M253,438h0M174,484h0M153,465h0" stroke="#fff" stroke-width="1.5" stroke-linecap="round" opacity="0.5"/>
<path d="M167,217h0M237,152h0M231,162h0M134,355h0M130,357h0M96,364h0M109,352h0M122,332h0M124,319h0M90,340h0M136,362h0M235,409h0M274,408h0M271,380h0M304,404h0M278,434h0M283,441h0" stroke="#fff" stroke-width="1.5" stroke-linecap="round" opacity="0.6"/>
<path d="M236,177h0M109,362h0M109,362h0M104,401h0M108,415h0M111,357h0M290,447h0M286,447h0M292,356h0M271,412h0" stroke="#fff" stroke-width="1.5" stroke-linecap="round" opacity="0.7"/>
<path d="M228,168h0M234,194h0M93,421h0M96,451h0M120,355h0M267,368h0M264,385h0M242,429h0M250,406h0" stroke="#fff" stroke-width="1.5" stroke-linecap="round" opacity="0.8"/>
<path d="M171,156h0M224,170h0M246,218h0M243,142h0M295,381h0M299,323h0" stroke="#fff" stroke-width="1.5" stroke-linecap="round" opacity="0.9"/>
<path d="M131,348h0M135,350h0M106,369h0M111,358h0M144,358h0M131,355h0M97,386h0M266,393h0M275,384h0M238,449h0" stroke="#fff" stroke-width="2" stroke-linecap="round" opacity="0.4"/>
<path d="M167,210h0M186,164h0M147,180h0M241,148h0M229,204h0M129,374h0M98,391h0M70,342h0M98,390h0M98,390h0M103,410h0M104,432h0M122,383h0M256,434h0" stroke="#fff" stroke-width="2" stroke-linecap="round" opacity="0.5"/>
<path d="M163,180h0M162,181h0M172,217h0M237,148h0M114,424h0M96,403h0M106,350h0M95,381h0M109,335h0M109,335h0M98,350h0M124,349h0M244,409h0M260,362h0M260,420h0M261,415h0M262,442h0M275,421h0" stroke="#fff" stroke-width="2" stroke-linecap="round" opacity="0.6"/>
<path d="M171,173h0M227,192h0M112,375h0M101,405h0M278,417h0M252,466h0" stroke="#fff" stroke-width="2" stroke-linecap="round" opacity="0.7"/>
<path d="M152,202h0M96,418h0M251,410h0M251,428h0" stroke="#fff" stroke-width="2" stroke-linecap="round" opacity="0.8"/>
<path d="M234,237h0M233,172h0M286,356h0M298,319h0M281,389h0M262,337h0" stroke="#fff" stroke-width="2" stroke-linecap="round" opacity="0.9"/>
<path d="M157,502h0" stroke="#fff" stroke-width="2.5" stroke-linecap="round" opacity="0.2"/>
<path d="M237,446h0M251,435h0" stroke="#fff" stroke-width="2.5" stroke-linecap="round" opacity="0.3"/>
<path d="M138,354h0M80,389h0M273,388h0M288,401h0M286,405h0" stroke="#fff" stroke-width="2.5" stroke-linecap="round" opacity="0.4"/>
<path d="M167,168h0M167,233h0M127,403h0M129,374h0M123,412h0M126,394h0M116,348h0M66,341h0M103,410h0M279,466h0M273,410h0M264,420h0M150,450h0" stroke="#fff" stroke-width="2.5" stroke-linecap="round" opacity="0.5"/>
<path d="M232,226h0M237,174h0M240,220h0M134,355h0M97,408h0M142,368h0M235,409h0M258,411h0M278,391h0M257,359h0M297,398h0M309,411h0" stroke="#fff" stroke-width="2.5" stroke-linecap="round" opacity="0.6"/>
<path d="M237,149h0M238,137h0M117,397h0M108,410h0M278,413h0M265,433h0M265,441h0M261,455h0M290,373h0M291,369h0" stroke="#fff" stroke-width="2.5" stroke-linecap="round" opacity="0.7"/>
<path d="M171,165h0M162,174h0M238,139h0M90,369h0M271,366h0M280,363h0M258,403h0M262,451h0M254,431h0M253,410h0" stroke="#fff" stroke-width="2.5" stroke-linecap="round" opacity="0.8"/>
<path d="M298,384h0M284,370h0M281,461h0M306,468h0M274,456h0M278,381h0M276,377h0M257,330h0" stroke="#fff" stroke-width="2.5" stroke-linecap="round" opacity="0.9"/>
<path d="M240,214h0M242,239h0" stroke="#fff" stroke-width="2.5" stroke-linecap="round" opacity="1"/>
<path d="M229,469h0" stroke="#fff" stroke-width="3" stroke-linecap="round" opacity="0.2"/>
<path d="M157,460h0M234,440h0" stroke="#fff" stroke-width="3" stroke-linecap="round" opacity="0.3"/>
<path d="M104,373h0M131,355h0M116,378h0" stroke="#fff" stroke-width="3" stroke-linecap="round" opacity="0.4"/>
<path d="M168,216h0M116,357h0M116,357h0M123,387h0M281,369h0M282,475h0M262,424h0M148,504h0" stroke="#fff" stroke-width="3" stroke-linecap="round" opacity="0.5"/>
<path d="M183,238h0M236,172h0M114,424h0M118,417h0M94,400h0M108,343h0M87,332h0M259,397h0M258,411h0M278,391h0M315,323h0M315,323h0M292,323h0" stroke="#fff" stroke-width="3" stroke-linecap="round" opacity="0.6"/>
<path d="M168,211h0M108,415h0M111,357h0M264,453h0M275,413h0M279,416h0" stroke="#fff" stroke-width="3" stroke-linecap="round" opacity="0.7"/>
<path d="M169,167h0M167,204h0M165,195h0M239,207h0M237,240h0M233,149h0M238,158h0M90,369h0M268,436h0M242,402h0" stroke="#fff" stroke-width="3" stroke-linecap="round" opacity="0.8"/>
<path d="M168,156h0M172,201h0M168,197h0M236,211h0M235,185h0M295,381h0M278,391h0M284,379h0" stroke="#fff" stroke-width="3" stroke-linecap="round" opacity="0.9"/>
<path d="M170,163h0" stroke="#fff" stroke-width="3" stroke-linecap="round" opacity="1"/>
<path d="M240,224h0" stroke="#fff" stroke-width="3.5" stroke-linecap="round" opacity="0.7"/>
<path d="M173,180h0" stroke="#fff" stroke-width="3.5" stroke-linecap="round" opacity="0.8"/>
<path d="M171,204h0M171,233h0M236,186h0" stroke="#fff" stroke-width="3.5" stroke-linecap="round" opacity="0.9"/>
<path d="M164,210h0M169,153h0M233,148h0" stroke="#fff" stroke-width="3.5" stroke-linecap="round" opacity="1"/>
<path d="M172,176h0M164,234h0M232,133h0M234,179h0" stroke="#fff" stroke-width="4" stroke-linecap="round" opacity="0.7"/>
<path d="M168,216h0M163,231h0" stroke="#fff" stroke-width="4" stroke-linecap="round" opacity="0.8"/>
<path d="M169,197h0M237,225h0M234,137h0M232,135h0" stroke="#fff" stroke-width="4" stroke-linecap="round" opacity="0.9"/>
<path d="M239,175h0" stroke="#fff" stroke-width="4" stroke-linecap="round" opacity="1"/>
<path d="M234,154h0" stroke="#fff" stroke-width="4.5" stroke-linecap="round" opacity="0.7"/>
<path d="M164,199h0M170,202h0M233,155h0" stroke="#fff" stroke-width="4.5" stroke-linecap="round" opacity="0.8"/>
<path d="M172,195h0M237,199h0" stroke="#fff" stroke-width="4.5" stroke-linecap="round" opacity="0.9"/>
<path d="M239,203h0" stroke="#fff" stroke-width="4.5" stroke-linecap="round" opacity="1"/>
<path d="M169,182h0" stroke="#fff" stroke-width="5" stroke-linecap="round" opacity="0.7"/>
<path d="M237,146h0" stroke="#fff" stroke-width="5" stroke-linecap="round" opacity="0.8"/>
<path d="M170,178h0M170,187h0" stroke="#fff" stroke-width="5" stroke-linecap="round" opacity="1"/>
<path d="M232,153h0M235,205h0M242,220h0" stroke="#fff" stroke-width="5.5" stroke-linecap="round" opacity="0.9"/>
<path d="M238,224h0" stroke="#fff" stroke-width="5.5" stroke-linecap="round" opacity="1"/>
<path d="M243,195h0" stroke="#fff" stroke-width="6" stroke-linecap="round" opacity="0.8"/>
<path d="M237,188h0" stroke="#fff" stroke-width="6" stroke-linecap="round" opacity="0.9"/>
<path d="M229,469L230,475L233,480L236,485" fill="none" stroke="#fff" stroke-width="0.5" stroke-linejoin="round" opacity="0.2"/>
<path d="M112,384L108,381L105,378L104,373L106,369L106,365L108,361L111,358M116,378L113,382L110,385L105,386L101,385L97,386L93,389L89,390L84,391L80,389M275,384L273,388L270,391L266,393L264,397L260,400" fill="none" stroke="#fff" stroke-width="0.5" stroke-linejoin="round" opacity="0.3"/>
<path d="M166,167L168,170L167,174L165,176L163,180M166,176L164,179L162,181M162,208L166,210L168,212L168,216L168,219M126,394L125,398L124,403L123,407L123,412M109,352L114,351L118,349L120,345L122,341L123,337L122,332L121,328L122,323L124,319M153,445L150,450L146,455L144,461L144,467M150,448L153,453L154,459L153,465" fill="none" stroke="#fff" stroke-width="0.5" stroke-linejoin="round" opacity="0.4"/>
<path d="M164,211L165,214L167,217L168,220L166,223M236,177L239,174L240,171L242,168L242,164M95,381L96,377L95,372L94,368L96,364L99,361L101,357L104,354L106,350L107,345M291,343L293,347L293,351L292,356L293,360L292,365L291,369L290,373M292,323L297,322L300,319L304,317L309,317L313,320L315,323L319,326" fill="none" stroke="#fff" stroke-width="0.5" stroke-linejoin="round" opacity="0.5"/>
<path d="M164,213L163,209L163,206L162,203L159,200L155,200L152,202M96,418L93,421L91,425L90,429L91,434L94,438L95,442L96,446L96,451L94,455L93,459M101,405L104,401L108,399L112,397L117,397L120,399L124,402M267,368L271,366L276,364L280,363L284,360" fill="none" stroke="#fff" stroke-width="0.5" stroke-linejoin="round" opacity="0.6"/>
<path d="M229,166L226,167L224,170M286,361L284,366L284,370L285,375L284,379L282,383L279,387L278,391L277,395L276,400L275,404M268,449L271,452L274,456L278,458L281,461L284,465L288,467L292,466L297,466L301,468L306,468" fill="none" stroke="#fff" stroke-width="0.5" stroke-linejoin="round" opacity="0.7"/>
<path d="M148,487L146,481L148,475L150,470L154,465L157,460L162,457L167,454M155,476L157,481L161,486L162,492L161,497L157,502M236,428L234,434L234,440L234,446L234,452M249,429L251,435L252,441L252,447L252,453L249,458" fill="none" stroke="#fff" stroke-width="1" stroke-linejoin="round" opacity="0.2"/>
<path d="M240,223L240,226L240,230L239,233L238,236M123,331L122,335L122,340L123,344L127,347L131,348L135,350L138,354L142,355M131,355L135,358L139,358L144,358L148,359L151,362M270,447L273,449L276,453L278,457L278,462L279,466L280,470L282,475M286,405L288,401L290,397L291,393L294,389L297,386M233,446L238,449L242,453L247,457L250,462L251,468M249,434L246,439L240,441L237,446M243,478L242,472L243,466L243,460L246,454L250,450" fill="none" stroke="#fff" stroke-width="1" stroke-linejoin="round" opacity="0.3"/>
<path d="M167,168L171,167L174,166M170,213L169,216L170,220L171,223L171,227L170,230L167,233M167,210L165,212L162,214M162,228L165,228L169,230L172,230L174,233L177,234L180,236L183,238M175,157L178,156L182,155L185,157L186,160L186,164L187,167M166,186L163,187L160,185L157,183L153,183L150,182L147,180M236,145L237,148L237,152L235,155L234,158L231,160M241,155L241,152L241,148M235,212L235,215L234,219L233,222L232,226L230,228L226,229L223,231M233,134L232,137L232,140L234,143L237,145L239,148L237,152L237,155M237,222L240,220L243,221L246,223M114,424L117,421L118,417L117,412L116,408L113,405L111,400L110,396L106,393L102,392M131,370L129,374L128,378L129,383L131,387L131,391L132,396L130,400L127,403M116,361L116,357L115,352L116,348L117,344L117,339L117,335M96,386L98,391L97,395L98,399L101,403M90,359L88,355L84,353L81,349L78,346L74,343L70,342L66,341M96,393L98,390L102,388L107,388L111,388L116,389L120,391L124,392M101,406L103,410L105,414L105,419L104,423L104,428L104,432L105,436M119,342L122,345L124,349L126,353L129,356L133,358L136,362L140,364L142,368M116,377L120,379L122,383L123,387L123,392L121,396L119,400L115,402L111,403M286,338L285,343L285,347L284,352L284,356L282,360L280,364L281,369L282,373M271,380L270,375L270,371L268,367L264,364L260,362L257,359L255,355L253,351L249,348L247,345M273,410L270,413L267,417L264,420L262,424M155,462L157,467L161,472L166,475L171,479L174,484L178,488L181,493L184,499L186,504M152,500L148,504L146,510L143,515L142,521L141,527L139,532L134,536L129,540L126,545" fill="none" stroke="#fff" stroke-width="1" stroke-linejoin="round" opacity="0.4"/>
<path d="M167,202L170,204L173,207L173,210L173,214L172,217L172,221M231,162L230,166L227,167M235,186L233,189L230,190L227,192L224,194L222,197M236,179L236,176L236,172M236,177L237,174L237,171M125,364L126,360L130,357L134,355L137,352M108,343L107,339L109,335L112,331L113,327L113,322L114,318L117,314L119,311M100,367L101,363L101,358L101,354L98,350L96,346L93,343L90,340L89,335L87,332L84,328M109,406L108,410L108,415L109,419L112,422L116,425M127,352L124,355L119,357L115,358L111,357L107,355M257,401L256,405L253,408L248,409L244,409L239,409L235,409M261,434L263,438L265,441L268,445L273,446L277,446L282,445L286,447L290,447M274,408L275,404L276,399L277,395L278,391M291,391L294,395L297,398L301,401L304,404L306,408L309,411M258,402L259,406L263,409L267,411L271,412L275,413L279,416L280,420L283,424M275,421L276,425L276,430L278,434L280,438L283,441" fill="none" stroke="#fff" stroke-width="1" stroke-linejoin="round" opacity="0.5"/>
<path d="M165,195L164,198L162,201L163,205M171,171L169,174L165,175L162,174L160,172L158,169M236,184L234,187L233,191L234,194L234,198L233,201L232,204M238,139L235,142L232,142M97,345L100,349L100,353L102,357L105,360L109,362L111,366L112,371L112,375L111,380L108,383M120,355L116,356L111,357L107,356L102,357L98,359L95,362L94,366L90,369M277,408L278,413L278,417L277,422L276,426L273,429L269,431L265,433L262,436M264,385L266,389L266,393L265,398L261,400L258,403L254,406L251,410L250,414M270,427L269,432L268,436L265,439L262,442L261,447L262,451M267,421L266,425L263,429L259,431L254,431L251,428L246,428L242,429M273,402L270,405L268,409L265,412L261,413L256,413L253,410L250,406L247,403L242,402" fill="none" stroke="#fff" stroke-width="1" stroke-linejoin="round" opacity="0.6"/>
<path d="M171,156L170,159L168,162L168,166L168,169L168,173L169,176L170,179M171,165L168,167L165,167L161,166M236,218L239,217L242,218L246,218L249,219M237,138L240,140L243,142L246,143L249,145L251,148L254,149L257,150M291,378L295,381L298,384L302,387L306,388L310,390L315,392M286,356L287,352L290,348L292,344L293,340L293,335L294,331L296,327L299,323L298,319M269,366L270,370L272,374L276,377L278,381L280,385L281,389L280,393L278,397L275,400L271,402M257,330L259,334L262,337L264,341L264,345L263,350" fill="none" stroke="#fff" stroke-width="1" stroke-linejoin="round" opacity="0.7"/>
<path d="M235,201L232,202L229,204M263,402L263,407L263,411L261,415L260,420L260,424L261,428L263,433L263,437L262,442M264,430L260,432L256,434L253,438L250,441L248,445L247,450L248,454L249,458L247,463" fill="none" stroke="#fff" stroke-width="1.5" stroke-linejoin="round" opacity="0.4"/>
<path d="M88,392L91,396L94,400L96,403L97,408M261,419L260,415L258,411L258,406L258,402L259,397M272,442L270,446L267,449L264,453L261,455L258,459L255,463L252,466L251,470" fill="none" stroke="#fff" stroke-width="1.5" stroke-linejoin="round" opacity="0.5"/>
<path d="M235,160L233,163L231,166L228,168" fill="none" stroke="#fff" stroke-width="1.5" stroke-linejoin="round" opacity="0.6"/>
<rect x="0" y="0" width="1.5" height="490.7" filter="url(#grain)" opacity="0.07"/>
</g>
<clipPath id="clip2"><rect x="0" y="0" width="393.3" height="490.7"/></clipPath>
<g transform="translate(1016.2,1552.3)" clip-path="url(#clip2)">
<rect x="0" y="0" width="393.3" height="490.7" fill="#0d0d0d"/>
<path d="M0,0 L394,0 L394,491 L0,491 Z" fill="#fff" opacity="0.08" filter="url(#tE)"/>
<path d="M100,0 L310,0 L300,50 L200,45 L110,60 Z" fill="#fff" opacity="0.35" filter="url(#tA)"/>
<path d="M320,60 L394,60 L394,230 L340,230 Z" fill="#fff" opacity="0.3" filter="url(#tA)"/>
<path d="M0,100 L60,110 L70,250 L0,260 Z" fill="#fff" opacity="0.15" filter="url(#tA)"/>
<path d="M115,90 C120,55 170,48 210,48 C250,48 285,60 290,100 C295,140 280,170 250,180 L170,180 C130,170 112,130 115,90 Z" fill="#060606" opacity="0.85" filter="url(#b8)"/>
<path d="M175,22 C185,18 198,22 200,32 C202,45 192,52 182,50 C172,46 170,30 175,22 Z" fill="#000" opacity="0.9" filter="url(#b2)"/>
<path d="M60,170 C90,160 110,250 110,330 C100,400 70,440 40,430 C20,380 30,230 60,170 Z" fill="#080808" opacity="0.5" filter="url(#b15)"/>
<path d="M300,300 C340,290 380,330 380,420 C370,470 320,480 300,440 Z" fill="#080808" opacity="0.4" filter="url(#b15)"/>
<path d="M0.0,42.0 C2.5,40.7 10.0,36.0 15.0,34.0 C20.0,32.0 27.5,30.7 30.0,30.0" fill="none" stroke="#fff" stroke-width="2" stroke-linecap="round" stroke-linejoin="round" opacity="0.6" filter="url(#b1)"/>
<path d="M0.0,70.0 C2.0,69.5 8.0,67.7 12.0,67.0 C16.0,66.3 22.0,66.2 24.0,66.0" fill="none" stroke="#fff" stroke-width="2" stroke-linecap="round" stroke-linejoin="round" opacity="0.5" filter="url(#b1)"/>
<path d="M138.0,45.0 C140.0,42.8 146.3,35.8 150.0,32.0 C153.7,28.2 158.3,23.7 160.0,22.0" fill="none" stroke="#fff" stroke-width="2.5" stroke-linecap="round" stroke-linejoin="round" opacity="0.6" filter="url(#b1)"/>
<path d="M255.0,40.0 C257.5,45.0 268.8,56.7 270.0,70.0 C271.2,83.3 265.3,103.3 262.0,120.0 C258.7,136.7 252.0,161.7 250.0,170.0" fill="none" stroke="#fff" stroke-width="1.5" stroke-linecap="round" stroke-linejoin="round" opacity="0.25" filter="url(#b1)"/>
<path d="M157.0,165.0 C157.2,169.2 158.2,181.7 158.0,190.0 C157.8,198.3 156.2,206.7 156.0,215.0 C155.8,223.3 156.3,232.2 157.0,240.0 C157.7,247.8 159.5,258.3 160.0,262.0" fill="none" stroke="#fff" stroke-width="12" stroke-linecap="round" opacity="0.3" filter="url(#b4)"/>
<path d="M157.0,165.0 C157.2,169.2 158.2,181.7 158.0,190.0 C157.8,198.3 156.2,206.7 156.0,215.0 C155.8,223.3 156.3,232.2 157.0,240.0 C157.7,247.8 159.5,258.3 160.0,262.0" fill="none" stroke="#fff" stroke-width="3.6" stroke-linecap="round" opacity="0.9" filter="url(#b2)"/>
<path d="M157.0,165.0 C157.2,169.2 158.2,181.7 158.0,190.0 C157.8,198.3 156.2,206.7 156.0,215.0 C155.8,223.3 156.3,232.2 157.0,240.0 C157.7,247.8 159.5,258.3 160.0,262.0" fill="none" stroke="#fff" stroke-width="2.0" stroke-linecap="round" opacity="1.0" filter="url(#b1)"/>
<path d="M232.0,192.0 C232.0,195.8 232.2,207.3 232.0,215.0 C231.8,222.7 231.0,230.5 231.0,238.0 C231.0,245.5 231.8,256.3 232.0,260.0" fill="none" stroke="#fff" stroke-width="12" stroke-linecap="round" opacity="0.3" filter="url(#b4)"/>
<path d="M232.0,192.0 C232.0,195.8 232.2,207.3 232.0,215.0 C231.8,222.7 231.0,230.5 231.0,238.0 C231.0,245.5 231.8,256.3 232.0,260.0" fill="none" stroke="#fff" stroke-width="3.6" stroke-linecap="round" opacity="0.9" filter="url(#b2)"/>
<path d="M232.0,192.0 C232.0,195.8 232.2,207.3 232.0,215.0 C231.8,222.7 231.0,230.5 231.0,238.0 C231.0,245.5 231.8,256.3 232.0,260.0" fill="none" stroke="#fff" stroke-width="2.0" stroke-linecap="round" opacity="1.0" filter="url(#b1)"/>
<path d="M212.0,178.0 C213.7,179.7 219.0,184.7 222.0,188.0 C225.0,191.3 228.7,196.3 230.0,198.0" fill="none" stroke="#fff" stroke-width="4.5" stroke-linecap="round" stroke-linejoin="round" opacity="1" filter="url(#b1)"/>
<path d="M219.0,162.0 L222.0,172.0" fill="none" stroke="#fff" stroke-width="3.5" stroke-linecap="round" stroke-linejoin="round" opacity="0.9" filter="url(#b1)"/>
<path d="M236.0,172.0 L233.0,192.0" fill="none" stroke="#fff" stroke-width="3.5" stroke-linecap="round" stroke-linejoin="round" opacity="0.9"/>
<ellipse cx="160" cy="272" rx="20" ry="16" fill="#fff" opacity="0.15" filter="url(#b8)"/>
<ellipse cx="228" cy="272" rx="20" ry="16" fill="#fff" opacity="0.15" filter="url(#b8)"/>
<ellipse cx="195" cy="230" rx="45" ry="55" fill="#fff" opacity="0.06" filter="url(#b15)"/>
<path d="M150.0,268.0 C147.5,270.8 140.0,279.7 135.0,285.0 C130.0,290.3 124.5,292.5 120.0,300.0 C115.5,307.5 111.3,320.0 108.0,330.0 C104.7,340.0 102.2,349.2 100.0,360.0 C97.8,370.8 94.2,383.3 95.0,395.0 C95.8,406.7 102.5,419.2 105.0,430.0 C107.5,440.8 109.2,455.0 110.0,460.0" fill="none" stroke="#fff" stroke-width="1.2" stroke-linecap="round" stroke-linejoin="round" opacity="0.5"/>
<path d="M240.0,268.0 C243.3,270.8 254.2,279.7 260.0,285.0 C265.8,290.3 270.8,292.5 275.0,300.0 C279.2,307.5 282.8,319.2 285.0,330.0 C287.2,340.8 288.0,353.3 288.0,365.0 C288.0,376.7 286.3,387.5 285.0,400.0 C283.7,412.5 280.8,433.3 280.0,440.0" fill="none" stroke="#fff" stroke-width="1.2" stroke-linecap="round" stroke-linejoin="round" opacity="0.5"/>
<path d="M50,382 C54,376 62,380 64,388 C66,396 60,400 55,396 Z" fill="#fff" opacity="1" filter="url(#b1)"/>
<path d="M62.0,395.0 L75.0,410.0" fill="none" stroke="#fff" stroke-width="2" stroke-linecap="round" stroke-linejoin="round" opacity="0.5" filter="url(#b1)"/>
<path d="M261,279h0" stroke="#fff" stroke-width="1" stroke-linecap="round" opacity="0.5"/>
<path d="M289,381h0" stroke="#fff" stroke-width="1.5" stroke-linecap="round" opacity="0.3"/>
<path d="M165,249h0M177,276h0M141,286h0M259,286h0" stroke="#fff" stroke-width="1.5" stroke-linecap="round" opacity="0.4"/>
<path d="M150,210h0M231,208h0M227,188h0M145,276h0M145,273h0M233,260h0M263,286h0M237,256h0M90,419h0M90,428h0M98,341h0M89,326h0M86,407h0M292,415h0M295,420h0" stroke="#fff" stroke-width="1.5" stroke-linecap="round" opacity="0.5"/>
<path d="M164,257h0M222,228h0M173,291h0M173,291h0M171,300h0M233,268h0M129,292h0M221,262h0M233,274h0M219,267h0M109,386h0M121,432h0M104,401h0M301,355h0M253,364h0M257,372h0M286,354h0" stroke="#fff" stroke-width="1.5" stroke-linecap="round" opacity="0.6"/>
<path d="M155,271h0M156,264h0M231,270h0M151,264h0M151,264h0M253,306h0M226,274h0M224,271h0M85,346h0M143,416h0M151,413h0M98,404h0M113,401h0M301,374h0M284,391h0M301,383h0M289,390h0M286,363h0" stroke="#fff" stroke-width="1.5" stroke-linecap="round" opacity="0.7"/>
<path d="M145,183h0M223,232h0M227,209h0M231,197h0M148,257h0M230,286h0M171,281h0M161,276h0M237,276h0M237,274h0M124,416h0M92,427h0" stroke="#fff" stroke-width="1.5" stroke-linecap="round" opacity="0.8"/>
<path d="M160,281h0M165,273h0" stroke="#fff" stroke-width="1.5" stroke-linecap="round" opacity="0.9"/>
<path d="M178,266h0M165,259h0M162,257h0M140,278h0M161,285h0M259,286h0M244,297h0M117,419h0" stroke="#fff" stroke-width="2" stroke-linecap="round" opacity="0.4"/>
<path d="M156,207h0M222,236h0M171,283h0M246,290h0M96,408h0M98,378h0M95,365h0M118,373h0M95,391h0M119,433h0M108,426h0M124,433h0M114,398h0M288,424h0M253,405h0M284,427h0" stroke="#fff" stroke-width="2" stroke-linecap="round" opacity="0.5"/>
<path d="M156,242h0M171,286h0M162,290h0M249,284h0M234,271h0M148,262h0M148,287h0M225,248h0M240,283h0M245,289h0M119,420h0M107,412h0M105,393h0M271,363h0M264,368h0M300,364h0M275,438h0M262,379h0M252,399h0M264,402h0M283,351h0" stroke="#fff" stroke-width="2" stroke-linecap="round" opacity="0.6"/>
<path d="M170,180h0M156,180h0M170,282h0M168,275h0M158,265h0M157,271h0M218,262h0M226,267h0M227,268h0M161,283h0M142,278h0M61,341h0M139,415h0M103,374h0M100,396h0M117,393h0M292,373h0M284,391h0M275,366h0M275,366h0M292,424h0M290,386h0M289,390h0" stroke="#fff" stroke-width="2" stroke-linecap="round" opacity="0.7"/>
<path d="M235,260h0M162,260h0M146,254h0M132,258h0M242,277h0M242,278h0M244,278h0M242,279h0M151,284h0M234,273h0M119,424h0M92,427h0M95,424h0M78,363h0" stroke="#fff" stroke-width="2" stroke-linecap="round" opacity="0.8"/>
<path d="M159,225h0M145,227h0M230,254h0M229,247h0M246,258h0M246,271h0" stroke="#fff" stroke-width="2" stroke-linecap="round" opacity="0.9"/>
<path d="M285,384h0M291,377h0" stroke="#fff" stroke-width="2.5" stroke-linecap="round" opacity="0.3"/>
<path d="M169,191h0M244,258h0M158,287h0M142,302h0M117,419h0M116,410h0M291,406h0M287,403h0" stroke="#fff" stroke-width="2.5" stroke-linecap="round" opacity="0.4"/>
<path d="M165,271h0M227,268h0M234,268h0M240,269h0M232,273h0M230,266h0M237,252h0M95,365h0M98,341h0M118,369h0M116,377h0M91,399h0M108,392h0M290,420h0M257,403h0M270,391h0M284,427h0" stroke="#fff" stroke-width="2.5" stroke-linecap="round" opacity="0.5"/>
<path d="M232,254h0M171,286h0M248,276h0M163,263h0M110,381h0M121,432h0M99,401h0M300,359h0M278,430h0M268,416h0M286,401h0M291,361h0" stroke="#fff" stroke-width="2.5" stroke-linecap="round" opacity="0.6"/>
<path d="M158,165h0M162,205h0M156,192h0M230,237h0M229,217h0M156,274h0M164,280h0M155,258h0M218,278h0M231,270h0M246,269h0M246,269h0M230,277h0M149,289h0M245,293h0M107,377h0M99,413h0M116,397h0M309,379h0M283,396h0M293,378h0M288,355h0M292,437h0M292,424h0M292,357h0M290,361h0" stroke="#fff" stroke-width="2.5" stroke-linecap="round" opacity="0.7"/>
<path d="M227,258h0M235,232h0M164,263h0M173,261h0M165,255h0M132,258h0M245,279h0M247,282h0M230,286h0M244,282h0M154,285h0M238,270h0M124,416h0M95,410h0M103,402h0M94,403h0M90,403h0M99,358h0" stroke="#fff" stroke-width="2.5" stroke-linecap="round" opacity="0.8"/>
<path d="M154,191h0M157,205h0M158,247h0M162,284h0M167,271h0M240,274h0" stroke="#fff" stroke-width="2.5" stroke-linecap="round" opacity="0.9"/>
<path d="M161,175h0" stroke="#fff" stroke-width="2.5" stroke-linecap="round" opacity="1"/>
<path d="M142,274h0M251,301h0M287,403h0" stroke="#fff" stroke-width="3" stroke-linecap="round" opacity="0.4"/>
<path d="M232,257h0M239,275h0M237,267h0M114,398h0" stroke="#fff" stroke-width="3" stroke-linecap="round" opacity="0.5"/>
<path d="M252,286h0M237,263h0M144,285h0M139,285h0M107,373h0M115,415h0M106,428h0M267,365h0" stroke="#fff" stroke-width="3" stroke-linecap="round" opacity="0.6"/>
<path d="M157,229h0M240,252h0M155,284h0M215,253h0M161,279h0M139,295h0M150,276h0M87,350h0M88,353h0M296,381h0" stroke="#fff" stroke-width="3" stroke-linecap="round" opacity="0.7"/>
<path d="M156,224h0M232,246h0M232,227h0M244,272h0M95,410h0M98,402h0M92,363h0" stroke="#fff" stroke-width="3" stroke-linecap="round" opacity="0.8"/>
<path d="M228,260h0M232,253h0" stroke="#fff" stroke-width="3" stroke-linecap="round" opacity="0.9"/>
<path d="M156,237h0M154,237h0M160,184h0M229,202h0" stroke="#fff" stroke-width="3" stroke-linecap="round" opacity="1"/>
<path d="M229,211h0" stroke="#fff" stroke-width="3.5" stroke-linecap="round" opacity="0.7"/>
<path d="M157,247h0M229,200h0" stroke="#fff" stroke-width="3.5" stroke-linecap="round" opacity="0.8"/>
<path d="M156,212h0M154,225h0" stroke="#fff" stroke-width="3.5" stroke-linecap="round" opacity="0.9"/>
<path d="M154,215h0" stroke="#fff" stroke-width="3.5" stroke-linecap="round" opacity="1"/>
<path d="M158,201h0M161,191h0M151,218h0M229,257h0M228,250h0M238,259h0M231,233h0" stroke="#fff" stroke-width="4" stroke-linecap="round" opacity="0.8"/>
<path d="M154,169h0M226,194h0M230,254h0" stroke="#fff" stroke-width="4" stroke-linecap="round" opacity="0.9"/>
<path d="M153,170h0M157,258h0M236,200h0" stroke="#fff" stroke-width="4" stroke-linecap="round" opacity="1"/>
<path d="M193,340h0M182,300h0" stroke="#fff" stroke-width="5" stroke-linecap="round" opacity="0.6"/>
<path d="M160,181h0M229,251h0" stroke="#fff" stroke-width="5" stroke-linecap="round" opacity="0.7"/>
<path d="M159,244h0M158,201h0M156,181h0M230,196h0M231,240h0M213,229h0M214,253h0M220,245h0" stroke="#fff" stroke-width="5" stroke-linecap="round" opacity="0.8"/>
<path d="M229,216h0M228,229h0" stroke="#fff" stroke-width="5" stroke-linecap="round" opacity="0.9"/>
<path d="M158,191h0" stroke="#fff" stroke-width="5.5" stroke-linecap="round" opacity="0.7"/>
<path d="M155,174h0M231,244h0" stroke="#fff" stroke-width="5.5" stroke-linecap="round" opacity="0.8"/>
<path d="M151,246h0M229,236h0M235,229h0" stroke="#fff" stroke-width="5.5" stroke-linecap="round" opacity="0.9"/>
<path d="M160,198h0" stroke="#fff" stroke-width="5.5" stroke-linecap="round" opacity="1"/>
<path d="M158,198h0" stroke="#fff" stroke-width="6" stroke-linecap="round" opacity="0.7"/>
<path d="M233,196h0" stroke="#fff" stroke-width="6" stroke-linecap="round" opacity="0.8"/>
<path d="M159,257h0M159,192h0M157,191h0M234,204h0" stroke="#fff" stroke-width="6" stroke-linecap="round" opacity="0.9"/>
<path d="M154,175h0" stroke="#fff" stroke-width="6" stroke-linecap="round" opacity="1"/>
<path d="M163,167h0M166,193h0M168,233h0M170,255h0" stroke="#fff" stroke-width="8" stroke-linecap="round" opacity="1"/>
<path d="M294,374L291,377L289,381L285,384" fill="none" stroke="#fff" stroke-width="0.5" stroke-linejoin="round" opacity="0.2"/>
<path d="M235,256L237,259L241,259L244,258L246,256M177,276L178,273L178,270L178,266L176,263" fill="none" stroke="#fff" stroke-width="0.5" stroke-linejoin="round" opacity="0.3"/>
<path d="M230,252L227,252L224,249L223,246L221,243L223,240L222,236L223,233M233,260L232,257L231,253L230,250L230,247L228,243M245,289L243,286L240,283L238,280M236,264L237,267L239,271L239,275L240,279M106,388L108,392L111,395L114,398L118,399L123,399L127,399L132,399L136,397M108,389L105,393L104,397L104,401L106,406L105,410L107,415L105,419L105,423L106,428M286,401L282,402L278,403L273,403L269,403L264,402L260,400L256,400L252,399M291,361L289,357L286,354L283,351L278,350" fill="none" stroke="#fff" stroke-width="0.5" stroke-linejoin="round" opacity="0.4"/>
<path d="M163,253L164,257L164,260L164,264L165,267M234,212L233,216L231,218L229,221L226,223L223,225L222,228M168,281L165,280L162,278L159,276L156,274L155,271L152,269L148,268M163,263L159,263L156,262L152,262L148,262M158,268L154,267L151,264L149,261M153,273L150,276L146,277L142,278M236,278L233,274L229,273L226,271L223,268L219,267M99,401L101,406L104,408L107,412L110,415L115,415L119,416L123,419L127,420M292,419L292,424L292,428L291,432L292,437M297,356L292,357L290,361L286,363L282,365" fill="none" stroke="#fff" stroke-width="0.5" stroke-linejoin="round" opacity="0.5"/>
<path d="M157,174L156,177L156,180L156,184M229,235L226,232L223,232L221,229M235,232L232,231L229,230M229,217L231,220L232,223L232,227L230,230M162,257L162,260L164,263L167,265M158,286L154,285L151,284L147,281L145,278L142,276L140,273L139,269L138,265M160,272L161,275L161,279L161,283M245,293L247,296L249,299L251,303L253,306M109,381L107,377L103,374L100,371L97,368L95,364L92,360L91,356L88,353L87,348M99,358L96,361L92,363L87,363L83,363L78,363" fill="none" stroke="#fff" stroke-width="0.5" stroke-linejoin="round" opacity="0.6"/>
<path d="M158,247L158,251L156,254L156,257L158,260L162,262L165,261L168,260" fill="none" stroke="#fff" stroke-width="0.5" stroke-linejoin="round" opacity="0.7"/>
<path d="M155,246L158,249L161,249L165,249L168,251M156,200L158,198L160,195L163,193L166,193L169,191M152,258L155,257L159,257L162,257L165,259M152,269L149,271L145,272L142,274L140,278L140,282L142,286L144,289M143,278L141,282L141,286L143,290L142,294L142,298L142,302L141,305L143,309M234,275L235,279L238,282L241,283L245,282L249,281L253,281L256,284L259,286M244,297L247,300L251,301L254,304L257,305L261,307M117,406L116,410L117,415L117,419M284,400L287,403L291,406L294,409" fill="none" stroke="#fff" stroke-width="1" stroke-linejoin="round" opacity="0.3"/>
<path d="M156,207L156,211L157,214L160,216M157,209L153,209L150,210L146,210L143,211M232,205L231,208L232,212M230,198L230,195L228,192L227,188M170,281L171,285L172,288L173,291L173,295M147,263L147,266L145,269L145,273L145,276L145,280M165,271L167,274L169,277L169,281L171,283L173,286L174,290L175,293L176,296M261,279L263,282L263,286L261,289L259,291M234,268L230,267L227,268M240,269L243,272L244,275L247,277L249,280L249,283L249,287L246,290M142,282L144,285L148,287M230,266L232,269L232,273L232,277L230,280L229,284L228,288M231,266L234,263L236,260L237,256L237,252L235,248L233,245M90,428L89,424L90,419L90,415L93,411L96,408L99,404M95,365L96,369L98,373L98,378L100,382L103,385M100,354L100,350L100,345L98,341L96,337L92,334L90,330L89,326M97,374L96,378L96,383L96,387L95,391L92,395L91,399L89,403L86,407M105,418L106,422L108,426L111,429L115,431L119,433L124,433L128,433M292,415L290,420L288,424L285,427L283,431M274,383L272,387L270,391L266,394L263,397L261,400L257,403L253,405L249,407L246,411M282,431L284,427L287,423L291,422L295,420L298,417L302,415L306,412L310,411L315,410" fill="none" stroke="#fff" stroke-width="1" stroke-linejoin="round" opacity="0.4"/>
<path d="M155,238L156,242L154,245M157,229L154,231L151,232M157,175L159,178L163,179L166,180L170,180M158,200L159,203L162,205L164,209M157,185L156,189L156,192M234,251L232,254L230,256L227,258M237,252L240,252L243,251M157,263L159,265L163,266L165,269L166,272L168,275L168,279L170,282L173,284M172,272L169,275L166,277L164,280L161,281L158,283L155,284L151,284L148,285M165,285L168,286L171,286L175,285L178,284L182,283L184,281M158,284L160,287L162,290L164,292L166,295L169,297L171,300L173,303L175,305M157,271L157,268L156,264M220,265L218,262L219,259L217,256L215,253M227,260L229,263L230,266L231,270L231,273L233,276M249,284L252,286L256,286L259,285M236,274L234,271L233,268M234,262L237,263L240,265L241,268L244,270L247,272L248,276L248,279L249,282M237,280L234,278L230,277L228,274L227,271L227,268L228,265L231,263M139,285L136,288L133,291L129,292M224,270L223,266L221,262L220,259L221,255L224,252L225,248L225,244M88,359L88,354L87,350L85,346L83,342L79,340L75,339L70,340L66,340L61,341M107,373L108,377L110,381L109,386L107,390L106,394M116,411L117,415L119,420L121,423L121,428L121,432L122,437L121,441M99,413L98,409L98,404L99,400L100,396L99,391L98,387L99,382M276,379L279,376L283,374L287,374L292,373L296,373L301,374L305,377L309,379M271,363L267,365L264,368L262,372L260,377L258,380M284,391L283,396L283,400L281,404M291,370L291,374L293,378L296,381L301,383L304,386M305,347L303,351L301,355L300,359L300,364L299,368M275,366L278,364L282,362L285,358L288,355M290,386L289,390L286,393L285,398M268,416L270,420L274,422L277,425L278,430L276,434L275,438L276,443L275,447L275,452M274,378L271,380L266,380L262,379L258,376L257,372L255,368L253,364L252,360L249,356" fill="none" stroke="#fff" stroke-width="1" stroke-linejoin="round" opacity="0.5"/>
<path d="M157,176L154,178L150,178L147,180L145,183M226,223L229,226L232,227M237,195L234,197L231,197M148,257L146,254L145,251L144,248M161,255L165,255L167,258L170,260L173,261L177,260M158,265L157,261L155,258L153,256M141,247L140,251L138,254L135,255L132,258L130,260L129,264L127,267M239,275L242,277L245,279L248,280L252,281M226,267L225,271L223,273L221,276L218,278M247,282L244,281L242,278L239,276M240,266L242,269L244,272L245,275L244,278M241,276L242,279L244,282L245,285L246,288L245,292M156,284L153,286L149,289L146,290L143,293L139,295L136,297M144,269L146,273L149,275L153,277L157,277L161,276L165,277L167,280L171,281M234,273L237,276L241,278L245,279L249,280M238,270L237,274L236,278M246,285L244,281L241,279L238,277L234,276L230,275L226,274L224,271L222,267M122,416L126,417L130,418L135,416L139,415L143,416L148,416L151,413M124,416L122,420L119,424L117,428L114,431L112,435L108,437L105,441M95,424L92,427L90,432L87,434L83,435L78,435M95,410L96,406L98,402L102,400M113,388L112,392L109,396L107,400L103,402L99,403L94,403L90,403M117,393L116,397L113,401L112,405" fill="none" stroke="#fff" stroke-width="1" stroke-linejoin="round" opacity="0.6"/>
<path d="M161,238L158,236L155,236L151,236L149,234L147,230L145,227M230,247L233,246L237,248L240,250L241,253L244,255L246,258L248,260M160,281L162,284L161,287M158,274L161,274L165,273L167,271M240,274L243,272L246,271L250,270L253,269" fill="none" stroke="#fff" stroke-width="1" stroke-linejoin="round" opacity="0.7"/>
<path d="M164,281L161,285L158,287" fill="none" stroke="#fff" stroke-width="1.5" stroke-linejoin="round" opacity="0.3"/>
<path d="M118,369L118,373L116,377L115,382" fill="none" stroke="#fff" stroke-width="1.5" stroke-linejoin="round" opacity="0.4"/>
<path d="M224,259L227,261L231,262L234,263L238,263L241,264L243,267L246,269L248,271" fill="none" stroke="#fff" stroke-width="1.5" stroke-linejoin="round" opacity="0.5"/>
<path d="M226,280L229,283L230,286L229,289" fill="none" stroke="#fff" stroke-width="1.5" stroke-linejoin="round" opacity="0.6"/>
<path d="M227,209L230,207L232,205L235,203" fill="none" stroke="#fff" stroke-width="1.5" stroke-linejoin="round" opacity="0.7"/>
<rect x="0" y="0" width="1.5" height="490.7" filter="url(#grain)" opacity="0.09"/>
</g>
<clipPath id="clip3"><rect x="0" y="0" width="393.3" height="490.7"/></clipPath>
<g transform="translate(1430.3,1552.3)" clip-path="url(#clip3)">
<rect x="0" y="0" width="393.3" height="490.7" fill="#0a0a0a"/>
<path d="M0,0 L394,0 L394,491 L0,491 Z" fill="#fff" opacity="0.05" filter="url(#tE)"/>
<path d="M105,0 L320,0 L318,40 L300,70 L280,45 L230,38 L180,38 L140,45 L125,80 L112,100 L100,50 Z" fill="#fff" opacity="0.95" filter="url(#b2)"/>
<path d="M95,0 L330,0 L330,110 L290,90 L300,50 L130,45 L115,110 L95,90 Z" fill="#fff" opacity="1.0" filter="url(#tW)"/>
<path d="M0,0 L110,0 L105,80 L95,130 L70,170 L30,190 L0,200 Z" fill="#fff" opacity="0.5" filter="url(#tW)"/>
<path d="M0,0 L110,0 L105,80 L95,130 L70,170 L30,190 L0,200 Z" fill="#fff" opacity="0.25" filter="url(#tA)"/>
<path d="M310,0 L394,0 L394,230 L370,200 L340,160 L320,120 Z" fill="#fff" opacity="0.55" filter="url(#tW)"/>
<path d="M310,0 L394,0 L394,230 L370,200 L340,160 L320,120 Z" fill="#fff" opacity="0.25" filter="url(#tA)"/>
<path d="M252,0 L288,0 C290,15 282,28 268,28 C258,26 254,14 252,0 Z" fill="#000" opacity="0.85" filter="url(#b2)"/>
<path d="M265,38 C272,36 276,44 272,50 C268,54 262,48 265,38 Z" fill="#000" opacity="0.8"/>
<path d="M130,95 C135,55 180,42 215,42 C255,42 285,55 292,90 C296,120 285,140 260,140 L170,140 C140,140 128,120 130,95 Z" fill="#0c0c0c" opacity="0.95" filter="url(#b4)"/>
<path d="M20,200 C60,120 140,105 200,140 C260,105 340,130 380,200 C394,260 394,330 394,380 L394,491 L0,491 L0,380 C10,300 5,240 20,200 Z" fill="#0a0a0a" opacity="0.9" filter="url(#b8)"/>
<path d="M110.0,125.0 C105.0,129.2 90.0,140.8 80.0,150.0 C70.0,159.2 59.2,169.2 50.0,180.0 C40.8,190.8 32.5,202.5 25.0,215.0 C17.5,227.5 8.3,248.3 5.0,255.0" fill="none" stroke="#fff" stroke-width="4" stroke-linecap="round" stroke-linejoin="round" opacity="0.8" filter="url(#b1)"/>
<path d="M330.0,180.0 C334.2,183.3 347.5,194.2 355.0,200.0 C362.5,205.8 368.5,208.3 375.0,215.0 C381.5,221.7 390.8,235.8 394.0,240.0" fill="none" stroke="#fff" stroke-width="3" stroke-linecap="round" stroke-linejoin="round" opacity="0.7" filter="url(#b1)"/>
<path d="M40.0,345.0 C42.5,348.8 49.2,361.3 55.0,368.0 C60.8,374.7 71.7,382.2 75.0,385.0" fill="none" stroke="#fff" stroke-width="3" stroke-linecap="round" stroke-linejoin="round" opacity="0.45" filter="url(#b1)"/>
<path d="M325.0,395.0 C328.3,392.5 338.8,385.5 345.0,380.0 C351.2,374.5 359.2,365.0 362.0,362.0" fill="none" stroke="#fff" stroke-width="3" stroke-linecap="round" stroke-linejoin="round" opacity="0.4" filter="url(#b1)"/>
<path d="M167.0,150.0 C167.2,154.2 168.0,166.7 168.0,175.0 C168.0,183.3 167.3,191.7 167.0,200.0 C166.7,208.3 166.2,220.8 166.0,225.0" fill="none" stroke="#fff" stroke-width="9" stroke-linecap="round" opacity="0.25" filter="url(#b4)"/>
<path d="M167.0,150.0 C167.2,154.2 168.0,166.7 168.0,175.0 C168.0,183.3 167.3,191.7 167.0,200.0 C166.7,208.3 166.2,220.8 166.0,225.0" fill="none" stroke="#fff" stroke-width="2.7" stroke-linecap="round" opacity="0.9" filter="url(#b2)"/>
<path d="M167.0,150.0 C167.2,154.2 168.0,166.7 168.0,175.0 C168.0,183.3 167.3,191.7 167.0,200.0 C166.7,208.3 166.2,220.8 166.0,225.0" fill="none" stroke="#fff" stroke-width="1.5" stroke-linecap="round" opacity="1.0" filter="url(#b1)"/>
<path d="M229.0,140.0 C229.5,144.2 231.2,156.7 232.0,165.0 C232.8,173.3 233.5,181.7 234.0,190.0 C234.5,198.3 234.7,207.5 235.0,215.0 C235.3,222.5 235.8,231.7 236.0,235.0" fill="none" stroke="#fff" stroke-width="10.5" stroke-linecap="round" opacity="0.3" filter="url(#b4)"/>
<path d="M229.0,140.0 C229.5,144.2 231.2,156.7 232.0,165.0 C232.8,173.3 233.5,181.7 234.0,190.0 C234.5,198.3 234.7,207.5 235.0,215.0 C235.3,222.5 235.8,231.7 236.0,235.0" fill="none" stroke="#fff" stroke-width="3.15" stroke-linecap="round" opacity="0.9" filter="url(#b2)"/>
<path d="M229.0,140.0 C229.5,144.2 231.2,156.7 232.0,165.0 C232.8,173.3 233.5,181.7 234.0,190.0 C234.5,198.3 234.7,207.5 235.0,215.0 C235.3,222.5 235.8,231.7 236.0,235.0" fill="none" stroke="#fff" stroke-width="1.75" stroke-linecap="round" opacity="1.0" filter="url(#b1)"/>
<path d="M222.0,158.0 L232.0,165.0" fill="none" stroke="#fff" stroke-width="3" stroke-linecap="round" stroke-linejoin="round" opacity="0.9"/>
<path d="M165.0,215.0 C162.5,217.5 155.0,223.3 150.0,230.0 C145.0,236.7 139.7,245.8 135.0,255.0 C130.3,264.2 124.8,274.2 122.0,285.0 C119.2,295.8 117.5,309.2 118.0,320.0 C118.5,330.8 122.7,340.0 125.0,350.0 C127.3,360.0 129.5,370.0 132.0,380.0 C134.5,390.0 137.3,398.3 140.0,410.0 C142.7,421.7 146.7,443.3 148.0,450.0" fill="none" stroke="#fff" stroke-width="1.3" stroke-linecap="round" stroke-linejoin="round" opacity="0.6"/>
<path d="M240.0,230.0 C242.5,233.3 250.8,243.3 255.0,250.0 C259.2,256.7 262.5,261.7 265.0,270.0 C267.5,278.3 269.5,290.0 270.0,300.0 C270.5,310.0 269.3,320.0 268.0,330.0 C266.7,340.0 263.7,350.0 262.0,360.0 C260.3,370.0 259.2,378.3 258.0,390.0 C256.8,401.7 255.5,423.3 255.0,430.0" fill="none" stroke="#fff" stroke-width="1.3" stroke-linecap="round" stroke-linejoin="round" opacity="0.6"/>
<path d="M151,428h0M143,425h0M259,244h0" stroke="#fff" stroke-width="1" stroke-linecap="round" opacity="0.5"/>
<path d="M135,355h0M285,389h0" stroke="#fff" stroke-width="1" stroke-linecap="round" opacity="0.7"/>
<path d="M267,255h0" stroke="#fff" stroke-width="1.5" stroke-linecap="round" opacity="0.3"/>
<path d="M167,192h0M113,424h0M109,416h0M270,315h0M242,334h0M248,439h0" stroke="#fff" stroke-width="1.5" stroke-linecap="round" opacity="0.4"/>
<path d="M244,212h0M141,453h0M153,398h0M145,388h0M109,311h0M94,332h0M137,403h0M134,334h0M261,391h0M247,380h0M283,289h0M282,446h0M259,436h0" stroke="#fff" stroke-width="1.5" stroke-linecap="round" opacity="0.5"/>
<path d="M168,182h0M117,384h0M100,396h0M108,345h0M115,316h0M115,316h0M118,347h0M278,366h0M237,412h0M255,429h0M255,429h0M272,369h0M248,427h0M281,459h0M134,259h0" stroke="#fff" stroke-width="1.5" stroke-linecap="round" opacity="0.6"/>
<path d="M163,217h0M117,414h0M133,341h0M114,336h0M145,353h0M144,349h0M122,360h0M126,362h0M124,337h0M120,345h0M98,334h0M277,386h0M280,378h0M285,389h0M254,422h0M270,454h0M259,342h0M276,406h0" stroke="#fff" stroke-width="1.5" stroke-linecap="round" opacity="0.7"/>
<path d="M107,353h0M107,353h0M134,404h0M132,399h0M125,362h0M137,431h0M143,438h0M139,423h0M135,406h0M102,395h0M165,440h0M142,434h0M140,430h0M270,319h0M278,371h0M272,360h0M250,365h0M271,408h0M253,438h0M288,362h0" stroke="#fff" stroke-width="1.5" stroke-linecap="round" opacity="0.8"/>
<path d="M240,191h0" stroke="#fff" stroke-width="1.5" stroke-linecap="round" opacity="0.9"/>
<path d="M78,417h0M93,425h0M88,425h0M239,331h0M239,331h0M260,406h0M253,431h0M156,247h0M120,260h0M266,258h0" stroke="#fff" stroke-width="2" stroke-linecap="round" opacity="0.4"/>
<path d="M144,456h0M145,422h0M155,431h0M105,313h0M125,411h0M128,408h0M133,400h0M280,297h0M128,228h0M154,237h0M251,258h0M264,265h0" stroke="#fff" stroke-width="2" stroke-linecap="round" opacity="0.5"/>
<path d="M227,142h0M99,343h0M110,305h0M117,314h0M118,347h0M258,406h0M262,404h0M271,356h0M276,372h0M276,372h0M242,435h0M268,456h0" stroke="#fff" stroke-width="2" stroke-linecap="round" opacity="0.6"/>
<path d="M241,153h0M117,414h0M120,329h0M120,345h0M98,334h0M277,386h0M276,343h0M258,422h0M255,426h0M263,447h0M244,359h0M272,389h0M274,397h0M263,389h0M309,416h0M291,418h0M271,345h0" stroke="#fff" stroke-width="2" stroke-linecap="round" opacity="0.7"/>
<path d="M167,174h0M165,177h0M230,219h0M124,366h0M143,438h0M102,399h0M160,441h0M157,437h0M151,420h0M165,440h0M264,326h0M233,355h0M270,417h0M255,434h0" stroke="#fff" stroke-width="2" stroke-linecap="round" opacity="0.8"/>
<path d="M171,163h0M231,198h0M222,156h0" stroke="#fff" stroke-width="2" stroke-linecap="round" opacity="0.9"/>
<path d="M169,164h0" stroke="#fff" stroke-width="2" stroke-linecap="round" opacity="1"/>
<path d="M140,278h0M244,252h0" stroke="#fff" stroke-width="2.5" stroke-linecap="round" opacity="0.3"/>
<path d="M179,221h0M112,420h0M282,328h0M282,328h0M259,411h0M248,439h0M134,247h0M145,244h0" stroke="#fff" stroke-width="2.5" stroke-linecap="round" opacity="0.4"/>
<path d="M174,233h0M190,156h0M134,334h0M131,347h0M261,391h0M283,284h0M246,246h0" stroke="#fff" stroke-width="2.5" stroke-linecap="round" opacity="0.5"/>
<path d="M169,172h0M235,207h0M213,165h0M250,215h0M117,314h0M117,314h0M278,366h0M280,362h0M255,429h0M242,364h0M262,358h0M272,458h0" stroke="#fff" stroke-width="2.5" stroke-linecap="round" opacity="0.6"/>
<path d="M235,199h0M236,189h0M121,412h0M124,345h0M122,349h0M140,341h0M130,364h0M135,355h0M131,358h0M112,332h0M105,319h0M277,385h0M243,396h0M254,417h0M243,328h0M263,447h0M259,342h0M241,356h0M248,367h0M236,376h0M255,405h0M256,414h0M284,424h0M264,340h0M283,351h0" stroke="#fff" stroke-width="2.5" stroke-linecap="round" opacity="0.7"/>
<path d="M166,198h0M168,185h0M173,180h0M238,217h0M225,155h0M137,412h0M118,351h0M163,444h0M159,436h0M150,443h0M145,410h0M145,410h0M138,415h0M138,415h0M101,390h0M163,432h0M138,409h0M272,311h0M290,366h0M290,371h0" stroke="#fff" stroke-width="2.5" stroke-linecap="round" opacity="0.8"/>
<path d="M165,222h0M165,144h0M171,165h0M234,184h0" stroke="#fff" stroke-width="2.5" stroke-linecap="round" opacity="0.9"/>
<path d="M173,210h0M165,202h0" stroke="#fff" stroke-width="2.5" stroke-linecap="round" opacity="1"/>
<path d="M271,267h0" stroke="#fff" stroke-width="3" stroke-linecap="round" opacity="0.3"/>
<path d="M259,411h0" stroke="#fff" stroke-width="3" stroke-linecap="round" opacity="0.4"/>
<path d="M146,392h0M137,403h0M140,407h0M260,445h0" stroke="#fff" stroke-width="3" stroke-linecap="round" opacity="0.5"/>
<path d="M233,144h0M239,151h0M112,391h0M95,341h0M121,351h0M239,443h0" stroke="#fff" stroke-width="3" stroke-linecap="round" opacity="0.6"/>
<path d="M169,161h0M118,333h0M107,344h0M107,344h0M272,326h0M275,339h0M249,407h0M243,328h0M252,319h0M256,359h0M225,395h0M225,391h0" stroke="#fff" stroke-width="3" stroke-linecap="round" opacity="0.7"/>
<path d="M167,194h0M177,179h0M231,156h0M231,173h0M104,362h0M278,371h0M251,369h0M271,413h0M255,434h0" stroke="#fff" stroke-width="3" stroke-linecap="round" opacity="0.8"/>
<path d="M230,148h0M233,180h0M237,177h0" stroke="#fff" stroke-width="3" stroke-linecap="round" opacity="0.9"/>
<path d="M166,167h0" stroke="#fff" stroke-width="3.5" stroke-linecap="round" opacity="0.8"/>
<path d="M166,221h0M168,183h0M238,220h0M232,158h0" stroke="#fff" stroke-width="3.5" stroke-linecap="round" opacity="0.9"/>
<path d="M230,156h0" stroke="#fff" stroke-width="3.5" stroke-linecap="round" opacity="1"/>
<path d="M164,214h0M163,165h0" stroke="#fff" stroke-width="4" stroke-linecap="round" opacity="0.7"/>
<path d="M236,181h0" stroke="#fff" stroke-width="4" stroke-linecap="round" opacity="0.8"/>
<path d="M172,166h0M227,144h0M238,221h0" stroke="#fff" stroke-width="4" stroke-linecap="round" opacity="0.9"/>
<path d="M167,201h0M169,198h0" stroke="#fff" stroke-width="4" stroke-linecap="round" opacity="1"/>
<path d="M168,170h0M232,217h0" stroke="#fff" stroke-width="4.5" stroke-linecap="round" opacity="0.7"/>
<path d="M162,187h0M171,153h0M235,205h0" stroke="#fff" stroke-width="4.5" stroke-linecap="round" opacity="0.8"/>
<path d="M163,189h0M169,179h0M233,178h0M231,146h0M230,197h0" stroke="#fff" stroke-width="4.5" stroke-linecap="round" opacity="0.9"/>
<path d="M234,176h0" stroke="#fff" stroke-width="4.5" stroke-linecap="round" opacity="1"/>
<path d="M173,164h0" stroke="#fff" stroke-width="5" stroke-linecap="round" opacity="0.7"/>
<path d="M230,206h0" stroke="#fff" stroke-width="5" stroke-linecap="round" opacity="0.8"/>
<path d="M233,211h0" stroke="#fff" stroke-width="5" stroke-linecap="round" opacity="0.9"/>
<path d="M234,232h0" stroke="#fff" stroke-width="5" stroke-linecap="round" opacity="1"/>
<path d="M230,181h0M229,178h0M233,176h0" stroke="#fff" stroke-width="5.5" stroke-linecap="round" opacity="0.8"/>
<path d="M235,221h0" stroke="#fff" stroke-width="5.5" stroke-linecap="round" opacity="0.9"/>
<path d="M231,181h0" stroke="#fff" stroke-width="5.5" stroke-linecap="round" opacity="1"/>
<path d="M170,272h0" stroke="#fff" stroke-width="6" stroke-linecap="round" opacity="0.6"/>
<path d="M145,138h0M173,140h0M180,148h0M188,155h0M193,160h0M176,152h0" stroke="#fff" stroke-width="6" stroke-linecap="round" opacity="1"/>
<path d="M110,420L106,423L102,423L97,424L93,425L88,425L84,423L80,421L78,417M266,313L270,315L272,319L276,321L280,324L282,328M156,233L154,238L155,243L156,247M145,244L142,248L140,253L139,258L138,263" fill="none" stroke="#fff" stroke-width="0.5" stroke-linejoin="round" opacity="0.3"/>
<path d="M237,219L238,216L241,214L244,212L247,210L248,207M119,301L118,305L118,310L117,314L115,318L115,323L113,327M129,414L133,416L136,419L139,423L143,425L147,427L151,428L155,431M144,379L145,384L145,388L146,392L149,396L153,398M134,334L133,338L131,342L131,347L131,351M131,245L134,249L134,254L134,259L136,264L139,268L142,271L145,276M246,246L241,247L236,248L231,250L227,251L223,255L221,260L218,263" fill="none" stroke="#fff" stroke-width="0.5" stroke-linejoin="round" opacity="0.4"/>
<path d="M236,189L232,189L229,189L225,191L223,194M235,146L233,144L232,140L231,137L228,135L225,133M114,336L118,333L120,329L120,324L120,320L119,315M262,404L258,406L254,408L250,410L246,410L241,411L237,412L233,414L230,417M283,369L281,373L280,378L279,382L277,386L277,391L280,395L281,399L283,403M255,429L256,434L257,438L258,442M256,359L257,355L256,351L258,346L259,342" fill="none" stroke="#fff" stroke-width="0.5" stroke-linejoin="round" opacity="0.5"/>
<path d="M168,174L165,177L162,178M112,346L109,349L107,353L106,358L104,362L102,366L100,370L98,374L98,378M123,408L121,412L117,414L113,415M133,395L132,399L134,404L135,408L137,412L140,415L145,416M133,379L129,377L125,374L124,370L124,366L125,362L124,357L121,354L118,351L116,347M133,429L137,431L142,432L146,431L150,433L155,434L159,436L162,440L163,444L163,448M250,373L251,369L250,365L249,361L245,358L242,355L237,354L233,355L229,355M287,349L287,353L287,358L288,362L290,366L290,371" fill="none" stroke="#fff" stroke-width="0.5" stroke-linejoin="round" opacity="0.6"/>
<path d="M249,251L244,252L239,250L235,246" fill="none" stroke="#fff" stroke-width="1" stroke-linejoin="round" opacity="0.2"/>
<path d="M168,185L168,189L167,192M166,218L170,217L173,215L176,215L178,218L179,221L180,224M109,416L112,420L113,424L114,429M261,352L259,348L255,346L253,342L249,340L245,338L242,334L239,331L238,326L237,322M260,402L260,406L259,411L261,415L262,419L262,424L262,428M253,431L251,436L248,439L245,442L244,446L245,451L248,454L252,457L254,461L257,464M152,246L150,251L146,254L144,258L144,263L142,268L142,273L140,278M135,242L134,247L132,252L129,256L126,260L124,264M120,260L116,262L112,265L111,270M266,258L270,260L275,260L280,259L285,261M264,251L267,255L270,259L273,263L278,265L280,269L282,274L286,277" fill="none" stroke="#fff" stroke-width="1" stroke-linejoin="round" opacity="0.3"/>
<path d="M166,221L169,224L170,227L172,230L174,233M168,169L170,172L170,175L168,178L168,182M170,159L173,158L177,158L180,159L184,158L186,156L190,156M230,176L227,175L224,172L222,169L219,169L215,168L213,165M233,149L236,151L239,151M235,208L237,211L241,211L244,211L248,212L250,215L250,218M112,347L108,345L104,344L99,343L95,341L91,341M145,422L147,427L146,431L145,436L143,440L142,444L140,448L141,453L144,456L148,458M111,307L109,311L105,313L102,316L99,320L98,324L96,328L94,332M137,403L140,407L140,412L138,416L136,420L135,424L132,428L129,431M116,339L116,343L118,347L121,351L125,352L129,351M134,392L133,396L133,400L131,404L128,408L125,411M270,376L272,372L275,369L278,366L280,362L280,357M271,356L267,358L262,358L259,361L255,364L251,365L246,364L242,364L237,365L233,364M243,372L244,376L247,380L250,384L253,387L256,390L261,391L265,393L268,396L271,400M250,423L248,427L245,431L242,435L242,439L239,443L237,447L234,450L232,454M279,315L279,310L279,306L280,302L280,297L281,293L283,289L283,284M259,436L259,440L260,445L263,448L267,451L271,453L275,452L279,449L282,446L284,442M162,230L157,232L152,233L147,233L143,231L138,230L133,229L128,228M154,237L158,235L161,231L164,227L169,225L174,225L178,227M251,258L254,262L257,266L261,269L264,273M262,255L262,260L264,265L265,270L264,275L266,280L269,283M250,245L254,243L259,244L264,246L267,249L272,251L275,255L278,259L279,264L278,269" fill="none" stroke="#fff" stroke-width="1" stroke-linejoin="round" opacity="0.4"/>
<path d="M168,165L168,169L169,172L172,174L174,177L177,179M171,158L169,161L167,164L164,165L160,164L157,163M235,199L238,201L241,202M227,142L227,145L226,149L228,152L230,154L232,157L234,160M233,197L235,200L235,204L235,207M227,145L229,148L231,151L234,152L238,154L241,153L244,155M119,380L117,384L115,388L112,391L108,393L104,395L100,396L95,398L91,398M109,300L110,305L110,309L112,313L115,316M122,360L126,362L130,364L135,363L139,365M124,337L122,341L120,345L117,348M135,355L131,358L127,360L125,364L122,367L118,370M113,327L112,332L111,336L109,340L107,344M268,375L271,378L274,381L277,385L280,388L285,389M272,326L273,330L274,335L275,339L276,343M243,396L244,400L247,404L249,407L253,410L256,414L256,418L258,422M253,413L254,417L254,422L255,426M272,369L276,372L280,375L282,379L286,381L290,382L293,386L297,387L302,388M252,319L250,322L246,325L243,328M241,356L244,359L246,364L248,367M264,444L264,449L265,453L268,456L272,458L277,459L281,459L286,459L290,461L294,461M238,372L236,376L234,380L231,384L227,387L225,391L225,395L226,399M256,414L255,410L255,405L256,401L257,397L260,393L263,389M284,428L284,424L287,420L291,418L296,417L300,415L304,416L309,416L313,418L316,421M258,334L260,337L264,340L269,341L271,345L275,347L279,348L283,351L286,354" fill="none" stroke="#fff" stroke-width="1" stroke-linejoin="round" opacity="0.5"/>
<path d="M166,205L167,208L167,212L165,214L163,217L160,219L156,219M168,189L168,185L166,182M171,176L174,178L177,179M236,214L238,217L237,221L236,224L236,228L235,231L234,234L233,238M229,171L230,168L229,165L228,161L227,158L225,155L226,151L227,148M137,432L139,436L143,438L147,440L150,443M145,410L144,415L141,418L139,423M140,419L138,415L136,410L135,406M140,336L140,341L143,344L144,349L145,353L146,358M98,377L100,382L100,386L101,390L102,395L102,399M160,441L157,437L156,433L154,429L152,425L151,420L149,417L145,414M105,319L105,323L103,328L101,332L98,334M161,428L163,432L165,436L165,440M139,404L138,409L138,413L136,417L137,422L137,426L140,430L142,434L145,437L149,439M269,307L272,311L272,315L270,319L267,323L264,326L263,331M272,360L272,364L275,368L278,371M262,438L262,443L263,447L266,451L270,454L273,456L278,458L282,457M272,389L274,393L274,397L276,401L276,406M262,394L263,398L265,402L269,404L271,408L271,413L270,417M255,429L255,434L253,438L251,442" fill="none" stroke="#fff" stroke-width="1" stroke-linejoin="round" opacity="0.6"/>
<path d="M228,148L226,150L224,153L222,156L219,157L216,159L213,161M236,200L237,197L239,195L240,191" fill="none" stroke="#fff" stroke-width="1" stroke-linejoin="round" opacity="0.7"/>
<path d="M266,259L268,263L271,267L276,269" fill="none" stroke="#fff" stroke-width="1.5" stroke-linejoin="round" opacity="0.2"/>
<path d="M137,339L133,341L129,343L124,345L122,349L120,352L117,356" fill="none" stroke="#fff" stroke-width="1.5" stroke-linejoin="round" opacity="0.5"/>
<path d="M163,179L166,181L170,180L173,180" fill="none" stroke="#fff" stroke-width="1.5" stroke-linejoin="round" opacity="0.6"/>
<rect x="0" y="0" width="1.5" height="490.7" filter="url(#grain)" opacity="0.05"/>
</g>
<clipPath id="clip4"><rect x="0" y="0" width="394.9" height="492.6"/></clipPath>
<g transform="translate(189.5,2065.4)" clip-path="url(#clip4)">
<rect x="0" y="0" width="394.9" height="492.6" fill="#060606"/>
<path d="M0,0 L90,0 L80,150 L60,260 L0,280 Z" fill="#fff" opacity="0.09" filter="url(#tA)"/>
<path d="M290,0 L396,0 L396,200 L340,150 Z" fill="#fff" opacity="0.1" filter="url(#tA)"/>
<path d="M245.0,5.0 C246.7,9.2 251.7,22.5 255.0,30.0 C258.3,37.5 263.3,46.7 265.0,50.0" fill="none" stroke="#fff" stroke-width="1.5" stroke-linecap="round" stroke-linejoin="round" opacity="0.25" filter="url(#b1)"/>
<ellipse cx="200" cy="230" rx="70" ry="90" fill="#fff" opacity="0.06" filter="url(#b25)"/>
<path d="M168.0,133.0 C168.2,137.5 169.0,150.5 169.0,160.0 C169.0,169.5 168.3,180.8 168.0,190.0 C167.7,199.2 167.0,206.7 167.0,215.0 C167.0,223.3 167.5,232.2 168.0,240.0 C168.5,247.8 169.2,256.7 170.0,262.0 C170.8,267.3 172.5,270.3 173.0,272.0" fill="none" stroke="#fff" stroke-width="13.5" stroke-linecap="round" opacity="0.4" filter="url(#b4)"/>
<path d="M168.0,133.0 C168.2,137.5 169.0,150.5 169.0,160.0 C169.0,169.5 168.3,180.8 168.0,190.0 C167.7,199.2 167.0,206.7 167.0,215.0 C167.0,223.3 167.5,232.2 168.0,240.0 C168.5,247.8 169.2,256.7 170.0,262.0 C170.8,267.3 172.5,270.3 173.0,272.0" fill="none" stroke="#fff" stroke-width="4.05" stroke-linecap="round" opacity="0.9" filter="url(#b2)"/>
<path d="M168.0,133.0 C168.2,137.5 169.0,150.5 169.0,160.0 C169.0,169.5 168.3,180.8 168.0,190.0 C167.7,199.2 167.0,206.7 167.0,215.0 C167.0,223.3 167.5,232.2 168.0,240.0 C168.5,247.8 169.2,256.7 170.0,262.0 C170.8,267.3 172.5,270.3 173.0,272.0" fill="none" stroke="#fff" stroke-width="2.25" stroke-linecap="round" opacity="1.0" filter="url(#b1)"/>
<path d="M240.0,135.0 C240.0,140.8 240.2,159.2 240.0,170.0 C239.8,180.8 239.0,190.0 239.0,200.0 C239.0,210.0 240.2,220.8 240.0,230.0 C239.8,239.2 238.7,247.5 238.0,255.0 C237.3,262.5 236.3,271.7 236.0,275.0" fill="none" stroke="#fff" stroke-width="16.5" stroke-linecap="round" opacity="0.45" filter="url(#b4)"/>
<path d="M240.0,135.0 C240.0,140.8 240.2,159.2 240.0,170.0 C239.8,180.8 239.0,190.0 239.0,200.0 C239.0,210.0 240.2,220.8 240.0,230.0 C239.8,239.2 238.7,247.5 238.0,255.0 C237.3,262.5 236.3,271.7 236.0,275.0" fill="none" stroke="#fff" stroke-width="4.95" stroke-linecap="round" opacity="0.9" filter="url(#b2)"/>
<path d="M240.0,135.0 C240.0,140.8 240.2,159.2 240.0,170.0 C239.8,180.8 239.0,190.0 239.0,200.0 C239.0,210.0 240.2,220.8 240.0,230.0 C239.8,239.2 238.7,247.5 238.0,255.0 C237.3,262.5 236.3,271.7 236.0,275.0" fill="none" stroke="#fff" stroke-width="2.75" stroke-linecap="round" opacity="1.0" filter="url(#b1)"/>
<path d="M208.0,176.0 C210.3,176.3 217.3,177.0 222.0,178.0 C226.7,179.0 233.7,181.3 236.0,182.0" fill="none" stroke="#fff" stroke-width="5" stroke-linecap="round" stroke-linejoin="round" opacity="1" filter="url(#b1)"/>
<path d="M246.0,170.0 C248.0,168.0 254.3,161.3 258.0,158.0 C261.7,154.7 266.3,151.3 268.0,150.0" fill="none" stroke="#fff" stroke-width="3" stroke-linecap="round" stroke-linejoin="round" opacity="0.8" filter="url(#b1)"/>
<path d="M242.0,130.0 C242.3,127.5 243.5,119.2 244.0,115.0 C244.5,110.8 244.8,106.7 245.0,105.0" fill="none" stroke="#fff" stroke-width="1.5" stroke-linecap="round" stroke-linejoin="round" opacity="0.6"/>
<path d="M165.0,272.0 C162.2,274.2 153.0,280.3 148.0,285.0 C143.0,289.7 138.8,292.5 135.0,300.0 C131.2,307.5 127.8,320.0 125.0,330.0 C122.2,340.0 119.7,349.2 118.0,360.0 C116.3,370.8 113.8,383.3 115.0,395.0 C116.2,406.7 120.8,419.2 125.0,430.0 C129.2,440.8 135.8,449.8 140.0,460.0 C144.2,470.2 148.3,485.8 150.0,491.0" fill="none" stroke="#fff" stroke-width="1.5" stroke-linecap="round" stroke-linejoin="round" opacity="0.7"/>
<path d="M150.0,275.0 C147.5,279.2 138.3,289.2 135.0,300.0 C131.7,310.8 130.8,333.3 130.0,340.0" fill="none" stroke="#fff" stroke-width="1.0" stroke-linecap="round" stroke-linejoin="round" opacity="0.5"/>
<path d="M248.0,272.0 C250.3,275.0 257.5,282.8 262.0,290.0 C266.5,297.2 271.2,305.8 275.0,315.0 C278.8,324.2 283.8,334.2 285.0,345.0 C286.2,355.8 282.0,367.5 282.0,380.0 C282.0,392.5 285.0,407.5 285.0,420.0 C285.0,432.5 283.7,443.2 282.0,455.0 C280.3,466.8 276.2,485.0 275.0,491.0" fill="none" stroke="#fff" stroke-width="1.5" stroke-linecap="round" stroke-linejoin="round" opacity="0.7"/>
<path d="M255.0,272.0 C258.3,276.7 268.3,288.7 275.0,300.0 C281.7,311.3 291.7,333.3 295.0,340.0" fill="none" stroke="#fff" stroke-width="1.0" stroke-linecap="round" stroke-linejoin="round" opacity="0.5"/>
<ellipse cx="210" cy="355" rx="7" ry="6" fill="#fff" opacity="0.75" filter="url(#b2)"/>
<ellipse cx="210" cy="352" rx="12" ry="14" fill="#fff" opacity="0.2" filter="url(#b8)"/>
<path d="M0.0,366.0 C2.5,366.7 10.0,368.5 15.0,370.0 C20.0,371.5 25.8,373.3 30.0,375.0 C34.2,376.7 36.7,377.2 40.0,380.0 C43.3,382.8 46.7,387.8 50.0,392.0 C53.3,396.2 56.7,400.3 60.0,405.0 C63.3,409.7 66.7,414.2 70.0,420.0 C73.3,425.8 76.3,433.7 80.0,440.0 C83.7,446.3 87.8,452.7 92.0,458.0 C96.2,463.3 100.7,467.5 105.0,472.0 C109.3,476.5 115.2,481.8 118.0,485.0 C120.8,488.2 121.3,490.0 122.0,491.0" fill="none" stroke="#fff" stroke-width="1.3" stroke-linecap="round" stroke-linejoin="round" opacity="0.9"/>
<path d="M28,378 C32,372 42,374 44,380 C44,386 36,388 30,384 Z" fill="#fff" opacity="1" filter="url(#b1)"/>
<path d="M70.0,425.0 C72.5,425.5 80.0,424.7 85.0,428.0 C90.0,431.3 95.8,439.3 100.0,445.0 C104.2,450.7 106.7,456.5 110.0,462.0 C113.3,467.5 118.3,475.3 120.0,478.0" fill="none" stroke="#fff" stroke-width="1.2" stroke-linecap="round" stroke-linejoin="round" opacity="0.6"/>
<path d="M156,445h0" stroke="#fff" stroke-width="1" stroke-linecap="round" opacity="0.7"/>
<path d="M100,377h0M269,364h0M256,305h0" stroke="#fff" stroke-width="1" stroke-linecap="round" opacity="0.8"/>
<path d="M147,437h0M130,434h0M143,408h0M292,437h0" stroke="#fff" stroke-width="1" stroke-linecap="round" opacity="0.9"/>
<path d="M152,348h0M156,349h0" stroke="#fff" stroke-width="1.5" stroke-linecap="round" opacity="0.4"/>
<path d="M165,261h0M237,204h0M109,338h0M103,314h0M124,366h0M108,354h0M108,354h0M113,396h0M117,395h0M125,349h0M267,384h0M258,364h0M257,333h0M281,405h0M273,425h0M272,389h0M281,325h0M260,308h0" stroke="#fff" stroke-width="1.5" stroke-linecap="round" opacity="0.5"/>
<path d="M175,215h0M135,402h0M126,381h0M137,355h0M276,397h0M284,378h0M308,414h0M263,360h0M291,462h0M296,455h0M271,459h0M232,291h0" stroke="#fff" stroke-width="1.5" stroke-linecap="round" opacity="0.6"/>
<path d="M161,230h0M165,204h0M236,248h0M217,144h0M126,345h0M141,346h0M114,339h0M108,421h0M113,409h0M114,366h0M271,372h0M243,447h0M253,455h0M295,459h0" stroke="#fff" stroke-width="1.5" stroke-linecap="round" opacity="0.7"/>
<path d="M242,164h0M250,187h0M260,198h0M146,299h0M98,359h0M138,320h0M140,316h0M125,410h0M132,384h0M133,375h0M114,414h0M161,482h0M126,303h0M258,335h0M275,380h0M287,413h0M281,389h0M294,429h0M288,418h0M260,305h0" stroke="#fff" stroke-width="1.5" stroke-linecap="round" opacity="0.8"/>
<path d="M182,208h0M155,199h0M113,417h0M134,462h0M138,401h0M138,401h0M269,322h0M270,455h0M270,382h0M303,410h0M303,410h0" stroke="#fff" stroke-width="1.5" stroke-linecap="round" opacity="0.9"/>
<path d="M177,260h0M236,187h0M136,447h0M281,326h0M241,273h0" stroke="#fff" stroke-width="2" stroke-linecap="round" opacity="0.4"/>
<path d="M178,246h0M235,192h0M227,133h0M112,382h0M123,375h0M123,362h0M129,321h0M257,333h0M254,435h0M245,465h0M245,465h0M266,435h0M261,437h0M270,384h0M291,352h0M273,377h0M291,352h0M256,291h0" stroke="#fff" stroke-width="2" stroke-linecap="round" opacity="0.5"/>
<path d="M178,262h0M180,154h0M247,261h0M239,248h0M252,162h0M137,398h0M127,412h0M118,421h0M112,363h0M126,351h0M100,355h0M137,355h0M136,346h0M276,343h0M276,343h0M269,413h0M282,374h0M278,371h0M308,405h0M260,283h0M232,300h0M230,304h0" stroke="#fff" stroke-width="2" stroke-linecap="round" opacity="0.6"/>
<path d="M241,147h0M126,345h0M122,347h0M114,366h0M113,358h0M112,395h0M112,382h0M114,404h0M299,404h0M297,439h0M302,464h0M243,451h0M272,308h0M277,315h0M295,454h0M296,463h0M314,392h0M318,392h0" stroke="#fff" stroke-width="2" stroke-linecap="round" opacity="0.7"/>
<path d="M249,164h0M243,232h0M135,325h0M137,329h0M116,319h0M133,388h0M124,398h0M134,383h0M123,413h0M116,425h0M109,310h0M132,384h0M133,388h0M154,471h0M102,309h0M260,353h0M267,355h0M276,402h0M298,471h0M298,471h0M256,305h0M299,270h0M306,286h0M303,278h0" stroke="#fff" stroke-width="2" stroke-linecap="round" opacity="0.8"/>
<path d="M170,206h0M173,253h0M244,156h0M236,277h0M132,453h0M251,470h0M275,465h0M292,437h0M286,458h0M310,415h0M280,453h0" stroke="#fff" stroke-width="2" stroke-linecap="round" opacity="0.9"/>
<path d="M169,212h0" stroke="#fff" stroke-width="2" stroke-linecap="round" opacity="1"/>
<path d="M238,181h0M128,436h0M117,363h0M165,264h0M281,326h0M275,314h0M253,276h0M240,268h0" stroke="#fff" stroke-width="2.5" stroke-linecap="round" opacity="0.4"/>
<path d="M181,243h0M160,206h0M105,339h0M108,302h0M103,314h0M106,363h0M125,398h0M249,280h0M258,296h0M256,292h0M247,318h0M271,437h0M294,459h0" stroke="#fff" stroke-width="2.5" stroke-linecap="round" opacity="0.5"/>
<path d="M167,248h0M169,261h0M235,202h0M131,405h0M158,286h0M157,290h0M163,307h0M93,431h0M124,410h0M126,351h0M103,368h0M271,336h0M301,399h0M282,371h0M260,283h0" stroke="#fff" stroke-width="2.5" stroke-linecap="round" opacity="0.6"/>
<path d="M173,189h0M165,137h0M239,194h0M239,195h0M247,188h0M120,345h0M156,449h0M144,417h0M153,419h0M111,413h0M263,433h0M272,423h0M275,359h0M271,372h0M308,470h0M254,436h0M249,444h0M272,308h0M261,466h0" stroke="#fff" stroke-width="2.5" stroke-linecap="round" opacity="0.7"/>
<path d="M167,177h0M168,140h0M182,253h0M173,270h0M235,194h0M128,314h0M114,315h0M143,295h0M140,292h0M98,359h0M107,302h0M109,310h0M141,395h0M114,414h0M182,483h0M102,313h0M102,313h0M120,309h0M123,306h0M257,340h0M278,374h0M287,363h0M278,423h0M282,420h0M280,385h0" stroke="#fff" stroke-width="2.5" stroke-linecap="round" opacity="0.8"/>
<path d="M173,171h0M167,181h0M238,193h0M108,430h0M113,424h0M268,471h0M296,328h0M272,340h0M272,340h0M274,380h0" stroke="#fff" stroke-width="2.5" stroke-linecap="round" opacity="0.9"/>
<path d="M167,173h0" stroke="#fff" stroke-width="2.5" stroke-linecap="round" opacity="1"/>
<path d="M139,352h0M133,444h0M136,366h0M105,345h0M168,272h0M168,268h0" stroke="#fff" stroke-width="3" stroke-linecap="round" opacity="0.4"/>
<path d="M112,382h0M119,371h0M125,322h0M122,340h0M259,373h0M270,384h0" stroke="#fff" stroke-width="3" stroke-linecap="round" opacity="0.5"/>
<path d="M239,217h0M220,200h0M249,210h0M232,147h0M126,390h0M100,355h0M249,420h0M259,359h0M263,279h0" stroke="#fff" stroke-width="3" stroke-linecap="round" opacity="0.6"/>
<path d="M169,146h0M167,251h0M241,156h0M135,352h0M137,349h0M129,355h0M149,474h0M140,416h0M272,405h0M301,412h0M300,408h0M307,398h0" stroke="#fff" stroke-width="3" stroke-linecap="round" opacity="0.7"/>
<path d="M172,186h0M169,215h0M166,168h0M167,224h0M241,193h0M236,147h0M114,302h0M138,325h0M123,366h0M105,412h0M284,367h0M284,415h0M298,471h0" stroke="#fff" stroke-width="3" stroke-linecap="round" opacity="0.8"/>
<path d="M168,167h0M238,170h0M238,162h0M101,446h0M157,429h0M110,421h0M142,467h0M134,462h0M290,345h0M294,337h0M274,463h0M270,455h0M276,376h0M282,473h0M284,469h0" stroke="#fff" stroke-width="3" stroke-linecap="round" opacity="0.9"/>
<path d="M171,269h0M174,254h0M238,214h0" stroke="#fff" stroke-width="3" stroke-linecap="round" opacity="1"/>
<path d="M240,253h0" stroke="#fff" stroke-width="3.5" stroke-linecap="round" opacity="0.7"/>
<path d="M168,267h0M170,138h0M168,260h0M238,220h0" stroke="#fff" stroke-width="3.5" stroke-linecap="round" opacity="0.8"/>
<path d="M243,182h0M232,269h0M238,255h0" stroke="#fff" stroke-width="3.5" stroke-linecap="round" opacity="0.9"/>
<path d="M174,268h0M240,212h0" stroke="#fff" stroke-width="4" stroke-linecap="round" opacity="0.7"/>
<path d="M161,229h0" stroke="#fff" stroke-width="4" stroke-linecap="round" opacity="0.8"/>
<path d="M243,206h0" stroke="#fff" stroke-width="4" stroke-linecap="round" opacity="0.9"/>
<path d="M167,210h0" stroke="#fff" stroke-width="4" stroke-linecap="round" opacity="1"/>
<path d="M242,206h0M246,198h0" stroke="#fff" stroke-width="4.5" stroke-linecap="round" opacity="0.7"/>
<path d="M168,222h0M237,207h0M237,259h0M238,271h0" stroke="#fff" stroke-width="4.5" stroke-linecap="round" opacity="0.8"/>
<path d="M166,236h0M167,199h0M236,242h0M237,266h0" stroke="#fff" stroke-width="4.5" stroke-linecap="round" opacity="0.9"/>
<path d="M239,246h0" stroke="#fff" stroke-width="4.5" stroke-linecap="round" opacity="1"/>
<path d="M170,148h0M238,229h0" stroke="#fff" stroke-width="5" stroke-linecap="round" opacity="0.7"/>
<path d="M166,232h0M246,141h0M188,233h0M219,233h0M205,240h0M225,240h0" stroke="#fff" stroke-width="5" stroke-linecap="round" opacity="0.8"/>
<path d="M242,178h0" stroke="#fff" stroke-width="5" stroke-linecap="round" opacity="0.9"/>
<path d="M168,199h0" stroke="#fff" stroke-width="5" stroke-linecap="round" opacity="1"/>
<path d="M235,230h0M241,141h0" stroke="#fff" stroke-width="5.5" stroke-linecap="round" opacity="0.7"/>
<path d="M171,245h0M241,224h0M236,140h0M244,192h0" stroke="#fff" stroke-width="5.5" stroke-linecap="round" opacity="0.8"/>
<path d="M172,250h0M238,247h0" stroke="#fff" stroke-width="5.5" stroke-linecap="round" opacity="0.9"/>
<path d="M163,238h0M240,199h0" stroke="#fff" stroke-width="5.5" stroke-linecap="round" opacity="1"/>
<path d="M241,189h0" stroke="#fff" stroke-width="6" stroke-linecap="round" opacity="0.7"/>
<path d="M166,221h0M173,262h0M167,228h0" stroke="#fff" stroke-width="6" stroke-linecap="round" opacity="0.8"/>
<path d="M171,247h0M166,263h0M236,232h0M233,263h0" stroke="#fff" stroke-width="6" stroke-linecap="round" opacity="0.9"/>
<path d="M244,143h0" stroke="#fff" stroke-width="6" stroke-linecap="round" opacity="1"/>
<path d="M166,224h0M172,174h0M244,185h0" stroke="#fff" stroke-width="6.5" stroke-linecap="round" opacity="0.7"/>
<path d="M168,181h0M166,253h0M171,170h0M167,221h0M240,159h0M241,209h0M240,273h0" stroke="#fff" stroke-width="6.5" stroke-linecap="round" opacity="0.8"/>
<path d="M171,264h0M170,240h0M239,143h0M243,167h0M241,186h0" stroke="#fff" stroke-width="6.5" stroke-linecap="round" opacity="0.9"/>
<path d="M238,248h0M238,213h0" stroke="#fff" stroke-width="6.5" stroke-linecap="round" opacity="1"/>
<path d="M168,204h0" stroke="#fff" stroke-width="7" stroke-linecap="round" opacity="0.8"/>
<path d="M175,266h0M165,234h0M240,208h0M239,178h0M237,184h0M240,226h0" stroke="#fff" stroke-width="7" stroke-linecap="round" opacity="0.9"/>
<path d="M240,159h0M239,205h0M238,225h0M239,154h0M238,245h0" stroke="#fff" stroke-width="7.5" stroke-linecap="round" opacity="0.8"/>
<path d="M240,226h0" stroke="#fff" stroke-width="7.5" stroke-linecap="round" opacity="0.9"/>
<path d="M236,157h0M242,210h0" stroke="#fff" stroke-width="7.5" stroke-linecap="round" opacity="1"/>
<path d="M229,131h0M219,145h0M236,150h0M232,160h0M245,142h0" stroke="#fff" stroke-width="9" stroke-linecap="round" opacity="1"/>
<path d="M168,135h0M171,163h0M180,188h0M186,233h0" stroke="#fff" stroke-width="10" stroke-linecap="round" opacity="1"/>
<path d="M275,314L277,318L278,322L281,326L285,328L288,332L288,336" fill="none" stroke="#fff" stroke-width="0.5" stroke-linejoin="round" opacity="0.3"/>
<path d="M167,248L164,249L160,248L157,248L154,249L150,248L147,249M171,240L172,243L175,244L178,246M111,387L112,382L115,379L117,375L119,371L119,366L118,362L116,358L113,355M112,300L108,302L106,306L106,311L103,314L100,318L99,322M100,350L100,355L102,359L104,363L103,368L104,372M281,384L281,380L281,375L282,371L280,367L276,364L272,363L268,362L263,360L259,359M270,384L272,389L272,393L272,398L274,402L274,406L273,411" fill="none" stroke="#fff" stroke-width="0.5" stroke-linejoin="round" opacity="0.4"/>
<path d="M139,389L138,393L137,398L135,402L131,405M127,412L128,407L127,403L128,398L127,394L126,390L127,385L126,381M114,373L113,378L112,382L111,387L111,391L112,395L112,400L114,404M284,386L285,382L284,378L282,374L278,371M305,402L307,398L310,395L314,392L318,392L323,391L327,389L331,387L335,386L338,382" fill="none" stroke="#fff" stroke-width="0.5" stroke-linejoin="round" opacity="0.5"/>
<path d="M238,158L241,160L242,164L243,167L246,169L248,172L251,174M234,250L236,248L237,245L238,241L236,238L237,235L236,231L236,228M135,374L135,379L134,383L133,388L130,391L127,394L124,398L123,402L123,407M129,402L127,405L125,410L123,413L121,417L118,421L116,425L112,427L108,429M141,333L142,337L143,342L141,346L137,349L135,352L131,355M126,313L121,312L117,313L112,313L109,310L107,306L107,302M96,402L98,406L102,409L105,412L109,413L114,414L118,414M132,358L129,355L126,351L124,348L120,345L116,343L114,339L113,334L112,330M261,357L260,353L259,349L257,344L257,340L258,335M278,378L278,374L281,370L284,367L287,363L290,360L292,356M267,355L268,359L269,364L271,368L273,371L274,376L275,380L276,384M300,467L298,471L297,476L298,480L300,484" fill="none" stroke="#fff" stroke-width="0.5" stroke-linejoin="round" opacity="0.6"/>
<path d="M170,192L173,194L173,198L175,201L176,204L178,207L182,208M113,417L113,422L111,426L108,430L107,434L104,437L102,442L101,446L97,448L93,449M146,468L142,467L138,464L134,462L130,461L126,463L121,464M289,429L291,433L292,437L293,441L292,446L290,450L290,454L286,458L284,461L280,464L275,464M280,453L283,456L285,460L285,465L284,469L282,473L282,478L281,482" fill="none" stroke="#fff" stroke-width="0.5" stroke-linejoin="round" opacity="0.7"/>
<path d="M171,256L174,258L177,260L178,263L180,266M238,168L238,171L237,175L237,178L238,181M237,166L240,168L241,171L241,175L241,178L241,182L238,184L236,187M131,355L135,352L139,352L144,351L148,348L152,348L156,349L161,350L165,349L170,350M126,432L128,436L131,440L133,444L136,447L137,451M105,345L107,349L107,354L109,358L113,360L117,363L119,366L123,368L128,368L132,368L136,366M168,272L168,268L165,264L162,261L158,258M279,401L281,405L282,409L281,414L280,418L277,422L273,425L269,426L266,429L264,434L261,437M240,268L241,273L244,275L249,277L253,276L258,275L262,275L266,274" fill="none" stroke="#fff" stroke-width="1" stroke-linejoin="round" opacity="0.3"/>
<path d="M172,238L175,240L178,242L181,243L184,246L187,247L190,249L193,250M176,269L176,265L178,262M166,210L169,212L172,214L175,215L178,215M176,154L180,154L183,155L186,155L190,154L193,156L196,158L199,158M168,255L166,258L165,261L164,264L165,268L167,271L168,274L170,277M237,207L237,204L239,201L243,200L246,198L249,198L252,199M238,234L241,232L242,229L244,225L244,222L242,219L239,217M237,186L235,189L235,192L236,195L235,199L234,202M235,194L232,196L231,199L227,201L224,200L220,200M237,137L234,136L231,134L227,133L224,132L222,129M125,322L122,325L118,328L116,332L113,335L109,338L105,339L102,343M123,358L123,362L124,366L122,371L123,375M108,354L108,359L106,363L103,366L99,368L94,368L90,369L86,369M142,394L138,397L134,399L130,399L125,398L121,397L117,395L113,396M126,406L124,410L123,414L121,419L118,421L113,421L109,424L105,426L101,428L97,430L93,431M124,362L126,358L125,353L125,349L123,345L122,340L122,336L121,331L123,327L127,324L129,321M131,338L134,342L136,346L137,350L137,355L137,359L136,364M249,280L251,285L254,288L256,292L258,296L262,299L265,302L267,306L270,309M257,355L259,359L258,364L258,368L259,373L262,376L264,380L267,384L270,387M284,354L281,350L278,347L276,343L274,339L271,336L269,332M278,393L276,397L276,401L275,406L273,410L269,413L265,414L262,417L257,418L253,420L249,420M257,333L255,329L254,324L251,321L247,318M257,427L254,431L254,435L252,439L251,444L251,448L250,453L249,457L247,461L245,465M295,464L294,459L291,456L288,452L288,448L287,443L284,440L280,438L275,437L271,437L266,435M296,455L293,458L291,462L287,465L283,465L278,464L275,461L271,459M273,377L276,373L278,369L281,366L285,364L288,360L290,356L291,352L291,347M256,291L256,295L257,300L258,304L260,308L264,311L267,314L271,317L275,319L278,322L281,325" fill="none" stroke="#fff" stroke-width="1" stroke-linejoin="round" opacity="0.4"/>
<path d="M166,222L166,226L164,229L161,230L158,231L154,230L152,227L149,225M169,211L171,208L173,205L174,202L175,199L176,195L174,192L173,189M168,268L169,265L169,261L172,259M165,137L168,137L171,139L175,138M168,224L168,221L167,218L167,214L168,211L167,207L165,204L164,201M237,257L240,258L243,260L247,261L250,261L253,260L256,258L259,255M239,248L240,251L243,254L246,255L249,254L252,252M241,147L243,150L243,153M236,141L234,144L231,145L227,145L224,143L221,143L217,144M239,210L242,211L246,211L249,210L252,209M239,154L235,153L233,150L232,147M245,199L241,200L239,202L235,202L232,205L229,205M242,163L245,163L249,164L252,162L255,161L258,160L261,158M126,345L122,347L121,352L117,355L116,359L116,363L118,368M157,281L158,286L157,290L158,295L159,299L162,302L163,307L164,311L164,316L163,320M156,445L156,449L156,454L156,458L155,463L154,467L151,471L149,474M140,416L144,417L148,417L153,419L157,419L161,418M126,351L123,355L119,357L116,360L112,363L111,367M114,353L113,358L114,362L114,366L115,371M272,405L273,410L274,414L274,419L272,423L269,426L266,430L263,433L259,435M268,381L269,376L271,372L273,368L274,364L275,359M303,396L301,399L299,404L300,408L301,412M261,466L259,462L257,458L253,455L250,453L246,451L243,447L240,444L237,440M295,446L296,450L295,454L295,459L296,463L298,467M263,279L260,283L257,285L253,287L249,290L246,293L244,297L243,301L242,306M232,291L232,296L232,300L230,304L226,307" fill="none" stroke="#fff" stroke-width="1" stroke-linejoin="round" opacity="0.5"/>
<path d="M179,255L182,253L184,250L185,247L186,243M173,270L170,271L166,272L164,274M241,192L244,191L247,188L247,185L249,182L251,179L250,175M241,191L245,191L248,190L250,187L252,184L252,180L253,177M239,162L242,164L246,165L249,164L251,161L254,159L257,158L260,155M240,234L243,232L246,231L250,232M237,195L240,197L243,199L246,200L250,201L253,201L256,199L260,198M128,314L130,318L131,323L135,325L137,329M116,319L114,315L112,311L112,306L114,302M100,355L98,359L98,364L101,368L101,372L100,377M134,342L136,338L136,333L136,329L138,325L138,320L140,316M131,375L132,379L132,384L133,388L131,393M155,467L154,471L155,476L157,479L161,482L165,484L169,485L173,486L178,485L182,483L186,481M102,309L102,313L100,317L96,320L94,324M126,303L123,306L120,309L118,313L118,318L116,322L115,326L115,331L114,335L110,338L106,340M295,435L297,439L299,442L301,447L300,451L299,455L300,460L302,464L305,467L308,470M267,425L265,429L262,433L258,434L254,436L251,440L249,444L246,447L243,451L240,454L237,457M287,413L284,416L282,420L278,423L275,425L273,429L270,433L268,437L264,439L259,438M281,376L280,380L280,385L281,389L280,394L278,398L276,402L275,406L274,410M272,308L274,312L277,315L281,318L283,322L285,326M272,311L269,308L265,306L260,305L256,305M299,270L301,273L303,278L306,281L306,286L306,290L306,295L308,299" fill="none" stroke="#fff" stroke-width="1" stroke-linejoin="round" opacity="0.6"/>
<path d="M171,187L168,189L165,191L162,193L159,194L156,196L155,199M241,186L240,190L238,193L239,196L237,199L234,202M240,159L238,162L238,165L235,168L232,169L229,169L225,167L223,165M132,453L135,449L137,446L140,443L143,439L147,437L152,436L155,433L157,429L159,425L163,423M140,292L143,295L146,299L148,303L149,307M110,421L113,424L114,428L118,431L122,434L126,435L130,434L135,435L138,438L141,441M281,458L278,461L275,465L271,468L268,471L264,473L260,473L255,472L251,470L249,466L246,462M294,324L296,328L295,333L294,337L291,341L290,345L290,350L288,354L285,357L283,361L282,365M276,347L273,344L272,340L272,335L272,331L271,326L269,322L267,318L263,315L262,311L263,306M263,449L266,453L270,455L272,459L274,463L276,467L280,470M276,376L274,380L270,382L268,386L267,390L266,395M311,424L311,420L310,415L307,412L303,410L299,409L295,410L290,411L286,413L282,413" fill="none" stroke="#fff" stroke-width="1" stroke-linejoin="round" opacity="0.7"/>
<path d="M166,198L165,201L163,204L160,206L157,208" fill="none" stroke="#fff" stroke-width="1.5" stroke-linejoin="round" opacity="0.4"/>
<path d="M301,399L305,401L308,405L308,409L308,414L310,418" fill="none" stroke="#fff" stroke-width="1.5" stroke-linejoin="round" opacity="0.5"/>
<path d="M123,366L126,369L130,372L133,375L136,378L137,383L137,387L140,391L141,395M114,400L114,404L113,409L111,413L109,416L108,421L108,425L109,430L113,432L115,436M284,415L288,418L289,422L292,426L294,429L295,434L295,438L295,443" fill="none" stroke="#fff" stroke-width="1.5" stroke-linejoin="round" opacity="0.6"/>
<path d="M136,383L136,388L136,392L137,396L138,401L140,405L143,408L146,411L150,413L154,416" fill="none" stroke="#fff" stroke-width="1.5" stroke-linejoin="round" opacity="0.7"/>
<rect x="0" y="0" width="1.5" height="492.6" filter="url(#grain)" opacity="0.05"/>
</g>
<clipPath id="clip5"><rect x="0" y="0" width="394.3" height="492.6"/></clipPath>
<g transform="translate(602.5,2065.4)" clip-path="url(#clip5)">
<rect x="0" y="0" width="394.3" height="492.6" fill="#040404"/>
<ellipse cx="262" cy="58" rx="12" ry="6" fill="#fff" opacity="0.9" filter="url(#b2)"/>
<ellipse cx="150" cy="30" rx="18" ry="16" fill="#fff" opacity="0.25" filter="url(#b8)"/>
<ellipse cx="150" cy="110" rx="28" ry="45" fill="#fff" opacity="0.16" filter="url(#b15)"/>
<ellipse cx="195" cy="240" rx="70" ry="85" fill="#fff" opacity="0.14" filter="url(#b25)"/>
<ellipse cx="165" cy="230" rx="22" ry="60" fill="#fff" opacity="0.22" filter="url(#b8)"/>
<ellipse cx="225" cy="230" rx="22" ry="60" fill="#fff" opacity="0.22" filter="url(#b8)"/>
<path d="M156.0,160.0 C156.0,163.3 155.7,173.3 156.0,180.0 C156.3,186.7 157.0,193.0 158.0,200.0 C159.0,207.0 161.7,213.7 162.0,222.0 C162.3,230.3 160.8,241.2 160.0,250.0 C159.2,258.8 157.5,270.8 157.0,275.0" fill="none" stroke="#fff" stroke-width="12" stroke-linecap="round" opacity="0.3" filter="url(#b4)"/>
<path d="M156.0,160.0 C156.0,163.3 155.7,173.3 156.0,180.0 C156.3,186.7 157.0,193.0 158.0,200.0 C159.0,207.0 161.7,213.7 162.0,222.0 C162.3,230.3 160.8,241.2 160.0,250.0 C159.2,258.8 157.5,270.8 157.0,275.0" fill="none" stroke="#fff" stroke-width="3.6" stroke-linecap="round" opacity="0.9" filter="url(#b2)"/>
<path d="M156.0,160.0 C156.0,163.3 155.7,173.3 156.0,180.0 C156.3,186.7 157.0,193.0 158.0,200.0 C159.0,207.0 161.7,213.7 162.0,222.0 C162.3,230.3 160.8,241.2 160.0,250.0 C159.2,258.8 157.5,270.8 157.0,275.0" fill="none" stroke="#fff" stroke-width="2.0" stroke-linecap="round" opacity="1.0" filter="url(#b1)"/>
<path d="M160.0,182.0 C161.7,181.2 166.7,179.0 170.0,177.0 C173.3,175.0 178.3,171.2 180.0,170.0" fill="none" stroke="#fff" stroke-width="4" stroke-linecap="round" stroke-linejoin="round" opacity="0.95" filter="url(#b1)"/>
<path d="M158.0,208.0 C160.0,206.2 165.5,201.2 170.0,197.0 C174.5,192.8 182.5,185.3 185.0,183.0" fill="none" stroke="#fff" stroke-width="5.5" stroke-linecap="round" stroke-linejoin="round" opacity="1" filter="url(#b1)"/>
<path d="M224.0,162.0 C224.3,165.3 225.3,175.3 226.0,182.0 C226.7,188.7 227.3,195.3 228.0,202.0 C228.7,208.7 229.3,214.0 230.0,222.0 C230.7,230.0 232.3,240.7 232.0,250.0 C231.7,259.3 228.7,273.3 228.0,278.0" fill="none" stroke="#fff" stroke-width="12" stroke-linecap="round" opacity="0.3" filter="url(#b4)"/>
<path d="M224.0,162.0 C224.3,165.3 225.3,175.3 226.0,182.0 C226.7,188.7 227.3,195.3 228.0,202.0 C228.7,208.7 229.3,214.0 230.0,222.0 C230.7,230.0 232.3,240.7 232.0,250.0 C231.7,259.3 228.7,273.3 228.0,278.0" fill="none" stroke="#fff" stroke-width="3.6" stroke-linecap="round" opacity="0.9" filter="url(#b2)"/>
<path d="M224.0,162.0 C224.3,165.3 225.3,175.3 226.0,182.0 C226.7,188.7 227.3,195.3 228.0,202.0 C228.7,208.7 229.3,214.0 230.0,222.0 C230.7,230.0 232.3,240.7 232.0,250.0 C231.7,259.3 228.7,273.3 228.0,278.0" fill="none" stroke="#fff" stroke-width="2.0" stroke-linecap="round" opacity="1.0" filter="url(#b1)"/>
<path d="M209.0,175.0 C210.5,176.8 215.0,182.5 218.0,186.0 C221.0,189.5 225.5,194.3 227.0,196.0" fill="none" stroke="#fff" stroke-width="4.5" stroke-linecap="round" stroke-linejoin="round" opacity="0.95" filter="url(#b1)"/>
<path d="M210.0,193.0 C211.3,194.5 215.3,198.8 218.0,202.0 C220.7,205.2 224.7,210.3 226.0,212.0" fill="none" stroke="#fff" stroke-width="4" stroke-linecap="round" stroke-linejoin="round" opacity="0.9" filter="url(#b1)"/>
<path d="M172,222 C180,212 210,212 218,222 C226,245 220,272 195,276 C172,272 165,245 172,222 Z" fill="#000" opacity="0.9" filter="url(#b4)"/>
<path d="M150.0,280.0 C145.8,285.0 132.5,300.0 125.0,310.0 C117.5,320.0 110.0,328.3 105.0,340.0 C100.0,351.7 97.5,366.7 95.0,380.0 C92.5,393.3 90.8,413.3 90.0,420.0" fill="none" stroke="#fff" stroke-width="1.3" stroke-linecap="round" stroke-linejoin="round" opacity="0.5"/>
<path d="M240.0,280.0 C244.2,285.0 257.5,300.0 265.0,310.0 C272.5,320.0 280.5,328.3 285.0,340.0 C289.5,351.7 289.5,366.7 292.0,380.0 C294.5,393.3 298.7,413.3 300.0,420.0" fill="none" stroke="#fff" stroke-width="1.3" stroke-linecap="round" stroke-linejoin="round" opacity="0.5"/>
<ellipse cx="190" cy="362" rx="10" ry="10" fill="#fff" opacity="0.45" filter="url(#b4)"/>
<path d="M190.0,370.0 C190.2,375.0 191.0,390.0 191.0,400.0 C191.0,410.0 190.0,420.0 190.0,430.0 C190.0,440.0 191.0,449.8 191.0,460.0 C191.0,470.2 190.2,485.8 190.0,491.0" fill="none" stroke="#fff" stroke-width="2" stroke-linecap="round" stroke-linejoin="round" opacity="0.35" filter="url(#b2)"/>
<path d="M330,200 C360,260 380,340 370,430" fill="none" stroke="#fff" stroke-width="1" opacity="0.15"/>
<path d="M166,16h0M121,449h0M140,311h0M133,330h0" stroke="#fff" stroke-width="1" stroke-linecap="round" opacity="0.4"/>
<path d="M311,396h0M301,450h0" stroke="#fff" stroke-width="1" stroke-linecap="round" opacity="0.5"/>
<path d="M288,429h0" stroke="#fff" stroke-width="1" stroke-linecap="round" opacity="0.6"/>
<path d="M185,12h0M326,370h0" stroke="#fff" stroke-width="1" stroke-linecap="round" opacity="0.7"/>
<path d="M301,437h0" stroke="#fff" stroke-width="1" stroke-linecap="round" opacity="0.8"/>
<path d="M134,142h0" stroke="#fff" stroke-width="1.5" stroke-linecap="round" opacity="0.2"/>
<path d="M117,135h0M168,124h0M156,137h0" stroke="#fff" stroke-width="1.5" stroke-linecap="round" opacity="0.3"/>
<path d="M157,19h0M157,2h0M156,16h0M166,16h0M265,52h0M257,47h0M180,132h0M113,101h0M177,72h0M231,218h0M115,423h0M104,417h0M140,426h0M97,418h0M95,431h0M162,280h0M142,455h0M83,411h0M123,322h0M132,326h0M53,448h0M96,369h0M103,432h0M134,321h0M262,300h0M266,325h0M250,304h0M255,273h0M255,273h0M291,436h0M282,348h0M282,348h0M278,356h0M255,448h0M288,446h0M300,290h0M252,291h0M252,291h0M263,298h0M277,464h0M282,457h0M272,339h0" stroke="#fff" stroke-width="1.5" stroke-linecap="round" opacity="0.4"/>
<path d="M166,6h0M175,36h0M189,45h0M253,49h0M218,30h0M210,33h0M157,108h0M148,104h0M183,181h0M164,244h0M109,458h0M109,458h0M104,448h0M101,452h0M126,347h0M94,477h0M68,485h0M99,428h0M108,448h0M311,396h0M320,426h0M272,463h0M263,395h0M274,375h0M317,395h0M260,347h0M260,351h0M275,316h0" stroke="#fff" stroke-width="1.5" stroke-linecap="round" opacity="0.5"/>
<path d="M132,-1h0M138,8h0M115,5h0M235,39h0M248,37h0M245,34h0M104,398h0M109,399h0M120,345h0M109,325h0M92,368h0M88,312h0M92,312h0M132,387h0M125,372h0M112,370h0M120,367h0M133,355h0M112,403h0M87,380h0M116,350h0M287,420h0M250,366h0M318,454h0M292,381h0M289,394h0M270,289h0M213,300h0M284,419h0M295,411h0M281,423h0" stroke="#fff" stroke-width="1.5" stroke-linecap="round" opacity="0.6"/>
<path d="M177,14h0M73,427h0M162,295h0M153,295h0M90,450h0M82,451h0M101,444h0M301,421h0M303,430h0M276,334h0M230,360h0M326,370h0M271,344h0M281,331h0M284,452h0M283,469h0M312,400h0M236,339h0M293,434h0M285,438h0" stroke="#fff" stroke-width="1.5" stroke-linecap="round" opacity="0.7"/>
<path d="M97,468h0M137,310h0M120,342h0M125,367h0M161,280h0M144,275h0M291,450h0" stroke="#fff" stroke-width="1.5" stroke-linecap="round" opacity="0.8"/>
<path d="M162,217h0M241,229h0" stroke="#fff" stroke-width="1.5" stroke-linecap="round" opacity="0.9"/>
<path d="M140,97h0" stroke="#fff" stroke-width="2" stroke-linecap="round" opacity="0.2"/>
<path d="M275,59h0M144,124h0M182,64h0M133,138h0M127,65h0" stroke="#fff" stroke-width="2" stroke-linecap="round" opacity="0.3"/>
<path d="M169,27h0M173,7h0M157,2h0M149,-0h0M157,9h0M180,15h0M181,15h0M261,49h0M159,153h0M139,100h0M174,73h0M172,110h0M132,105h0M112,121h0M174,193h0M99,448h0M162,280h0M144,322h0M116,308h0M89,469h0M84,462h0M119,445h0M51,439h0M48,431h0M87,389h0M107,417h0M105,328h0M286,452h0M291,452h0M324,408h0M319,401h0M254,330h0M250,304h0M264,300h0M263,296h0M252,281h0M291,436h0M252,275h0M287,459h0M287,442h0M302,317h0M300,295h0M283,324h0" stroke="#fff" stroke-width="2" stroke-linecap="round" opacity="0.4"/>
<path d="M166,6h0M175,32h0M223,55h0M215,36h0M269,55h0M235,31h0M229,234h0M202,179h0M79,393h0M75,401h0M118,380h0M120,389h0M118,376h0M75,467h0M161,297h0M139,293h0M94,477h0M74,478h0M101,423h0M110,441h0M98,423h0M100,410h0M115,431h0M284,374h0M279,457h0M301,390h0M275,364h0M275,364h0M238,349h0M249,362h0M275,316h0M302,480h0M278,444h0M303,437h0" stroke="#fff" stroke-width="2" stroke-linecap="round" opacity="0.5"/>
<path d="M133,11h0M174,35h0M139,34h0M129,26h0M253,36h0M235,39h0M246,33h0M242,39h0M245,34h0M247,30h0M290,46h0M303,50h0M117,158h0M144,173h0M158,191h0M167,192h0M126,464h0M126,464h0M119,371h0M122,313h0M92,368h0M83,313h0M105,375h0M116,411h0M110,399h0M112,342h0M288,429h0M298,477h0M320,450h0M293,377h0M244,337h0M292,322h0M279,323h0M288,324h0M205,299h0" stroke="#fff" stroke-width="2" stroke-linecap="round" opacity="0.6"/>
<path d="M185,12h0M254,38h0M214,31h0M156,174h0M161,244h0M93,437h0M102,416h0M279,343h0M239,359h0M272,340h0M335,429h0M288,450h0M295,425h0" stroke="#fff" stroke-width="2" stroke-linecap="round" opacity="0.7"/>
<path d="M154,272h0M232,227h0M217,247h0M167,286h0" stroke="#fff" stroke-width="2" stroke-linecap="round" opacity="0.8"/>
<path d="M164,226h0M227,185h0M232,248h0" stroke="#fff" stroke-width="2" stroke-linecap="round" opacity="1"/>
<path d="M275,59h0M121,61h0M163,120h0" stroke="#fff" stroke-width="2.5" stroke-linecap="round" opacity="0.3"/>
<path d="M157,19h0M181,0h0M172,14h0M152,17h0M275,61h0M260,55h0M189,133h0M157,61h0M143,65h0M143,80h0M230,250h0M224,282h0M215,165h0M162,271h0M144,322h0M142,305h0M128,303h0M89,469h0M83,411h0M118,323h0M103,358h0M107,323h0M110,310h0M129,320h0M282,452h0M268,321h0M324,408h0M308,480h0M308,476h0M292,496h0M249,300h0M252,288h0M252,288h0M261,432h0M255,448h0M252,279h0M282,457h0" stroke="#fff" stroke-width="2.5" stroke-linecap="round" opacity="0.4"/>
<path d="M166,6h0M181,42h0M222,59h0M249,48h0M214,32h0M235,31h0M231,30h0M226,227h0M93,462h0M75,467h0M103,386h0M71,481h0M115,440h0M113,435h0M91,444h0M91,444h0M87,442h0M279,324h0M276,306h0M279,315h0M313,421h0M283,450h0M273,380h0M297,387h0M276,372h0M238,349h0M275,316h0M302,484h0M286,441h0M304,459h0M298,447h0" stroke="#fff" stroke-width="2.5" stroke-linecap="round" opacity="0.5"/>
<path d="M133,-5h0M138,8h0M246,33h0M261,37h0M261,46h0M251,41h0M238,40h0M298,50h0M187,72h0M117,157h0M112,402h0M120,345h0M77,470h0M119,384h0M132,387h0M107,366h0M133,355h0M141,336h0M115,346h0M252,362h0M252,362h0M301,455h0M251,433h0M286,427h0M270,289h0M230,315h0M233,319h0M286,413h0M281,434h0M202,295h0" stroke="#fff" stroke-width="2.5" stroke-linecap="round" opacity="0.6"/>
<path d="M164,16h0M162,12h0M251,34h0M256,41h0M210,33h0M210,33h0M154,186h0M151,226h0M157,272h0M227,257h0M70,431h0M73,427h0M149,297h0M68,376h0M106,415h0M80,447h0M124,411h0M130,436h0M301,457h0M289,395h0M293,395h0M273,410h0M253,349h0M323,391h0M266,361h0M318,425h0M308,353h0M300,349h0M313,405h0M232,346h0" stroke="#fff" stroke-width="2.5" stroke-linecap="round" opacity="0.7"/>
<path d="M166,266h0M228,257h0M223,171h0M100,465h0M120,342h0M295,448h0" stroke="#fff" stroke-width="2.5" stroke-linecap="round" opacity="0.8"/>
<path d="M228,175h0M224,210h0M232,238h0M217,205h0M239,186h0" stroke="#fff" stroke-width="2.5" stroke-linecap="round" opacity="0.9"/>
<path d="M146,134h0M178,102h0M169,94h0" stroke="#fff" stroke-width="3" stroke-linecap="round" opacity="0.2"/>
<path d="M272,56h0M128,145h0" stroke="#fff" stroke-width="3" stroke-linecap="round" opacity="0.3"/>
<path d="M181,0h0M142,20h0M260,55h0M146,89h0M116,123h0M134,72h0M149,78h0M149,133h0M143,313h0M83,402h0M132,326h0M104,420h0M105,354h0M264,300h0M292,431h0M253,296h0M277,331h0" stroke="#fff" stroke-width="3" stroke-linecap="round" opacity="0.4"/>
<path d="M177,40h0M189,45h0M126,83h0M112,450h0M94,376h0M71,467h0M161,297h0M98,379h0M106,390h0M126,347h0M123,345h0M94,477h0M300,417h0M260,347h0M299,497h0" stroke="#fff" stroke-width="3" stroke-linecap="round" opacity="0.5"/>
<path d="M172,28h0M177,47h0M143,40h0M261,37h0M132,127h0M124,468h0M112,321h0M97,380h0M74,462h0M75,466h0M107,366h0M91,378h0M95,377h0M288,497h0M288,497h0M265,431h0M282,284h0M283,425h0" stroke="#fff" stroke-width="3" stroke-linecap="round" opacity="0.6"/>
<path d="M162,12h0M161,160h0M217,266h0M224,219h0M84,462h0M97,366h0M72,374h0M99,419h0M88,458h0M124,402h0M127,414h0M130,436h0M275,322h0M315,422h0M315,409h0M232,346h0" stroke="#fff" stroke-width="3" stroke-linecap="round" opacity="0.7"/>
<path d="M166,21h0M157,175h0M166,232h0M152,155h0M235,239h0M97,468h0M134,313h0M141,302h0" stroke="#fff" stroke-width="3" stroke-linecap="round" opacity="0.8"/>
<path d="M161,264h0M157,178h0" stroke="#fff" stroke-width="3" stroke-linecap="round" opacity="0.9"/>
<path d="M157,276h0" stroke="#fff" stroke-width="3" stroke-linecap="round" opacity="1"/>
<path d="M262,42h0" stroke="#fff" stroke-width="3.5" stroke-linecap="round" opacity="0.5"/>
<path d="M229,245h0" stroke="#fff" stroke-width="3.5" stroke-linecap="round" opacity="0.7"/>
<path d="M162,237h0" stroke="#fff" stroke-width="3.5" stroke-linecap="round" opacity="0.8"/>
<path d="M157,183h0M161,239h0M223,180h0" stroke="#fff" stroke-width="3.5" stroke-linecap="round" opacity="0.9"/>
<path d="M226,162h0" stroke="#fff" stroke-width="3.5" stroke-linecap="round" opacity="1"/>
<path d="M234,26h0" stroke="#fff" stroke-width="4" stroke-linecap="round" opacity="0.6"/>
<path d="M250,26h0M159,215h0M165,226h0M228,277h0" stroke="#fff" stroke-width="4" stroke-linecap="round" opacity="0.7"/>
<path d="M162,40h0M156,260h0M156,192h0M155,179h0M231,250h0M228,245h0M221,169h0" stroke="#fff" stroke-width="4" stroke-linecap="round" opacity="0.8"/>
<path d="M158,237h0M160,246h0M229,269h0" stroke="#fff" stroke-width="4" stroke-linecap="round" opacity="0.9"/>
<path d="M248,29h0" stroke="#fff" stroke-width="4.5" stroke-linecap="round" opacity="0.4"/>
<path d="M149,26h0M239,30h0" stroke="#fff" stroke-width="4.5" stroke-linecap="round" opacity="0.5"/>
<path d="M159,26h0" stroke="#fff" stroke-width="4.5" stroke-linecap="round" opacity="0.6"/>
<path d="M232,17h0M263,64h0M154,179h0M231,267h0" stroke="#fff" stroke-width="4.5" stroke-linecap="round" opacity="0.7"/>
<path d="M248,37h0M220,25h0" stroke="#fff" stroke-width="4.5" stroke-linecap="round" opacity="0.8"/>
<path d="M157,184h0M158,187h0M232,214h0M226,192h0" stroke="#fff" stroke-width="4.5" stroke-linecap="round" opacity="0.9"/>
<path d="M160,218h0M228,219h0" stroke="#fff" stroke-width="4.5" stroke-linecap="round" opacity="1"/>
<path d="M146,26h0M272,49h0" stroke="#fff" stroke-width="5" stroke-linecap="round" opacity="0.4"/>
<path d="M267,35h0" stroke="#fff" stroke-width="5" stroke-linecap="round" opacity="0.5"/>
<path d="M159,231h0M162,227h0M159,242h0M155,250h0" stroke="#fff" stroke-width="5" stroke-linecap="round" opacity="0.8"/>
<path d="M162,249h0M162,226h0M232,248h0M225,202h0" stroke="#fff" stroke-width="5" stroke-linecap="round" opacity="0.9"/>
<path d="M143,17h0" stroke="#fff" stroke-width="5.5" stroke-linecap="round" opacity="0.6"/>
<path d="M139,16h0M179,33h0M154,249h0M235,249h0M232,222h0" stroke="#fff" stroke-width="5.5" stroke-linecap="round" opacity="0.7"/>
<path d="M161,234h0" stroke="#fff" stroke-width="5.5" stroke-linecap="round" opacity="0.8"/>
<path d="M149,22h0M158,273h0M227,203h0" stroke="#fff" stroke-width="5.5" stroke-linecap="round" opacity="0.9"/>
<path d="M233,229h0M231,238h0M155,275h0M170,262h0M210,258h0M228,282h0M180,268h0" stroke="#fff" stroke-width="6" stroke-linecap="round" opacity="0.8"/>
<path d="M230,273h0" stroke="#fff" stroke-width="6" stroke-linecap="round" opacity="0.9"/>
<path d="M157,178h0" stroke="#fff" stroke-width="6" stroke-linecap="round" opacity="1"/>
<path d="M156,37h0" stroke="#fff" stroke-width="6.5" stroke-linecap="round" opacity="0.4"/>
<path d="M159,43h0M235,35h0" stroke="#fff" stroke-width="6.5" stroke-linecap="round" opacity="0.5"/>
<path d="M136,18h0M235,31h0M249,45h0" stroke="#fff" stroke-width="6.5" stroke-linecap="round" opacity="0.6"/>
<path d="M163,234h0" stroke="#fff" stroke-width="6.5" stroke-linecap="round" opacity="0.7"/>
<path d="M230,232h0M219,168h0" stroke="#fff" stroke-width="6.5" stroke-linecap="round" opacity="0.8"/>
<path d="M229,208h0M222,169h0M232,223h0" stroke="#fff" stroke-width="6.5" stroke-linecap="round" opacity="0.9"/>
<path d="M164,265h0M224,276h0" stroke="#fff" stroke-width="6.5" stroke-linecap="round" opacity="1"/>
<path d="M163,46h0" stroke="#fff" stroke-width="7" stroke-linecap="round" opacity="0.6"/>
<path d="M145,14h0" stroke="#fff" stroke-width="7" stroke-linecap="round" opacity="0.8"/>
<path d="M228,223h0" stroke="#fff" stroke-width="7" stroke-linecap="round" opacity="0.9"/>
<path d="M157,247h0M159,251h0" stroke="#fff" stroke-width="7" stroke-linecap="round" opacity="1"/>
<path d="M269,55L266,52L262,50L258,50L253,49L249,48L246,44M228,220L231,218L234,215L236,213L239,212M104,417L107,420L110,423L115,423L119,422L123,420L127,421L131,423L135,425L140,426L144,427M144,309L140,311L137,313L135,318L131,320L127,321L123,322L118,323M52,461L51,457L52,452L53,448L51,444L51,439L51,435L48,431L45,427L45,423L44,419M282,370L284,374L287,377L291,380L294,382L299,384L302,387L305,390L308,394L311,396L316,396M319,401L321,405L324,408L327,411L328,416L330,420L328,424M308,476L308,480L306,484L302,486L298,489L295,493L292,496M252,288L253,292L252,297L249,300L246,304L244,308L244,312" fill="none" stroke="#fff" stroke-width="0.5" stroke-linejoin="round" opacity="0.3"/>
<path d="M168,9L166,6L167,2L170,-1L173,-4M231,37L235,39L240,38L244,38L248,36L253,36M210,37L206,38L201,39L197,40L193,43L189,45L185,44L181,42L177,39M201,34L205,33L210,33L214,32L218,30L222,28L225,25M159,184L163,183L166,184L169,184L172,182L176,181L179,182L183,181M224,182L222,180L219,178L215,178L212,176L209,177L205,177L202,179M112,450L110,454L109,458L106,461L102,465L98,466L94,468M104,444L104,448L101,452L99,456L96,459L93,462L91,466M117,381L119,384L123,387L127,388L132,387M99,428L98,423L98,419L100,415L100,410M87,442L91,444L96,444L100,443L104,445L109,446M260,347L260,351L259,356L257,360L255,363L250,365L247,368M266,327L271,327L275,325L279,323L283,323L288,324L292,322M275,316L278,319L281,322L283,326L287,329L289,333" fill="none" stroke="#fff" stroke-width="0.5" stroke-linejoin="round" opacity="0.4"/>
<path d="M226,37L229,40L234,41L238,40L242,39L247,39L251,41L255,42M231,268L228,269L224,268L221,266L217,266M76,424L73,427L70,431L69,435L68,439M149,297L153,295L157,295L162,295L166,295M92,433L93,437L93,441L91,446L90,450L88,454L86,457L84,462L85,466M108,371L104,373L100,376L95,377L91,378L87,380" fill="none" stroke="#fff" stroke-width="0.5" stroke-linejoin="round" opacity="0.5"/>
<path d="M156,174L153,174L149,175L146,176M158,163L155,161L153,158L152,155L149,153L147,150L147,147L148,143M141,302L140,306L137,310L134,313L132,317L131,321L127,324L123,325M291,450L295,448L299,445L300,441L301,437" fill="none" stroke="#fff" stroke-width="0.5" stroke-linejoin="round" opacity="0.6"/>
<path d="M227,203L224,205L221,206L217,205L214,205L211,203" fill="none" stroke="#fff" stroke-width="0.5" stroke-linejoin="round" opacity="0.7"/>
<path d="M156,16L157,19L158,23L161,26L165,27L169,27L173,29L175,32M170,9L173,7L177,7L180,4L181,0M160,13L160,9L159,5L157,2L153,0L149,-0L146,-3L145,-6M157,9L160,11L164,11L168,13L172,14L176,14L180,15M142,20L145,17L148,16L152,17L156,16L159,13L163,12M162,15L166,16L170,16L173,14L177,14L181,15L185,15M215,36L218,38L220,42L223,46L224,50L223,55L222,59L222,64L222,68M257,47L261,49L265,52L268,55L272,57L275,61L277,65L280,68M272,56L275,59L278,63M257,47L258,51L260,55M156,186L159,186L163,186L166,187L169,189L172,190L174,193L177,196M222,272L224,275L225,279L224,282L225,285M99,409L99,414L97,418L96,422L94,427L95,431L98,435L99,439L98,444L99,448L102,452M165,268L162,271L161,275L162,280L164,284M141,335L142,331L144,327L144,322L143,318L143,313L144,309M73,453L77,456L80,459L84,462L86,466L89,469L92,472L95,476M82,393L81,398L83,402L84,406L83,411M131,313L130,317L131,321L132,326L133,330M106,355L103,358L101,362L99,366L96,369L93,373L91,377L89,381L87,385L87,389M118,404L116,407L112,409L109,413L107,417L104,420L101,424L101,428L103,432L105,436L109,438M107,323L105,328L105,332L106,336L106,341L108,345L107,349L105,354M110,310L113,314L117,316L121,318L125,320L129,320L134,321L138,321M303,446L299,448L295,450L291,452L286,452L282,452M266,325L268,321L267,317L266,312L266,308L264,304L262,300M248,301L250,304L253,308L255,312L254,317L254,321L255,326L254,330L252,334M266,304L264,300L263,296L265,291L268,288L271,285L276,284L279,281L284,281L288,280M255,294L255,289L252,285L252,281L253,276L255,273L258,269M290,440L291,436L292,431L295,427L296,423L297,419L300,415L303,412L306,409M282,348L280,353L278,356L275,359L273,364M278,428L274,430L270,431L266,430L261,432L258,435L256,439L255,443L255,448L253,452M253,296L251,292L250,288L250,283L252,279L252,275L254,271L256,267M287,442L288,446L288,451L288,455L287,459L284,463M305,330L304,325L302,321L302,317L302,312L301,308L300,303L301,299L300,295L300,290M252,291L256,293L259,296L263,298L267,300M285,448L283,452L282,457L279,460L277,464L274,467M270,342L272,339L274,335L277,331L280,328L283,324" fill="none" stroke="#fff" stroke-width="1" stroke-linejoin="round" opacity="0.3"/>
<path d="M133,15L133,11L132,7L132,3L132,-1L133,-5M173,21L173,25L174,28L175,32L175,36L177,40M246,33L248,37L252,39M231,30L235,31L238,34L242,36L247,36M154,176L151,176L147,175L144,173L142,171L139,169L136,168M162,237L164,240L164,244L163,247L162,251L160,253M226,227L224,225L222,222L222,219L221,215L220,212L218,209L216,206M94,376L91,380L88,383L86,387L83,390L79,393L78,397L75,401L75,405L73,410M99,391L101,395L104,398L109,399L112,402L117,403L121,403L125,403M120,389L119,385L118,380L118,376L118,371L117,367L115,363L116,358M91,460L88,463L84,465L79,466L75,467L71,467L66,466L62,468L58,469L53,470L49,471M165,289L164,294L161,297L156,298L152,296L148,295L143,295L139,293L135,291L132,287L132,283M97,311L92,312L88,312L83,313L79,313M108,393L106,390L103,386L99,383L98,379M137,342L135,345L131,348L126,347L123,345M88,456L87,461L87,465L89,470L92,473L94,477M101,423L101,427L101,432L103,436L106,439L110,441L115,440M117,423L117,427L115,431L113,435L112,439L110,444L108,448M273,298L275,302L276,306L278,310L279,315L279,319L279,324L278,328M288,446L289,442L290,437L289,433L288,429L287,424L287,420L289,416M290,409L292,412L296,415L300,417L304,418L308,421L313,421L317,422L320,426M283,450L282,454L279,457L275,459L272,463L268,465M274,375L273,380L270,384L267,387L265,391L263,395L261,399L258,402L257,407L255,411L251,414M291,428L286,427L282,427L277,428L274,430L269,431L265,431L260,431L256,432L251,433M294,385L297,387L301,390L305,393L308,396L313,397L317,395L321,396L325,393L328,390M268,348L270,351L270,356L273,360L275,364L276,368L276,372L276,377L277,381L277,386L278,390M249,338L244,337L241,334L240,330L236,327L234,323L233,319L230,315L227,312L222,312L218,310M238,349L243,351L246,354L246,359L249,362L251,366L250,371L252,375L251,380M300,467L300,471L300,476L302,480L302,484L302,489L300,493L299,497M303,437L299,439L295,440L290,440L286,441L283,443L278,444L274,446L270,447L265,447L261,449M294,435L293,440L295,444L298,447L301,450L303,454L304,459L303,463" fill="none" stroke="#fff" stroke-width="1" stroke-linejoin="round" opacity="0.4"/>
<path d="M159,20L163,21L167,20L170,18L173,15L177,14L181,12L185,12M172,28L174,31L174,35L176,39L176,43L177,47M129,26L132,29L136,31L139,34L140,37L143,40L146,42L148,46M156,8L160,9L162,12L164,16L162,20M146,9L142,8L138,8L134,9L130,8L126,8L122,9L118,7L115,5M261,37L262,41L261,46L260,50M197,33L201,34L206,33L210,33L214,31M251,27L247,30L245,34L241,37M277,46L281,46L286,46L290,46L294,47L298,50L303,50L307,50M160,223L158,226L154,226L151,226M155,189L158,191L160,194L162,197L165,199L168,200L171,198L175,197M158,202L161,199L162,196L164,193L167,192M229,210L227,212L226,216L224,219L222,222L222,225L220,228L220,232M122,486L121,482L122,477L123,473L124,468L126,464M120,345L120,349L120,354L118,358L118,362L119,367L119,371L116,375L112,376L108,379L105,383M125,310L122,313L118,315L115,319L112,321L109,325L106,328M87,361L88,365L92,368L93,372L96,376L97,380L97,385L98,389L100,393L99,398M76,440L75,444L76,449L76,453L74,457L74,462L75,466L77,470M104,380L105,375L108,372L112,370L117,370L121,371L125,372M123,371L120,367L116,365L112,365L107,366L103,368M141,336L142,340L142,345L139,349L136,352L133,355M108,395L110,399L112,403L114,407L116,411L119,414L123,417L127,419L131,420L135,423M95,421L99,419L102,416L106,415L111,414L115,415L119,416L123,418M260,338L262,342L261,347L260,351L257,355L254,358L252,362L250,366L247,370L243,372M298,464L297,468L298,473L298,477L296,481L295,485L292,489L290,493L288,497L287,502M279,347L279,343L277,339L276,334L274,331L274,326L275,322M320,450L318,454L314,456L310,457L305,457L301,455L298,451L298,447M293,377L292,381L290,385L289,390L289,394L291,398L294,402L298,403L302,406L305,409M265,302L265,297L267,293L270,289L274,287L278,286L282,284M255,341L255,345L253,349L250,353L247,356L243,357L239,359L234,360L230,360M275,331L273,336L272,340L271,344L269,349L267,352L265,356L266,361M202,295L205,299L209,300L213,300L218,301L222,303M315,422L318,425L322,427L326,427L331,428L335,429L339,431L344,431L348,430L352,428M281,331L283,335L287,337L289,341L292,345L296,347L300,349L304,352L308,353" fill="none" stroke="#fff" stroke-width="1" stroke-linejoin="round" opacity="0.5"/>
<path d="M157,272L160,270L164,269L166,266L169,264L172,262L173,259M161,240L161,237L163,234L166,232L169,232L172,231M165,239L163,242L161,244L158,246L154,248L151,249M230,245L227,245L224,247L220,247L217,247L213,249M109,451L109,456L107,460L103,462L100,465L97,468M114,330L115,334L116,339L120,342L124,343L127,346L129,350L129,355L127,359L126,363L125,367M105,362L101,364L97,366L93,368L89,370L85,370L81,372L76,373L72,374L68,376M77,430L79,434L80,438L81,443L80,447L82,451L85,454L88,458M136,424L133,421L129,418L127,414L124,411L122,407L124,402L126,399M168,291L167,286L165,283L161,280L157,278L152,278L148,277L144,275L140,273L136,272M94,439L97,442L101,444L105,444L110,444L114,442L119,442L123,441L127,439L130,436M303,417L301,421L302,426L303,430L303,435L303,439L302,443L301,448L302,452L301,457M302,392L297,394L293,395L289,395L284,396L281,399L279,403L276,407L273,410L270,413L267,417M323,391L321,387L321,382L322,378L324,374L326,370M286,473L283,469L282,465L281,461L282,456L284,452L288,450L290,446L294,444L298,441M295,425L295,430L293,434L289,437L285,438L281,440L277,442" fill="none" stroke="#fff" stroke-width="1" stroke-linejoin="round" opacity="0.6"/>
<path d="M162,217L162,220L160,223L157,225L154,227L151,229L150,232L148,235M225,223L229,224L231,226L235,227L238,228L241,229L245,229L248,229M232,185L235,186L239,186L242,187" fill="none" stroke="#fff" stroke-width="1" stroke-linejoin="round" opacity="0.7"/>
<path d="M230,250L232,253L233,256L233,260L233,263L231,266L228,268M224,163L221,162L218,163L215,165L212,167L211,170L211,174L211,177M142,305L137,305L133,303L128,303L124,303L120,305L116,308M119,445L121,449L125,451L130,451L134,451L138,452L142,455" fill="none" stroke="#fff" stroke-width="1.5" stroke-linejoin="round" opacity="0.3"/>
<path d="M229,234L233,235L235,237L238,240L241,242M91,447L90,452L89,456L88,460L85,464L81,467L80,471L76,474L74,478L71,481L68,485M298,403L297,407L295,411L291,413L288,416L284,419L281,423L279,426L277,430" fill="none" stroke="#fff" stroke-width="1.5" stroke-linejoin="round" opacity="0.4"/>
<path d="M251,34L254,38L256,41M157,272L154,270L151,269L149,266L146,264L143,263L140,262L137,260M112,364L113,359L115,355L116,350L115,346L112,342M286,413L287,417L286,422L283,425L281,429L281,434L282,438M312,396L312,400L313,405L315,409L314,414L313,418L314,422L312,427M239,335L236,339L235,343L232,346L231,350" fill="none" stroke="#fff" stroke-width="1.5" stroke-linejoin="round" opacity="0.5"/>
<path d="M235,239L231,239L228,237" fill="none" stroke="#fff" stroke-width="1.5" stroke-linejoin="round" opacity="0.6"/>
<rect x="0" y="0" width="1.5" height="492.6" filter="url(#grain)" opacity="0.04"/>
</g>
<clipPath id="clip6"><rect x="0" y="0" width="394.2" height="492.6"/></clipPath>
<g transform="translate(1015,2065.4)" clip-path="url(#clip6)">
<rect x="0" y="0" width="394.2" height="492.6" fill="#050505"/>
<path d="M90,0 L320,0 L320,40 L280,35 L200,30 L130,40 L90,60 Z" fill="#fff" opacity="0.5" filter="url(#tA)"/>
<path d="M0,120 L70,110 L80,260 L0,270 Z" fill="#fff" opacity="0.25" filter="url(#tA)"/>
<path d="M330,40 L394,30 L394,140 L340,130 Z" fill="#fff" opacity="0.15" filter="url(#tA)"/>
<path d="M0.0,44.0 C2.0,43.3 8.0,41.3 12.0,40.0 C16.0,38.7 22.0,36.7 24.0,36.0" fill="none" stroke="#fff" stroke-width="1.5" stroke-linecap="round" stroke-linejoin="round" opacity="0.7" filter="url(#b1)"/>
<path d="M0.0,80.0 C2.0,79.3 7.8,77.0 12.0,76.0 C16.2,75.0 22.8,74.3 25.0,74.0" fill="none" stroke="#fff" stroke-width="1.5" stroke-linecap="round" stroke-linejoin="round" opacity="0.7" filter="url(#b1)"/>
<path d="M105.0,40.0 C104.2,45.0 101.5,60.0 100.0,70.0 C98.5,80.0 96.5,90.0 96.0,100.0 C95.5,110.0 96.3,120.0 97.0,130.0 C97.7,140.0 99.5,155.0 100.0,160.0" fill="none" stroke="#fff" stroke-width="1.5" stroke-linecap="round" stroke-linejoin="round" opacity="0.45" filter="url(#b1)"/>
<path d="M285.0,30.0 C287.5,34.2 296.7,45.0 300.0,55.0 C303.3,65.0 304.2,84.2 305.0,90.0" fill="none" stroke="#fff" stroke-width="1.5" stroke-linecap="round" stroke-linejoin="round" opacity="0.3" filter="url(#b1)"/>
<path d="M120,80 C125,45 170,38 210,38 C255,38 290,45 295,80 C300,120 280,150 250,160 L165,160 C135,150 118,120 120,80 Z" fill="#020202" opacity="0.9" filter="url(#b8)"/>
<ellipse cx="205" cy="240" rx="60" ry="80" fill="#fff" opacity="0.07" filter="url(#b25)"/>
<path d="M174.0,165.0 C174.0,169.2 174.3,181.7 174.0,190.0 C173.7,198.3 172.3,206.7 172.0,215.0 C171.7,223.3 172.2,232.2 172.0,240.0 C171.8,247.8 171.0,254.0 171.0,262.0 C171.0,270.0 171.8,283.7 172.0,288.0" fill="none" stroke="#fff" stroke-width="15" stroke-linecap="round" opacity="0.4" filter="url(#b4)"/>
<path d="M174.0,165.0 C174.0,169.2 174.3,181.7 174.0,190.0 C173.7,198.3 172.3,206.7 172.0,215.0 C171.7,223.3 172.2,232.2 172.0,240.0 C171.8,247.8 171.0,254.0 171.0,262.0 C171.0,270.0 171.8,283.7 172.0,288.0" fill="none" stroke="#fff" stroke-width="4.5" stroke-linecap="round" opacity="0.9" filter="url(#b2)"/>
<path d="M174.0,165.0 C174.0,169.2 174.3,181.7 174.0,190.0 C173.7,198.3 172.3,206.7 172.0,215.0 C171.7,223.3 172.2,232.2 172.0,240.0 C171.8,247.8 171.0,254.0 171.0,262.0 C171.0,270.0 171.8,283.7 172.0,288.0" fill="none" stroke="#fff" stroke-width="2.5" stroke-linecap="round" opacity="1.0" filter="url(#b1)"/>
<ellipse cx="245" cy="180" rx="24" ry="18" fill="#fff" opacity="0.55" filter="url(#b4)"/>
<path d="M240.0,195.0 C240.0,199.2 239.8,211.7 240.0,220.0 C240.2,228.3 241.0,236.7 241.0,245.0 C241.0,253.3 240.5,262.5 240.0,270.0 C239.5,277.5 238.3,286.7 238.0,290.0" fill="none" stroke="#fff" stroke-width="15" stroke-linecap="round" opacity="0.4" filter="url(#b4)"/>
<path d="M240.0,195.0 C240.0,199.2 239.8,211.7 240.0,220.0 C240.2,228.3 241.0,236.7 241.0,245.0 C241.0,253.3 240.5,262.5 240.0,270.0 C239.5,277.5 238.3,286.7 238.0,290.0" fill="none" stroke="#fff" stroke-width="4.5" stroke-linecap="round" opacity="0.9" filter="url(#b2)"/>
<path d="M240.0,195.0 C240.0,199.2 239.8,211.7 240.0,220.0 C240.2,228.3 241.0,236.7 241.0,245.0 C241.0,253.3 240.5,262.5 240.0,270.0 C239.5,277.5 238.3,286.7 238.0,290.0" fill="none" stroke="#fff" stroke-width="2.5" stroke-linecap="round" opacity="1.0" filter="url(#b1)"/>
<path d="M220.0,215.0 C222.0,216.7 228.7,222.2 232.0,225.0 C235.3,227.8 238.7,230.8 240.0,232.0" fill="none" stroke="#fff" stroke-width="4" stroke-linecap="round" stroke-linejoin="round" opacity="1" filter="url(#b1)"/>
<path d="M255.0,218.0 C253.8,219.7 250.2,225.2 248.0,228.0 C245.8,230.8 243.0,233.8 242.0,235.0" fill="none" stroke="#fff" stroke-width="3" stroke-linecap="round" stroke-linejoin="round" opacity="0.9" filter="url(#b1)"/>
<path d="M168.0,290.0 C165.0,291.7 155.5,295.3 150.0,300.0 C144.5,304.7 139.2,312.2 135.0,318.0 C130.8,323.8 127.2,328.0 125.0,335.0 C122.8,342.0 123.2,351.7 122.0,360.0 C120.8,368.3 120.8,378.3 118.0,385.0 C115.2,391.7 108.8,395.8 105.0,400.0 C101.2,404.2 96.7,408.3 95.0,410.0" fill="none" stroke="#fff" stroke-width="1.5" stroke-linecap="round" stroke-linejoin="round" opacity="0.7"/>
<path d="M245.0,290.0 C247.8,292.5 257.0,299.2 262.0,305.0 C267.0,310.8 271.2,317.5 275.0,325.0 C278.8,332.5 282.2,341.7 285.0,350.0 C287.8,358.3 289.8,366.7 292.0,375.0 C294.2,383.3 296.7,392.5 298.0,400.0 C299.3,407.5 299.7,416.7 300.0,420.0" fill="none" stroke="#fff" stroke-width="1.5" stroke-linecap="round" stroke-linejoin="round" opacity="0.7"/>
<path d="M295.0,360.0 C297.2,362.5 304.2,370.0 308.0,375.0 C311.8,380.0 316.3,387.5 318.0,390.0" fill="none" stroke="#fff" stroke-width="1.2" stroke-linecap="round" stroke-linejoin="round" opacity="0.6"/>
<ellipse cx="212" cy="392" rx="10" ry="8" fill="#fff" opacity="0.55" filter="url(#b4)"/>
<path d="M131,410h0M274,429h0" stroke="#fff" stroke-width="1" stroke-linecap="round" opacity="0.5"/>
<path d="M221,171h0M302,367h0" stroke="#fff" stroke-width="1" stroke-linecap="round" opacity="0.6"/>
<path d="M140,324h0M95,441h0M264,471h0" stroke="#fff" stroke-width="1" stroke-linecap="round" opacity="0.7"/>
<path d="M164,191h0M175,189h0M105,347h0" stroke="#fff" stroke-width="1" stroke-linecap="round" opacity="0.8"/>
<path d="M303,314h0M283,412h0" stroke="#fff" stroke-width="1" stroke-linecap="round" opacity="0.9"/>
<path d="M127,340h0M286,449h0M292,312h0M300,309h0M228,280h0" stroke="#fff" stroke-width="1.5" stroke-linecap="round" opacity="0.4"/>
<path d="M175,267h0M168,282h0M174,269h0M246,218h0M100,464h0M148,450h0M95,364h0M148,304h0M130,488h0M115,385h0M98,466h0M133,317h0M158,440h0M293,469h0M279,483h0M270,361h0M273,345h0M275,493h0M262,465h0" stroke="#fff" stroke-width="1.5" stroke-linecap="round" opacity="0.5"/>
<path d="M183,234h0M167,253h0M265,188h0M220,173h0M233,158h0M117,335h0M101,436h0M86,425h0M102,366h0M111,318h0M118,394h0M281,398h0M284,466h0M276,281h0M266,323h0M246,340h0" stroke="#fff" stroke-width="1.5" stroke-linecap="round" opacity="0.6"/>
<path d="M239,268h0M148,301h0M132,331h0M126,337h0M84,414h0M84,414h0M136,322h0M136,322h0M101,357h0M145,321h0M127,340h0M278,412h0M279,420h0M278,412h0M307,364h0M288,428h0M286,432h0" stroke="#fff" stroke-width="1.5" stroke-linecap="round" opacity="0.7"/>
<path d="M174,258h0M97,361h0M92,374h0M116,354h0M157,460h0M113,398h0M131,388h0M140,379h0M124,339h0M293,385h0M269,478h0M268,355h0M277,381h0M277,377h0M289,350h0M292,346h0M286,405h0M268,416h0" stroke="#fff" stroke-width="1.5" stroke-linecap="round" opacity="0.8"/>
<path d="M159,281h0M173,218h0M117,407h0M295,431h0M287,434h0M306,414h0M292,410h0M303,406h0M303,401h0M287,392h0M263,315h0M254,316h0" stroke="#fff" stroke-width="1.5" stroke-linecap="round" opacity="0.9"/>
<path d="M242,168h0" stroke="#fff" stroke-width="1.5" stroke-linecap="round" opacity="1"/>
<path d="M125,367h0M127,376h0M122,348h0M315,430h0M304,456h0M277,329h0M237,289h0" stroke="#fff" stroke-width="2" stroke-linecap="round" opacity="0.4"/>
<path d="M165,225h0M187,223h0M182,179h0M242,236h0M112,476h0M104,472h0M148,441h0M105,410h0M131,291h0M144,301h0M128,501h0M108,379h0M101,367h0M98,466h0M136,313h0M117,376h0M158,440h0M291,453h0M285,308h0M249,426h0" stroke="#fff" stroke-width="2" stroke-linecap="round" opacity="0.5"/>
<path d="M251,163h0M156,409h0M117,335h0M121,347h0M140,346h0M110,451h0M105,443h0M98,450h0M122,443h0M121,439h0M172,295h0M107,373h0M120,347h0M111,318h0M114,396h0M268,295h0M283,389h0M301,475h0M301,475h0M287,474h0M284,478h0M277,380h0M324,355h0M324,360h0" stroke="#fff" stroke-width="2" stroke-linecap="round" opacity="0.6"/>
<path d="M172,174h0M251,162h0M245,180h0M241,203h0M239,234h0M232,207h0M149,305h0M98,403h0M151,312h0M138,327h0M89,435h0M81,452h0M303,365h0M264,471h0M274,463h0M294,390h0M294,394h0" stroke="#fff" stroke-width="2" stroke-linecap="round" opacity="0.7"/>
<path d="M175,231h0M173,278h0M169,226h0M257,162h0M244,165h0M241,168h0M257,226h0M89,377h0M116,354h0M142,451h0M273,470h0M277,381h0M284,343h0M290,343h0M287,339h0M284,409h0" stroke="#fff" stroke-width="2" stroke-linecap="round" opacity="0.8"/>
<path d="M172,203h0M238,157h0M109,378h0M114,385h0M84,435h0M83,418h0M125,366h0M313,335h0M303,406h0M287,392h0M269,339h0M269,339h0M267,317h0" stroke="#fff" stroke-width="2" stroke-linecap="round" opacity="0.9"/>
<path d="M249,161h0M240,202h0" stroke="#fff" stroke-width="2" stroke-linecap="round" opacity="1"/>
<path d="M121,360h0M127,340h0M143,371h0M139,350h0M315,430h0M318,422h0M286,449h0M285,444h0M292,388h0M296,390h0M304,434h0M301,430h0M237,289h0" stroke="#fff" stroke-width="2.5" stroke-linecap="round" opacity="0.4"/>
<path d="M168,195h0M236,238h0M148,445h0M105,410h0M87,361h0M129,483h0M113,467h0M132,321h0M113,394h0M113,403h0M130,401h0M158,440h0M280,466h0M276,311h0M269,429h0M282,504h0M270,455h0" stroke="#fff" stroke-width="2.5" stroke-linecap="round" opacity="0.5"/>
<path d="M179,181h0M254,165h0M261,193h0M233,158h0M253,214h0M152,406h0M123,448h0M176,296h0M109,377h0M114,396h0M268,295h0M301,440h0M299,444h0M296,474h0M284,487h0M317,454h0M322,461h0M274,383h0M274,383h0M267,301h0M252,328h0M246,340h0M276,396h0M270,390h0M261,380h0" stroke="#fff" stroke-width="2.5" stroke-linecap="round" opacity="0.6"/>
<path d="M169,230h0M172,249h0M184,240h0M256,174h0M243,279h0M249,252h0M140,281h0M142,285h0M145,313h0M132,331h0M151,312h0M151,312h0M141,438h0M130,424h0M68,385h0M98,437h0M295,422h0" stroke="#fff" stroke-width="2.5" stroke-linecap="round" opacity="0.7"/>
<path d="M172,251h0M167,213h0M173,210h0M234,175h0M271,179h0M242,280h0M239,246h0M132,437h0M132,350h0M288,378h0M285,375h0M269,478h0M268,355h0M280,335h0M284,299h0M276,296h0M293,299h0" stroke="#fff" stroke-width="2.5" stroke-linecap="round" opacity="0.8"/>
<path d="M178,209h0M175,188h0M175,274h0M171,166h0M241,220h0M243,239h0M226,232h0M124,389h0M116,378h0M82,427h0M125,366h0M128,363h0M307,405h0M306,331h0M306,394h0M278,349h0" stroke="#fff" stroke-width="2.5" stroke-linecap="round" opacity="0.9"/>
<path d="M177,248h0M169,208h0M239,284h0" stroke="#fff" stroke-width="2.5" stroke-linecap="round" opacity="1"/>
<path d="M257,212h0M144,367h0M296,390h0" stroke="#fff" stroke-width="3" stroke-linecap="round" opacity="0.4"/>
<path d="M108,407h0M91,363h0M129,397h0M286,460h0M279,483h0M276,311h0M270,361h0M278,501h0M267,458h0" stroke="#fff" stroke-width="3" stroke-linecap="round" opacity="0.5"/>
<path d="M261,175h0M227,172h0M224,173h0M260,190h0M246,247h0M158,413h0M140,346h0M139,342h0M89,428h0M163,293h0M268,295h0M286,386h0M317,454h0" stroke="#fff" stroke-width="3" stroke-linecap="round" opacity="0.6"/>
<path d="M168,231h0M244,205h0M239,270h0M142,285h0M143,442h0M88,368h0M91,439h0M91,439h0M291,359h0M286,374h0" stroke="#fff" stroke-width="3" stroke-linecap="round" opacity="0.7"/>
<path d="M170,219h0M175,276h0M272,183h0M237,285h0M125,334h0M269,351h0" stroke="#fff" stroke-width="3" stroke-linecap="round" opacity="0.8"/>
<path d="M171,246h0M236,159h0M239,228h0M119,381h0M287,434h0M308,422h0M287,392h0" stroke="#fff" stroke-width="3" stroke-linecap="round" opacity="0.9"/>
<path d="M238,281h0M241,254h0M241,262h0" stroke="#fff" stroke-width="3" stroke-linecap="round" opacity="1"/>
<path d="M226,161h0M257,173h0M244,223h0M244,240h0M240,210h0" stroke="#fff" stroke-width="3.5" stroke-linecap="round" opacity="0.8"/>
<path d="M178,191h0M167,214h0M256,193h0M239,272h0" stroke="#fff" stroke-width="3.5" stroke-linecap="round" opacity="0.9"/>
<path d="M168,197h0M239,241h0M244,241h0" stroke="#fff" stroke-width="3.5" stroke-linecap="round" opacity="1"/>
<path d="M171,216h0M239,261h0" stroke="#fff" stroke-width="4" stroke-linecap="round" opacity="0.7"/>
<path d="M176,200h0M250,177h0M240,223h0M243,224h0M243,215h0" stroke="#fff" stroke-width="4" stroke-linecap="round" opacity="0.8"/>
<path d="M268,177h0M241,244h0M242,278h0M241,263h0" stroke="#fff" stroke-width="4" stroke-linecap="round" opacity="0.9"/>
<path d="M170,266h0M241,250h0" stroke="#fff" stroke-width="4.5" stroke-linecap="round" opacity="0.7"/>
<path d="M170,257h0M172,259h0M174,229h0M257,174h0M243,286h0M240,281h0" stroke="#fff" stroke-width="4.5" stroke-linecap="round" opacity="0.8"/>
<path d="M256,195h0M235,282h0M233,212h0" stroke="#fff" stroke-width="4.5" stroke-linecap="round" opacity="0.9"/>
<path d="M171,279h0" stroke="#fff" stroke-width="4.5" stroke-linecap="round" opacity="1"/>
<path d="M174,284h0M172,204h0M213,262h0M218,275h0" stroke="#fff" stroke-width="5" stroke-linecap="round" opacity="0.7"/>
<path d="M167,269h0M239,254h0" stroke="#fff" stroke-width="5" stroke-linecap="round" opacity="0.8"/>
<path d="M171,195h0M171,170h0M253,185h0M243,161h0M240,209h0" stroke="#fff" stroke-width="5" stroke-linecap="round" opacity="0.9"/>
<path d="M177,251h0M260,179h0M243,230h0" stroke="#fff" stroke-width="5" stroke-linecap="round" opacity="1"/>
<path d="M236,160h0" stroke="#fff" stroke-width="5.5" stroke-linecap="round" opacity="0.7"/>
<path d="M174,193h0M259,172h0M238,204h0" stroke="#fff" stroke-width="5.5" stroke-linecap="round" opacity="0.8"/>
<path d="M177,222h0M245,196h0M237,282h0M239,194h0" stroke="#fff" stroke-width="5.5" stroke-linecap="round" opacity="0.9"/>
<path d="M172,263h0M263,183h0M242,249h0" stroke="#fff" stroke-width="6" stroke-linecap="round" opacity="0.7"/>
<path d="M235,283h0" stroke="#fff" stroke-width="6" stroke-linecap="round" opacity="0.8"/>
<path d="M177,193h0M175,219h0M243,227h0" stroke="#fff" stroke-width="6" stroke-linecap="round" opacity="0.9"/>
<path d="M268,179h0M267,181h0M237,242h0" stroke="#fff" stroke-width="6" stroke-linecap="round" opacity="1"/>
<path d="M171,257h0" stroke="#fff" stroke-width="6.5" stroke-linecap="round" opacity="0.7"/>
<path d="M172,195h0M172,228h0" stroke="#fff" stroke-width="6.5" stroke-linecap="round" opacity="0.8"/>
<path d="M255,193h0M242,254h0" stroke="#fff" stroke-width="6.5" stroke-linecap="round" opacity="0.9"/>
<path d="M247,184h0M241,212h0M239,265h0M242,231h0" stroke="#fff" stroke-width="6.5" stroke-linecap="round" opacity="1"/>
<path d="M174,288h0M175,251h0M171,279h0M239,230h0M243,251h0" stroke="#fff" stroke-width="7" stroke-linecap="round" opacity="0.8"/>
<path d="M172,162h0" stroke="#fff" stroke-width="7" stroke-linecap="round" opacity="0.9"/>
<path d="M171,296h0M173,235h0" stroke="#fff" stroke-width="7" stroke-linecap="round" opacity="1"/>
<path d="M268,192h0M226,178h0" stroke="#fff" stroke-width="8" stroke-linecap="round" opacity="1"/>
<path d="M180,220h0M180,234h0M182,248h0" stroke="#fff" stroke-width="10" stroke-linecap="round" opacity="1"/>
<path d="M286,449L285,444L283,440L280,437L277,434M292,388L296,390L301,391L305,390L310,390L314,392M300,426L301,430L304,434L304,438L304,443L305,447L303,452L304,456L307,459L309,463" fill="none" stroke="#fff" stroke-width="0.5" stroke-linejoin="round" opacity="0.3"/>
<path d="M173,264L175,267L177,270L179,273L181,276L184,277L187,279M108,407L105,410L100,411L96,410L91,410L87,410L83,408M127,479L129,483L130,488L129,492L128,497L128,501L127,505M117,470L113,467L110,464L106,463L101,464L98,466M115,422L116,427L116,431L118,436L121,439L122,443L123,448L123,452L121,456L117,459" fill="none" stroke="#fff" stroke-width="0.5" stroke-linejoin="round" opacity="0.4"/>
<path d="M171,222L174,225L177,227L179,229L182,231L183,234L186,237M167,253L168,256L171,258M251,162L252,165L254,168L256,171L256,174M138,325L141,321L143,317L145,313L147,309L149,305L148,301L146,297L146,292M127,420L130,424L132,428L136,431L138,435L141,438L143,442M148,317L145,321L141,323L138,327L135,329L131,332L129,336L127,340M274,463L270,465L267,468L264,471L260,474L256,475L252,478" fill="none" stroke="#fff" stroke-width="0.5" stroke-linejoin="round" opacity="0.5"/>
<path d="M173,210L176,210L180,211L183,210M241,168L239,170L236,173L234,175L230,176M280,335L282,339L284,343L286,347L289,350L291,354" fill="none" stroke="#fff" stroke-width="0.5" stroke-linejoin="round" opacity="0.6"/>
<path d="M168,276L165,278L162,279L159,281M244,242L243,239L242,235L240,233M283,436L287,434L291,431L295,431L299,428L303,427L308,426L312,428M269,339L272,342L276,345L278,349L280,353" fill="none" stroke="#fff" stroke-width="0.5" stroke-linejoin="round" opacity="0.7"/>
<path d="M238,217L242,218L245,218L248,215L251,215L255,215L257,212L261,211M121,360L123,364L125,367L126,372L127,376L128,381L129,385L133,388L137,389L140,392L143,396M132,333L130,337L127,340L125,344L122,348L121,352L122,356L125,360L129,362L132,366M115,361L112,364L108,367L104,367L99,366L95,364L91,363L87,361L83,360L78,361L74,362M139,350L141,354L143,358L143,362L144,367L143,371M312,434L315,430L317,427L318,422L316,418M275,333L277,329L280,325L282,321L285,318L289,316L292,312L295,310L300,309L303,306M250,287L245,288L241,289L237,289L232,287L229,284L228,280L228,275" fill="none" stroke="#fff" stroke-width="1" stroke-linejoin="round" opacity="0.3"/>
<path d="M168,226L165,225L162,223L162,219L163,216L165,213L163,209M175,216L178,218L181,220L184,221L187,223L190,224M170,279L168,282L167,285L167,289M175,171L178,174L181,175L182,179M171,270L174,269L177,268M171,193L168,195L165,196M234,172L231,174L228,173L224,173L221,171L219,168L216,167L212,167M261,180L261,183L262,187L260,190L261,193M231,161L233,158L234,154L235,151L237,148L238,145M246,247L242,247L239,248L236,246L232,246M242,236L243,239L244,243M240,210L243,213L246,214L250,213L253,214L257,213L260,213L263,210M240,238L236,238L233,239L230,241M97,460L100,464L101,468L104,472L107,474L112,476M147,393L148,398L150,402L152,406L156,409L158,413L157,417M148,441L148,445L148,450L146,454L143,458L139,459L135,461L131,462L126,463L122,462M99,432L101,436L104,439L105,443L109,446L110,451L113,454M151,312L149,308L148,304L144,301L142,297L139,293L136,291L131,291L127,290M101,367L103,372L106,375L108,379L111,382L115,385L119,385M119,368L117,372L117,376L115,380L113,385L113,389L113,394L113,398L113,403L115,407L114,411M98,358L100,362L102,366L104,370L107,373L109,377L109,382M118,351L120,347L121,343L120,338L119,334L116,330L115,326L114,322L111,318L107,316M121,390L118,394L114,396L111,399L109,403L107,407L105,411M134,428L138,426L142,425L146,425L151,425L155,427L157,431L158,436L158,440L161,444M302,439L301,444L298,448L295,450L291,453L289,457L286,460L282,463L280,466M295,465L293,469L293,473L291,477L288,481L283,482L279,483L274,483M267,298L267,303L268,307L272,310L276,311L281,310L285,308L288,305M266,323L265,318L264,314L263,309L264,305L267,301L269,298L272,294L273,290L275,286L276,281M279,422L277,425L274,429L269,429L265,432L261,432L257,430L253,428L249,426M302,367L304,371L308,373L313,373L317,371L320,368L321,364L324,360L324,355L324,351M270,342L273,345L274,349L275,354L273,358L270,361L267,365L266,369M276,475L276,480L276,484L277,489L275,493L275,498L278,501L282,504M292,441L288,442L283,443L280,446L278,450L274,453L270,455L267,458L264,461L262,465" fill="none" stroke="#fff" stroke-width="1" stroke-linejoin="round" opacity="0.4"/>
<path d="M177,184L179,181L181,178M175,246L178,243L181,242L184,240L186,237M258,169L259,172L261,175L262,178L265,181L266,184L265,188M220,173L224,173L227,172L229,169M257,167L254,165L251,163M245,194L246,190L246,187L245,184L245,180L247,177L249,174M239,270L239,274L239,277L239,281M239,238L239,234L239,231M240,214L238,211L235,208L232,207L230,204L228,202L224,200M240,248L244,248L247,250L249,252L252,255L255,256L258,255M119,331L117,335L117,339L119,343L121,347L122,351L122,356L124,360L126,364L129,366M128,318L128,323L130,327L132,331L135,334L138,337L139,342L140,346L142,350L143,354M106,393L103,397L100,400L98,403L95,407L90,408L87,411L84,414M104,457L102,453L98,450L96,446L97,442L98,437L96,433L93,430L89,428L86,425L83,422M153,321L149,323L145,324L140,324L136,322L132,320M101,357L100,361L97,365L93,367L88,368L85,371L82,375L79,378L75,380L71,382L68,385M155,295L159,293L163,293L168,294L172,295L176,296M102,435L98,437L95,441L92,444L89,447L85,449L81,452L80,456L79,461L80,465M281,297L277,295L273,295L268,295L264,298L261,301L260,305M286,386L283,389L281,393L281,398L280,402L277,406L277,410L277,415L275,419L274,423L271,427M284,466L287,462L291,460L293,456L295,452L297,448L299,444L301,440L303,436M287,466L288,470L287,474L284,478L283,482L284,487L285,491M315,445L315,449L317,454L319,458L322,461L324,465L327,468L330,472L334,474M291,359L295,362L298,365L303,365L307,364L311,362L314,358L316,354L319,351L322,348L327,346M278,376L277,380L274,383L270,385L266,387M249,320L251,324L252,328L251,332L248,336L246,340L242,342M261,380L263,384L267,387L270,390L272,394L276,396L279,399L283,401L288,401M286,374L286,379L288,383L291,386L294,390L294,394L296,398" fill="none" stroke="#fff" stroke-width="1" stroke-linejoin="round" opacity="0.5"/>
<path d="M173,196L170,195L167,193L164,191L161,191M175,192L175,189L177,186L180,184L183,183M170,258L174,258L177,257M241,166L244,165L248,165L251,165L254,164L257,162M271,179L272,183L270,186L271,189M241,203L245,203L248,205M242,272L242,275L243,279L243,282L243,286L242,289L239,291M239,268L236,271L233,271L230,272L227,274L223,275M244,228L247,227L250,225L253,225L257,226L260,224L263,224L266,225M239,236L239,239L239,242L239,246M139,307L141,303L142,298L142,294L142,289L142,285L140,281M126,337L128,333L132,331L136,329L140,327M97,361L96,366L93,369L92,374L89,377L86,379L84,384M116,363L117,358L116,354L112,351L108,350L105,347M132,437L133,442L135,446L138,449L142,451L146,454L149,457L153,458L157,460M140,379L138,383L135,386L131,388L127,389L122,389L118,390L114,393L113,398M132,350L130,346L127,343L124,339L125,334M281,358L281,363L280,367L282,371L285,375L288,378L291,381L293,385L293,390M298,465L294,466L290,467L285,467L281,466L276,467L273,470L270,474L269,478M271,342L270,346L269,351L268,355L267,359M281,360L280,364L278,368L276,372L277,377L277,381L275,385L272,388L268,390L264,391L259,391M285,440L284,436L286,432L288,428L292,426L295,422L299,420L301,416M294,350L292,346L290,343L287,339L286,335M286,405L284,409L281,412L277,413L272,415L268,416L264,416" fill="none" stroke="#fff" stroke-width="1" stroke-linejoin="round" opacity="0.6"/>
<path d="M228,166L231,164L233,161L236,159L238,157L241,154L244,153M239,236L235,235L232,233L229,233L226,232L222,230L219,229L216,229M124,389L121,386L119,381L116,378L113,375L112,371L109,367L107,363M117,407L118,402L119,398L117,394L116,389L114,385L111,382L109,378M100,398L98,402L95,405L93,409L90,412L87,415L83,418L81,422L82,427L82,431L84,435M114,390L118,387L120,383L120,379L121,374L124,371L125,366L128,363L132,362L137,361M302,392L304,397L305,401L307,405L307,409L306,414L306,418L308,422M303,314L301,319L301,323L303,327L306,331L309,334L313,335M303,386L306,389L306,394L305,398L302,401L298,404L295,407L292,410L288,412L283,412M303,401L303,406L304,410L308,413L310,417M282,375L283,379L286,383L287,387L287,392M245,318L250,317L254,316L258,314L263,315L267,317L271,317" fill="none" stroke="#fff" stroke-width="1" stroke-linejoin="round" opacity="0.7"/>
<path d="M242,168L245,167L247,164L249,161" fill="none" stroke="#fff" stroke-width="1" stroke-linejoin="round" opacity="0.8"/>
<path d="M241,214L244,216L246,218L247,222L250,224M132,321L133,317L136,313L137,309L139,305L137,300M129,397L130,401L130,406L131,410L132,414" fill="none" stroke="#fff" stroke-width="1.5" stroke-linejoin="round" opacity="0.4"/>
<path d="M168,231L170,233L173,236L176,236L180,235M91,439L89,435L86,432L81,431L77,430M305,475L301,475L296,474L293,471L289,469L284,469L280,468M277,394L277,399L277,403L276,408L278,412L278,416L279,420" fill="none" stroke="#fff" stroke-width="1.5" stroke-linejoin="round" opacity="0.5"/>
<path d="M151,312L147,314L142,315L139,317L135,319M276,296L280,296L284,299L288,299L293,299" fill="none" stroke="#fff" stroke-width="1.5" stroke-linejoin="round" opacity="0.6"/>
<path d="M170,219L173,218L177,218L180,219L183,218L185,215" fill="none" stroke="#fff" stroke-width="1.5" stroke-linejoin="round" opacity="0.7"/>
<rect x="0" y="0" width="1.5" height="492.6" filter="url(#grain)" opacity="0.05"/>
</g>
<circle cx="251.8" cy="1610.7" r="40" fill="#2B2A72" stroke="none" stroke-width="0" />
<circle cx="665.7" cy="1610.7" r="40" fill="#1E78C0" stroke="none" stroke-width="0" />
<circle cx="1077.1" cy="1611" r="40" fill="#2EE0E0" stroke="none" stroke-width="0" />
<circle cx="1492.6" cy="1611" r="40" fill="#2EEE3A" stroke="none" stroke-width="0" />
<circle cx="251.1" cy="2125.7" r="40" fill="#FFD814" stroke="none" stroke-width="0" />
<circle cx="668.6" cy="2125.7" r="40" fill="#F26B2A" stroke="none" stroke-width="0" />
<circle cx="1078" cy="2125.7" r="40" fill="#E8202A" stroke="none" stroke-width="0" />
<text x="448.40" y="1678.20" font-size="30" fill="#ffffff" >aPO</text>
<text x="448.85" y="1726.20" font-size="30" fill="#ffffff" >pPO</text>
<text x="865.30" y="1671.80" font-size="30" fill="#ffffff" >aPO</text>
<text x="866.05" y="1724.50" font-size="30" fill="#ffffff" >pPO</text>
<text x="870.00" y="1775.80" font-size="30" fill="#ffffff" >PT</text>
<text x="1272.80" y="1697.10" font-size="30" fill="#ffffff" >aPO</text>
<text x="1274.55" y="1744.20" font-size="30" fill="#ffffff" >pPO</text>
<text x="1286.60" y="1803.80" font-size="30" fill="#ffffff" >PT</text>
<text x="1680.50" y="1663.80" font-size="30" fill="#ffffff" >aPO</text>
<text x="1679.75" y="1713.50" font-size="30" fill="#ffffff" >pPO</text>
<text x="1690.60" y="1778.20" font-size="30" fill="#ffffff" >PT</text>
<text x="460.50" y="2206.80" font-size="30" fill="#ffffff" >aPO</text>
<text x="459.75" y="2256.40" font-size="30" fill="#ffffff" >pPO</text>
<text x="469.50" y="2312.30" font-size="30" fill="#ffffff" >PT</text>
<text x="379.40" y="2461.00" font-size="30" fill="#ffffff" >Pit.</text>
<text x="864.80" y="2238.20" font-size="30" fill="#ffffff" >aPO</text>
<text x="864.05" y="2286.80" font-size="30" fill="#ffffff" >pPO</text>
<text x="874.60" y="2339.00" font-size="30" fill="#ffffff" >PT</text>
<text x="771.50" y="2482.80" font-size="30" fill="#ffffff" >Pit.</text>
<text x="1298.80" y="2246.80" font-size="30" fill="#ffffff" >aPO</text>
<text x="1299.75" y="2294.00" font-size="30" fill="#ffffff" >pPO</text>
<text x="1308.60" y="2348.60" font-size="30" fill="#ffffff" >PT</text>
<text x="1208.60" y="2501.00" font-size="30" fill="#ffffff" >Pit.</text>
<text x="243.90" y="1956.30" font-size="30" fill="#ffffff" >A</text>
<text x="197.40" y="2013.20" font-size="30" fill="#ffffff" >L</text>
<line x1="255.2" y1="1975" x2="255.2" y2="2032.4" stroke="#ffffff" stroke-width="3" />
<line x1="228" y1="2003.5" x2="285" y2="2003.5" stroke="#ffffff" stroke-width="3" />
<path d="M248,1980 L255.2,1971 L262.4,1980" fill="none" stroke="#fff" stroke-width="3"/>
<path d="M233,1996.5 L224,2003.5 L233,2010.5" fill="none" stroke="#fff" stroke-width="3"/>
<line x1="1759" y1="1982.8" x2="1803.7" y2="1982.8" stroke="#ffffff" stroke-width="4" />
<line x1="1343" y1="2496" x2="1388.8" y2="2496" stroke="#ffffff" stroke-width="4" />
</svg>
</body></html>
